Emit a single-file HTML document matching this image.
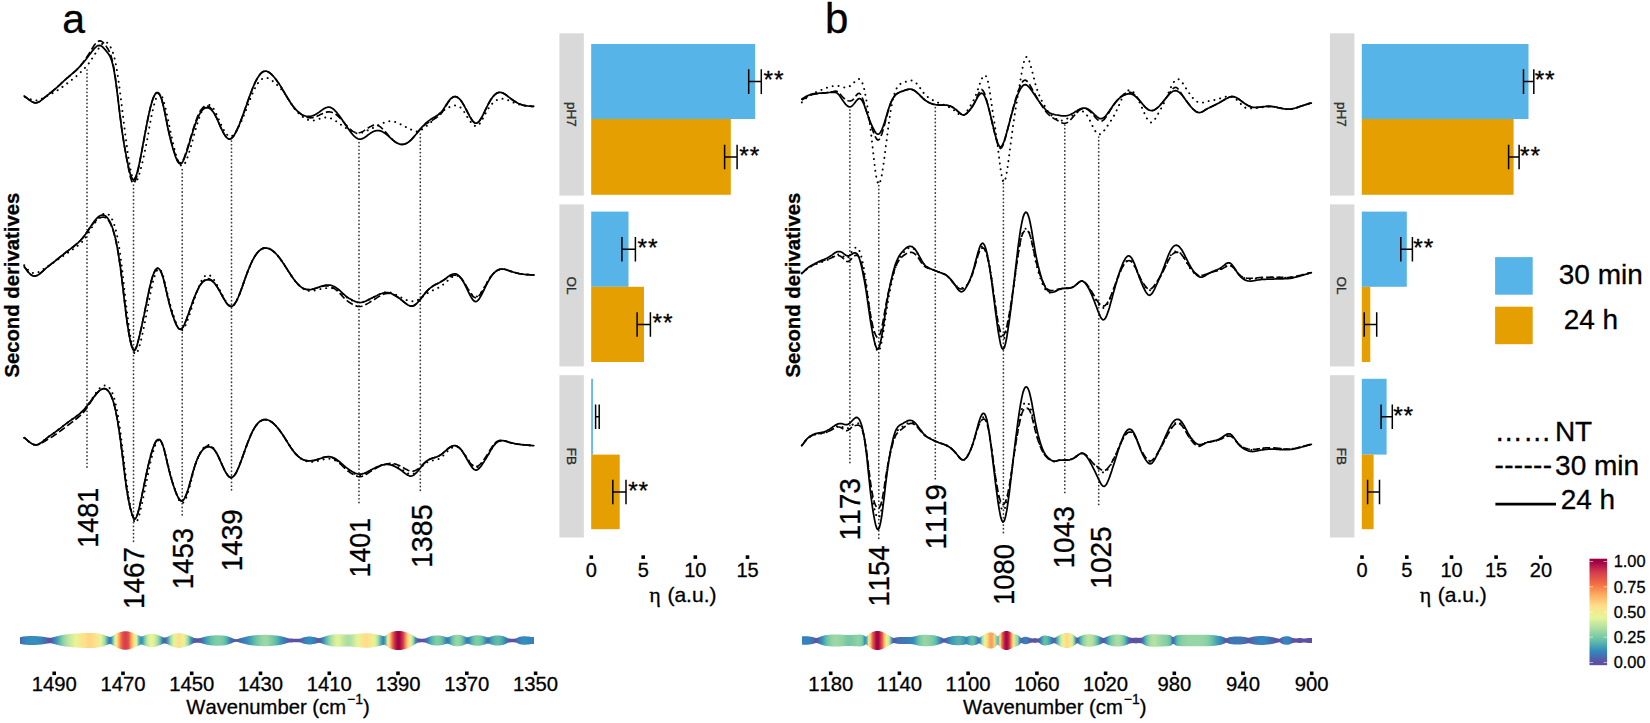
<!DOCTYPE html>
<html lang="en"><head><meta charset="utf-8"><title>Second derivative spectra</title>
<style>html,body{margin:0;padding:0;background:#fff}svg{display:block}text{stroke:#000;stroke-width:.3px;font-kerning:none}</style></head>
<body>
<svg width="1650" height="723" viewBox="0 0 1650 723" font-family='"Liberation Sans", sans-serif' fill="#000">
<rect width="1650" height="723" fill="#fff"/>
<line x1="87" y1="70" x2="87" y2="470.3" stroke="#3a3a3a" stroke-width="1.75" stroke-dasharray="0.1 3.61" stroke-linecap="round"/>
<line x1="133.5" y1="185" x2="133.5" y2="544.7" stroke="#3a3a3a" stroke-width="1.75" stroke-dasharray="0.1 3.61" stroke-linecap="round"/>
<line x1="182.2" y1="169.7" x2="182.2" y2="516.7" stroke="#3a3a3a" stroke-width="1.75" stroke-dasharray="0.1 3.61" stroke-linecap="round"/>
<line x1="231.5" y1="141" x2="231.5" y2="493.2" stroke="#3a3a3a" stroke-width="1.75" stroke-dasharray="0.1 3.61" stroke-linecap="round"/>
<line x1="359" y1="142.6" x2="359" y2="504.9" stroke="#3a3a3a" stroke-width="1.75" stroke-dasharray="0.1 3.61" stroke-linecap="round"/>
<line x1="420.3" y1="134" x2="420.3" y2="490.7" stroke="#3a3a3a" stroke-width="1.75" stroke-dasharray="0.1 3.61" stroke-linecap="round"/>
<line x1="849.9" y1="110" x2="849.9" y2="465.6" stroke="#3a3a3a" stroke-width="1.75" stroke-dasharray="0.1 3.61" stroke-linecap="round"/>
<line x1="878.8" y1="182" x2="878.8" y2="539.8" stroke="#3a3a3a" stroke-width="1.75" stroke-dasharray="0.1 3.61" stroke-linecap="round"/>
<line x1="935.3" y1="107.6" x2="935.3" y2="480.6" stroke="#3a3a3a" stroke-width="1.75" stroke-dasharray="0.1 3.61" stroke-linecap="round"/>
<line x1="1003.4" y1="180" x2="1003.4" y2="534" stroke="#3a3a3a" stroke-width="1.75" stroke-dasharray="0.1 3.61" stroke-linecap="round"/>
<line x1="1064.8" y1="125" x2="1064.8" y2="493.1" stroke="#3a3a3a" stroke-width="1.75" stroke-dasharray="0.1 3.61" stroke-linecap="round"/>
<line x1="1098.7" y1="137" x2="1098.7" y2="507.9" stroke="#3a3a3a" stroke-width="1.75" stroke-dasharray="0.1 3.61" stroke-linecap="round"/>
<path d="M25.2,97.2L26.4,97.6L27.7,98.1L28.9,98.7L30.2,99.2L31.4,99.6L32.7,100L34,100.3L35.2,100.5L36.5,100.4L37.7,100.3L39,99.9L40.2,99.5L41.5,98.9L42.7,98.2L44,97.6L45.2,96.9L46.5,96.2L47.7,95.6L49,95L50.2,94.3L51.5,93.7L52.7,93L54,92.4L55.2,91.6L56.5,90.9L57.7,90.1L59,89.3L60.2,88.4L61.5,87.5L62.7,86.7L64,85.8L65.2,84.9L66.5,83.9L67.7,83L69,82.1L70.2,81.2L71.5,80.2L72.7,79.2L74,78.2L75.2,77.2L76.5,76.1L77.7,75L79,73.9L80.2,72.7L81.5,71.5L82.7,70.3L84,69L85.2,67.7L86.5,66.2L87.7,64.7L89,63.1L90.2,61.3L91.5,59.5L92.7,57.6L94,55.7L95.2,53.7L96.5,51.8L97.7,49.9L99,48L100.2,46.3L101.5,44.7L102.7,43.4L104,42.4L105.2,42L106.5,42.2L107.7,43.1L109,44.6L110.2,46.5L111.5,48.8L112.7,51.9L114,55.9L115.2,61.1L116.5,67.6L117.7,75.3L119,84L120.2,93.5L121.5,103.4L122.7,113.5L124,123.7L125.2,133.7L126.5,143.2L127.7,152.2L128.9,160.4L130.2,167.6L131.4,173.6L132.7,178.2L133.9,181.1L135.2,182.2L136.4,181.4L137.7,179L138.9,175.4L140.2,171.2L141.4,166.4L142.7,161.3L143.9,155.8L145.2,149.9L146.4,143.5L147.7,136.7L148.9,129.8L150.2,123L151.4,116.5L152.7,110.6L153.9,105.4L155.2,101L156.4,97.4L157.7,94.9L158.9,93.6L160.2,93.7L161.4,95.2L162.7,98.1L163.9,102.1L165.2,106.8L166.4,112.2L167.7,118L168.9,124L170.2,130.1L171.4,136L172.7,141.7L173.9,147.1L175.2,152L176.4,156.3L177.7,159.9L178.9,162.8L180.2,164.8L181.4,165.8L182.7,165.8L183.9,164.7L185.2,162.8L186.4,160.1L187.7,156.7L188.9,153L190.2,148.9L191.4,144.6L192.7,140.1L193.9,135.6L195.2,131.1L196.4,126.7L197.7,122.5L198.9,118.6L200.2,115.2L201.4,112.1L202.7,109.7L203.9,107.7L205.2,106.2L206.4,105.3L207.7,104.8L208.9,104.8L210.2,105.2L211.4,106.1L212.7,107.4L213.9,109.2L215.2,111.4L216.4,114L217.7,116.8L218.9,119.7L220.2,122.6L221.4,125.3L222.7,127.8L223.9,130.2L225.2,132.2L226.4,134L227.7,135.4L228.9,136.3L230.2,136.7L231.4,136.5L232.7,135.7L233.9,134.5L235.2,132.8L236.4,130.9L237.7,128.7L238.9,126.3L240.2,123.7L241.4,121L242.7,118.2L243.9,115.2L245.2,112.1L246.4,108.9L247.7,105.6L248.9,102.4L250.2,99.1L251.4,96L252.7,93L253.9,90.2L255.2,87.7L256.4,85.5L257.7,83.5L258.9,81.8L260.2,80.5L261.4,79.4L262.7,78.6L263.9,78L265.2,77.8L266.4,77.8L267.7,78.1L268.9,78.6L270.2,79.3L271.4,80.1L272.7,81.1L273.9,82.1L275.2,83.2L276.4,84.3L277.7,85.5L278.9,86.7L280.2,88.1L281.4,89.4L282.7,90.9L283.9,92.5L285.2,94.2L286.4,96.1L287.7,98L288.9,99.9L290.2,101.9L291.4,103.9L292.7,105.8L293.9,107.7L295.2,109.4L296.4,111L297.7,112.4L298.9,113.7L300.2,114.8L301.4,115.8L302.7,116.8L303.9,117.6L305.2,118.4L306.4,119.1L307.7,119.7L308.9,120.1L310.2,120.4L311.4,120.5L312.7,120.5L313.9,120.4L315.2,120.1L316.4,119.8L317.7,119.4L318.9,119L320.2,118.6L321.4,118.2L322.7,117.9L323.9,117.6L325.2,117.5L326.4,117.4L327.7,117.5L328.9,117.8L330.2,118.1L331.4,118.6L332.7,119.2L333.9,119.9L335.2,120.6L336.4,121.4L337.7,122.3L338.9,123.2L340.2,124.1L341.4,125L342.7,125.8L343.9,126.7L345.2,127.5L346.4,128.3L347.7,129.1L348.9,129.8L350.2,130.6L351.4,131.2L352.7,131.9L353.9,132.4L355.2,132.9L356.4,133.2L357.7,133.3L358.9,133.3L360.2,133.1L361.4,132.8L362.7,132.4L363.9,131.9L365.2,131.3L366.4,130.8L367.7,130.3L368.9,129.7L370.2,129.2L371.4,128.7L372.7,128.1L373.9,127.5L375.2,126.9L376.4,126.3L377.7,125.6L378.9,125L380.2,124.4L381.4,123.8L382.7,123.2L383.9,122.7L385.2,122.2L386.4,121.8L387.7,121.5L388.9,121.3L390.2,121.2L391.4,121.3L392.7,121.4L393.9,121.6L395.2,122L396.4,122.4L397.7,122.9L398.9,123.5L400.2,124.1L401.4,124.7L402.7,125.4L403.9,126.1L405.2,126.7L406.4,127.3L407.7,127.9L408.9,128.5L410.2,129.1L411.4,129.7L412.7,130.3L413.9,130.8L415.2,131.2L416.4,131.4L417.7,131.4L418.9,131.1L420.2,130.5L421.4,129.8L422.7,128.9L423.9,128L425.2,127.1L426.4,126.1L427.7,125.1L428.9,124.1L430.2,123L431.4,121.8L432.7,120.5L433.9,119.2L435.2,117.9L436.4,116.6L437.7,115.3L438.9,114.2L440.2,113.1L441.4,112.1L442.7,111.2L443.9,110.3L445.2,109.5L446.4,108.7L447.7,108L448.9,107.4L450.2,106.8L451.4,106.4L452.7,105.9L453.9,105.7L455.2,105.5L456.4,105.6L457.7,105.8L458.9,106.4L460.2,107.2L461.4,108.3L462.7,109.7L463.9,111.5L465.2,113.4L466.4,115.5L467.7,117.6L468.9,119.5L470.2,121.2L471.4,122.8L472.7,124.2L473.9,125.3L475.2,126L476.4,126.2L477.7,125.7L478.9,124.7L480.2,123.1L481.4,121.2L482.7,118.9L483.9,116.5L485.2,114.1L486.4,111.8L487.7,109.6L488.9,107.7L490.2,106L491.4,104.5L492.7,103.2L493.9,102.1L495.2,101.1L496.4,100.3L497.7,99.6L498.9,99.2L500.2,98.8L501.4,98.7L502.7,98.7L503.9,98.8L505.2,99.1L506.4,99.5L507.7,100L508.9,100.5L510.2,101.1L511.4,101.6L512.7,102.2L514,102.7L515.2,103.2L516.5,103.7L517.7,104.1L519,104.4L520.2,104.8L521.5,105.1L522.7,105.3L524,105.5L525.2,105.7L526.5,105.8L527.7,106L529,106.1L530.2,106.2L531.5,106.3L532.7,106.3L533.7,106.4" fill="none" stroke="#000" stroke-width="1.95" stroke-dasharray="0.1 5.8" stroke-linecap="round"/>
<path d="M24.2,96.1L25.4,96.9L26.7,97.9L27.9,98.9L29.2,99.9L30.4,100.8L31.7,101.6L33,102.2L34.2,102.6L35.5,102.8L36.7,102.7L38,102.3L39.2,101.7L40.5,100.9L41.7,99.9L43,98.9L44.2,97.8L45.5,96.8L46.7,95.8L48,94.8L49.2,93.8L50.5,92.8L51.7,91.8L53,90.8L54.2,89.7L55.5,88.7L56.7,87.5L58,86.4L59.2,85.3L60.5,84.1L61.7,82.9L63,81.8L64.2,80.6L65.5,79.5L66.7,78.4L68,77.4L69.2,76.3L70.5,75.3L71.7,74.2L73,73.2L74.2,72.1L75.5,71L76.7,69.8L78,68.5L79.2,67.1L80.5,65.7L81.7,64.1L83,62.5L84.2,60.8L85.5,59L86.7,57.2L88,55.3L89.2,53.3L90.5,51.2L91.7,49.2L93,47.2L94.2,45.3L95.5,43.7L96.7,42.3L98,41.4L99.2,40.9L100.5,40.9L101.7,41.4L103,42.4L104.2,43.7L105.5,45.3L106.7,47.1L108,49L109.2,51.3L110.5,54.3L111.7,58.2L113,63.3L114.2,70L115.5,78.3L116.7,87.8L118,98.1L119.2,108.6L120.5,118.8L121.7,128.3L123,136.9L124.2,144.8L125.5,152.2L126.7,159.1L128,165.8L129.2,172L130.4,177.2L131.7,181.1L132.9,183.1L134.2,182.9L135.4,180.6L136.7,176.6L137.9,171.3L139.2,165.3L140.4,158.8L141.7,152.2L142.9,145.4L144.2,138.5L145.4,131.7L146.7,125.1L147.9,118.7L149.2,112.8L150.4,107.4L151.7,102.7L152.9,98.7L154.2,95.7L155.4,93.6L156.7,92.5L157.9,92.5L159.2,93.6L160.4,95.9L161.7,99.2L162.9,103.7L164.2,109.1L165.4,115.2L166.7,121.5L167.9,127.6L169.2,133.4L170.4,138.6L171.7,143.3L172.9,147.7L174.2,151.7L175.4,155.3L176.7,158.5L177.9,161L179.2,162.5L180.4,162.9L181.7,162.1L182.9,160.3L184.2,157.5L185.4,154.2L186.7,150.5L187.9,146.5L189.2,142.4L190.4,138.2L191.7,134L192.9,129.9L194.2,126L195.4,122.3L196.7,118.8L197.9,115.7L199.2,113L200.4,110.7L201.7,108.9L202.9,107.5L204.2,106.5L205.4,105.9L206.7,105.8L207.9,106.1L209.2,106.8L210.4,107.9L211.7,109.3L212.9,111.1L214.2,113.2L215.4,115.6L216.7,118.2L217.9,121L219.2,123.8L220.4,126.6L221.7,129.3L222.9,131.8L224.2,134.1L225.4,136L226.7,137.5L227.9,138.6L229.2,139.1L230.4,139L231.7,138.2L232.9,137L234.2,135.2L235.4,133L236.7,130.6L237.9,127.8L239.2,124.9L240.4,121.7L241.7,118.4L242.9,115L244.2,111.6L245.4,108L246.7,104.5L247.9,100.9L249.2,97.4L250.4,94L251.7,90.7L252.9,87.5L254.2,84.6L255.4,81.9L256.7,79.5L257.9,77.4L259.2,75.5L260.4,73.9L261.7,72.7L262.9,71.8L264.2,71.3L265.4,71.1L266.7,71.2L267.9,71.7L269.2,72.4L270.4,73.4L271.7,74.5L272.9,75.8L274.2,77.3L275.4,78.8L276.7,80.4L277.9,82.2L279.2,84L280.4,85.9L281.7,88L282.9,90.1L284.2,92.2L285.4,94.3L286.7,96.5L287.9,98.6L289.2,100.6L290.4,102.5L291.7,104.4L292.9,106.1L294.2,107.7L295.4,109.1L296.7,110.4L297.9,111.6L299.2,112.7L300.4,113.7L301.7,114.6L302.9,115.4L304.2,116.2L305.4,116.8L306.7,117.3L307.9,117.6L309.2,117.8L310.4,117.9L311.7,117.8L312.9,117.6L314.2,117.3L315.4,116.9L316.7,116.4L317.9,115.8L319.2,115.2L320.4,114.6L321.7,114L322.9,113.4L324.2,112.9L325.4,112.5L326.7,112.1L327.9,111.9L329.2,111.9L330.4,112L331.7,112.3L332.9,112.7L334.2,113.3L335.4,114.1L336.7,115L337.9,116.1L339.2,117.3L340.4,118.6L341.7,119.9L342.9,121.3L344.2,122.8L345.4,124.2L346.7,125.6L347.9,127L349.2,128.3L350.4,129.4L351.7,130.5L352.9,131.4L354.2,132L355.4,132.5L356.7,132.8L357.9,132.9L359.2,132.8L360.4,132.5L361.7,132L362.9,131.4L364.2,130.6L365.4,129.8L366.7,129L367.9,128.1L369.2,127.3L370.4,126.6L371.7,125.9L372.9,125.4L374.2,125.1L375.4,125L376.7,125.1L377.9,125.4L379.2,126.1L380.4,126.9L381.7,128L382.9,129.2L384.2,130.5L385.4,131.9L386.7,133.3L387.9,134.7L389.2,136.2L390.4,137.5L391.7,138.8L392.9,140L394.2,141.1L395.4,142.1L396.7,142.9L397.9,143.5L399.2,144L400.4,144.3L401.7,144.5L402.9,144.4L404.2,144.2L405.4,143.8L406.7,143.2L407.9,142.5L409.2,141.5L410.4,140.5L411.7,139.3L412.9,137.9L414.2,136.5L415.4,134.9L416.7,133.4L417.9,131.9L419.2,130.4L420.4,129.1L421.7,127.7L422.9,126.5L424.2,125.4L425.4,124.4L426.7,123.6L427.9,122.8L429.2,122.1L430.4,121.4L431.7,120.7L432.9,119.9L434.2,119.1L435.4,118.2L436.7,117.3L437.9,116.4L439.2,115.4L440.4,114.3L441.7,112.9L442.9,111.2L444.2,109.2L445.4,107.1L446.7,104.9L447.9,102.9L449.2,101L450.4,99.5L451.7,98.2L452.9,97.3L454.2,96.8L455.4,96.6L456.7,96.9L457.9,97.6L459.2,98.6L460.4,100L461.7,101.6L462.9,103.6L464.2,105.8L465.4,108.1L466.7,110.5L467.9,112.9L469.2,115.3L470.4,117.6L471.7,119.6L472.9,121.3L474.2,122.5L475.4,123.2L476.7,123.2L477.9,122.5L479.2,121.3L480.4,119.5L481.7,117.4L482.9,115.1L484.2,112.5L485.4,109.9L486.7,107.4L487.9,104.9L489.2,102.5L490.4,100.3L491.7,98.4L492.9,96.7L494.2,95.3L495.4,94.2L496.7,93.3L497.9,92.7L499.2,92.4L500.4,92.4L501.7,92.6L502.9,93.1L504.2,93.7L505.4,94.5L506.7,95.4L507.9,96.4L509.2,97.4L510.4,98.3L511.7,99.3L513,100.2L514.2,101L515.5,101.8L516.7,102.5L518,103.2L519.2,103.8L520.5,104.3L521.7,104.7L523,105.1L524.2,105.4L525.5,105.6L526.7,105.8L528,106L529.2,106.1L530.5,106.2L531.7,106.3L533,106.3L533.7,106.4" fill="none" stroke="#000" stroke-width="1.65" stroke-dasharray="7.2 3"/>
<path d="M24.2,96.1L25.4,96.9L26.7,97.9L27.9,98.9L29.2,99.9L30.4,100.8L31.7,101.6L33,102.2L34.2,102.6L35.5,102.8L36.7,102.7L38,102.3L39.2,101.7L40.5,100.9L41.7,99.9L43,98.9L44.2,97.8L45.5,96.8L46.7,95.8L48,94.8L49.2,93.8L50.5,92.8L51.7,91.8L53,90.8L54.2,89.7L55.5,88.7L56.7,87.6L58,86.4L59.2,85.3L60.5,84.1L61.7,82.9L63,81.8L64.2,80.6L65.5,79.5L66.7,78.4L68,77.3L69.2,76.2L70.5,75.2L71.7,74.1L73,73L74.2,71.9L75.5,70.8L76.7,69.6L78,68.4L79.2,67.2L80.5,65.8L81.7,64.5L83,63L84.2,61.5L85.5,60L86.7,58.4L88,56.7L89.2,55.1L90.5,53.4L91.7,51.7L93,50.1L94.2,48.6L95.5,47.3L96.7,46.3L98,45.6L99.2,45.4L100.5,45.6L101.7,46.3L103,47.3L104.2,48.6L105.5,50.1L106.7,51.6L108,53.2L109.2,55L110.5,57.4L111.7,60.8L113,65.4L114.2,71.7L115.5,79.7L116.7,88.9L118,99L119.2,109.4L120.5,119.5L121.7,128.8L123,137.3L124.2,144.9L125.5,151.9L126.7,158.4L128,164.4L129.2,169.9L130.4,174.5L131.7,177.8L132.9,179.6L134.2,179.5L135.4,177.5L136.7,174.1L137.9,169.4L139.2,163.9L140.4,157.8L141.7,151.4L142.9,144.7L144.2,138L145.4,131.3L146.7,124.7L147.9,118.5L149.2,112.6L150.4,107.4L151.7,102.7L152.9,98.9L154.2,95.9L155.4,93.8L156.7,92.8L157.9,92.8L159.2,93.9L160.4,96.2L161.7,99.6L162.9,104.1L164.2,109.6L165.4,115.7L166.7,122.1L167.9,128.3L169.2,134.1L170.4,139.3L171.7,144.1L172.9,148.5L174.2,152.5L175.4,156.3L176.7,159.5L177.9,162L179.2,163.5L180.4,164L181.7,163.2L182.9,161.4L184.2,158.8L185.4,155.5L186.7,151.8L187.9,147.9L189.2,143.8L190.4,139.6L191.7,135.5L192.9,131.4L194.2,127.5L195.4,123.8L196.7,120.4L197.9,117.4L199.2,114.8L200.4,112.6L201.7,110.8L202.9,109.5L204.2,108.5L205.4,107.9L206.7,107.7L207.9,107.8L209.2,108.2L210.4,108.9L211.7,110.1L212.9,111.6L214.2,113.4L215.4,115.7L216.7,118.2L217.9,120.9L219.2,123.8L220.4,126.6L221.7,129.3L222.9,131.8L224.2,134.1L225.4,136L226.7,137.6L227.9,138.6L229.2,139.1L230.4,139L231.7,138.2L232.9,137L234.2,135.2L235.4,133L236.7,130.6L237.9,127.8L239.2,124.9L240.4,121.7L241.7,118.4L242.9,115L244.2,111.6L245.4,108L246.7,104.5L247.9,100.9L249.2,97.4L250.4,94L251.7,90.7L252.9,87.5L254.2,84.6L255.4,81.9L256.7,79.5L257.9,77.4L259.2,75.5L260.4,73.9L261.7,72.7L262.9,71.8L264.2,71.3L265.4,71.1L266.7,71.2L267.9,71.7L269.2,72.4L270.4,73.4L271.7,74.5L272.9,75.8L274.2,77.3L275.4,78.8L276.7,80.4L277.9,82.2L279.2,84L280.4,85.9L281.7,88L282.9,90.1L284.2,92.2L285.4,94.3L286.7,96.5L287.9,98.6L289.2,100.6L290.4,102.5L291.7,104.4L292.9,106.1L294.2,107.7L295.4,109.1L296.7,110.4L297.9,111.6L299.2,112.7L300.4,113.6L301.7,114.4L302.9,115.1L304.2,115.6L305.4,116L306.7,116.3L307.9,116.4L309.2,116.4L310.4,116.3L311.7,116L312.9,115.7L314.2,115.1L315.4,114.5L316.7,113.8L317.9,113L319.2,112.1L320.4,111.2L321.7,110.3L322.9,109.4L324.2,108.6L325.4,107.9L326.7,107.5L327.9,107.2L329.2,107.2L330.4,107.4L331.7,108L332.9,108.8L334.2,109.8L335.4,111.1L336.7,112.4L337.9,114L339.2,115.6L340.4,117.3L341.7,119.1L342.9,120.9L344.2,122.8L345.4,124.7L346.7,126.5L347.9,128.3L349.2,130.1L350.4,131.8L351.7,133.4L352.9,134.8L354.2,136.1L355.4,137.2L356.7,138.1L357.9,138.8L359.2,139.1L360.4,139.2L361.7,138.9L362.9,138.4L364.2,137.7L365.4,136.9L366.7,136L367.9,135L369.2,134.1L370.4,133.3L371.7,132.5L372.9,131.8L374.2,131.2L375.4,130.8L376.7,130.5L377.9,130.5L379.2,130.6L380.4,130.9L381.7,131.3L382.9,132L384.2,132.7L385.4,133.6L386.7,134.6L387.9,135.7L389.2,136.8L390.4,137.9L391.7,139L392.9,140.1L394.2,141.1L395.4,142L396.7,142.8L397.9,143.4L399.2,143.9L400.4,144.3L401.7,144.4L402.9,144.4L404.2,144.2L405.4,143.8L406.7,143.2L407.9,142.5L409.2,141.5L410.4,140.5L411.7,139.3L412.9,137.9L414.2,136.5L415.4,135L416.7,133.5L417.9,131.9L419.2,130.4L420.4,128.9L421.7,127.4L422.9,126.1L424.2,124.8L425.4,123.5L426.7,122.4L427.9,121.4L429.2,120.5L430.4,119.6L431.7,118.8L432.9,118L434.2,117.2L435.4,116.5L436.7,115.7L437.9,114.9L439.2,114L440.4,112.9L441.7,111.6L442.9,110L444.2,108.1L445.4,106.1L446.7,104.1L447.9,102.1L449.2,100.5L450.4,99L451.7,97.9L452.9,97.1L454.2,96.7L455.4,96.6L456.7,97L457.9,97.6L459.2,98.6L460.4,100L461.7,101.6L462.9,103.6L464.2,105.7L465.4,108.1L466.7,110.5L467.9,112.9L469.2,115.3L470.4,117.6L471.7,119.6L472.9,121.3L474.2,122.5L475.4,123.2L476.7,123.2L477.9,122.5L479.2,121.3L480.4,119.5L481.7,117.4L482.9,115.1L484.2,112.5L485.4,109.9L486.7,107.4L487.9,104.9L489.2,102.5L490.4,100.3L491.7,98.4L492.9,96.7L494.2,95.3L495.4,94.2L496.7,93.3L497.9,92.7L499.2,92.4L500.4,92.4L501.7,92.6L502.9,93.1L504.2,93.7L505.4,94.5L506.7,95.4L507.9,96.4L509.2,97.4L510.4,98.3L511.7,99.3L513,100.2L514.2,101L515.5,101.8L516.7,102.5L518,103.2L519.2,103.8L520.5,104.3L521.7,104.7L523,105.1L524.2,105.4L525.5,105.6L526.7,105.8L528,106L529.2,106.1L530.5,106.2L531.7,106.3L533,106.3L533.7,106.4" fill="none" stroke="#000" stroke-width="1.75" stroke-linejoin="round" stroke-linecap="round"/>
<path d="M24.2,265.2L25.4,266.5L26.7,268.2L27.9,269.7L29.2,271L30.4,271.9L31.7,272.6L33,273L34.2,273.2L35.5,273.1L36.7,272.8L38,272.4L39.2,271.8L40.5,271L41.7,270.3L43,269.4L44.2,268.6L45.5,267.7L46.7,266.9L48,266.1L49.2,265.3L50.5,264.5L51.7,263.7L53,262.9L54.2,262.1L55.5,261.2L56.7,260.4L58,259.5L59.2,258.6L60.5,257.8L61.7,256.9L63,256L64.2,255.1L65.5,254.3L66.7,253.4L68,252.6L69.2,251.7L70.5,250.9L71.7,250L73,249.2L74.2,248.3L75.5,247.4L76.7,246.5L78,245.5L79.2,244.5L80.5,243.5L81.7,242.3L83,241L84.2,239.5L85.5,237.8L86.7,235.9L88,233.8L89.2,231.7L90.5,229.6L91.7,227.6L93,225.7L94.2,223.8L95.5,222.1L96.7,220.4L98,218.8L99.2,217.3L100.5,216L101.7,214.9L103,214.1L104.2,213.5L105.5,213.3L106.7,213.5L108,214.1L109.2,215L110.5,216.5L111.7,218.4L113,221.1L114.2,224.5L115.5,228.7L116.7,233.9L118,240.2L119.2,247.5L120.5,256.1L121.7,265.8L123,276.4L124.2,287.6L125.5,298.8L126.7,309.5L128,319.4L129.2,328.3L130.4,336.4L131.7,343.6L132.9,349.3L134.2,352.9L135.4,354.2L136.7,353.3L137.9,350.8L139.2,347.1L140.4,342.6L141.7,337.6L142.9,332L144.2,326L145.4,319.6L146.7,313.1L147.9,306.4L149.2,299.8L150.4,293.5L151.7,287.6L152.9,282.2L154.2,277.5L155.4,273.7L156.7,271L157.9,269.3L159.2,269L160.4,269.9L161.7,272L162.9,275.3L164.2,279.6L165.4,284.7L166.7,290L167.9,295.4L169.2,300.4L170.4,305.1L171.7,309.4L172.9,313.5L174.2,317.5L175.4,321.2L176.7,324.5L177.9,327.3L179.2,329.4L180.4,330.5L181.7,330.5L182.9,329.6L184.2,327.9L185.4,325.5L186.7,322.5L187.9,319.2L189.2,315.6L190.4,311.8L191.7,307.9L192.9,303.9L194.2,300L195.4,296.1L196.7,292.5L197.9,289L199.2,285.8L200.4,282.9L201.7,280.4L202.9,278.4L204.2,276.8L205.4,275.6L206.7,274.9L207.9,274.8L209.2,275.1L210.4,275.8L211.7,276.9L212.9,278.4L214.2,280.1L215.4,282.1L216.7,284.3L217.9,286.5L219.2,288.9L220.4,291.3L221.7,293.7L222.9,296.1L224.2,298.4L225.4,300.6L226.7,302.6L227.9,304.3L229.2,305.5L230.4,306.2L231.7,306.4L232.9,305.8L234.2,304.6L235.4,302.9L236.7,300.6L237.9,298L239.2,295L240.4,291.8L241.7,288.4L242.9,284.8L244.2,281.3L245.4,277.8L246.7,274.3L247.9,271L249.2,267.9L250.4,265L251.7,262.2L252.9,259.7L254.2,257.4L255.4,255.4L256.7,253.6L257.9,252.1L259.2,250.8L260.4,249.8L261.7,249L262.9,248.4L264.2,248.1L265.4,248L266.7,248L267.9,248.3L269.2,248.7L270.4,249.3L271.7,250.1L272.9,251L274.2,252L275.4,253.2L276.7,254.5L277.9,255.9L279.2,257.5L280.4,259.1L281.7,260.9L282.9,262.7L284.2,264.6L285.4,266.6L286.7,268.5L287.9,270.5L289.2,272.4L290.4,274.3L291.7,276.2L292.9,278L294.2,279.7L295.4,281.3L296.7,282.8L297.9,284.2L299.2,285.5L300.4,286.6L301.7,287.6L302.9,288.5L304.2,289.3L305.4,289.9L306.7,290.4L307.9,290.7L309.2,290.9L310.4,291L311.7,290.9L312.9,290.8L314.2,290.6L315.4,290.3L316.7,290L317.9,289.7L319.2,289.4L320.4,289.1L321.7,288.9L322.9,288.6L324.2,288.4L325.4,288.2L326.7,288.1L327.9,288L329.2,288L330.4,288.1L331.7,288.2L332.9,288.4L334.2,288.7L335.4,289.1L336.7,289.7L337.9,290.4L339.2,291.2L340.4,292.2L341.7,293.2L342.9,294.3L344.2,295.4L345.4,296.4L346.7,297.3L347.9,298.2L349.2,298.9L350.4,299.6L351.7,300.2L352.9,300.8L354.2,301.3L355.4,301.8L356.7,302.1L357.9,302.4L359.2,302.5L360.4,302.5L361.7,302.4L362.9,302.1L364.2,301.6L365.4,301.2L366.7,300.6L367.9,300L369.2,299.4L370.4,298.8L371.7,298.2L372.9,297.6L374.2,296.9L375.4,296.3L376.7,295.7L377.9,295L379.2,294.4L380.4,293.8L381.7,293.3L382.9,292.8L384.2,292.5L385.4,292.2L386.7,292.1L387.9,292.1L389.2,292.3L390.4,292.5L391.7,292.9L392.9,293.4L394.2,293.9L395.4,294.5L396.7,295.1L397.9,295.8L399.2,296.5L400.4,297.2L401.7,297.8L402.9,298.5L404.2,299.1L405.4,299.6L406.7,300.1L407.9,300.6L409.2,300.9L410.4,301.1L411.7,301.3L412.9,301.3L414.2,301.2L415.4,301L416.7,300.6L417.9,300L419.2,299.3L420.4,298.5L421.7,297.5L422.9,296.5L424.2,295.5L425.4,294.6L426.7,293.7L427.9,292.9L429.2,292.1L430.4,291.5L431.7,290.9L432.9,290.3L434.2,289.7L435.4,289.2L436.7,288.6L437.9,288L439.2,287.3L440.4,286.6L441.7,285.7L442.9,284.8L444.2,283.7L445.4,282.7L446.7,281.5L447.9,280.4L449.2,279.3L450.4,278.2L451.7,277.3L452.9,276.6L454.2,276L455.4,275.7L456.7,275.7L457.9,276L459.2,276.7L460.4,277.7L461.7,279.1L462.9,280.7L464.2,282.6L465.4,284.7L466.7,286.8L467.9,288.9L469.2,290.9L470.4,292.7L471.7,294.3L472.9,295.6L474.2,296.4L475.4,296.8L476.7,296.6L477.9,296L479.2,294.9L480.4,293.4L481.7,291.6L482.9,289.7L484.2,287.5L485.4,285.3L486.7,283.1L487.9,281L489.2,279L490.4,277.1L491.7,275.5L492.9,274L494.2,272.8L495.4,271.7L496.7,270.8L497.9,270.1L499.2,269.6L500.4,269.2L501.7,269.1L502.9,269.1L504.2,269.2L505.4,269.5L506.7,269.8L507.9,270.3L509.2,270.7L510.4,271.2L511.7,271.6L513,272L514.2,272.4L515.5,272.7L516.7,273L518,273.3L519.2,273.6L520.5,273.8L521.7,274L523,274.2L524.2,274.3L525.5,274.5L526.7,274.6L528,274.6L529.2,274.7L530.5,274.8L531.7,274.8L533,274.9L533.7,274.9" fill="none" stroke="#000" stroke-width="1.95" stroke-dasharray="0.1 5.8" stroke-linecap="round"/>
<path d="M24.2,266.8L25.4,268.2L26.7,270L27.9,271.7L29.2,273.1L30.4,274.3L31.7,275.2L33,275.8L34.2,276L35.5,276L36.7,275.6L38,275L39.2,274.2L40.5,273.2L41.7,272.1L43,271L44.2,269.8L45.5,268.7L46.7,267.6L48,266.6L49.2,265.6L50.5,264.6L51.7,263.6L53,262.6L54.2,261.7L55.5,260.7L56.7,259.7L58,258.7L59.2,257.7L60.5,256.7L61.7,255.7L63,254.7L64.2,253.7L65.5,252.7L66.7,251.7L68,250.8L69.2,249.8L70.5,248.9L71.7,247.9L73,247L74.2,246L75.5,244.9L76.7,243.9L78,242.8L79.2,241.6L80.5,240.4L81.7,239L83,237.6L84.2,236L85.5,234.3L86.7,232.5L88,230.6L89.2,228.7L90.5,226.9L91.7,225.3L93,223.8L94.2,222.4L95.5,221.1L96.7,220L98,219.1L99.2,218.2L100.5,217.6L101.7,217.2L103,217.1L104.2,217.2L105.5,217.7L106.7,218.6L108,219.9L109.2,221.6L110.5,223.9L111.7,226.7L113,230.1L114.2,234.3L115.5,239.3L116.7,245.1L118,251.8L119.2,259.5L120.5,268.2L121.7,277.9L123,288.4L124.2,299.1L125.5,309.6L126.7,319.3L128,327.9L129.2,335.3L130.4,341.4L131.7,346.2L132.9,349.4L134.2,350.6L135.4,349.4L136.7,346.4L137.9,342.1L139.2,337.1L140.4,331.7L141.7,326.1L142.9,320.4L144.2,314.4L145.4,308.2L146.7,302L147.9,295.8L149.2,289.9L150.4,284.4L151.7,279.6L152.9,275.6L154.2,272.3L155.4,270L156.7,268.6L157.9,268.2L159.2,268.9L160.4,270.6L161.7,273.4L162.9,277.1L164.2,281.8L165.4,287.1L166.7,292.6L167.9,298.1L169.2,303.1L170.4,307.8L171.7,312L172.9,315.9L174.2,319.5L175.4,322.7L176.7,325.5L177.9,327.6L179.2,329L180.4,329.3L181.7,328.7L182.9,327.2L184.2,324.9L185.4,322L186.7,318.8L187.9,315.3L189.2,311.8L190.4,308.2L191.7,304.7L192.9,301.2L194.2,297.9L195.4,294.8L196.7,292L197.9,289.3L199.2,286.9L200.4,284.8L201.7,283L202.9,281.5L204.2,280.3L205.4,279.4L206.7,278.9L207.9,278.7L209.2,278.9L210.4,279.4L211.7,280.2L212.9,281.3L214.2,282.7L215.4,284.3L216.7,286.1L217.9,288.2L219.2,290.3L220.4,292.6L221.7,294.9L222.9,297.1L224.2,299.3L225.4,301.3L226.7,303.2L227.9,304.7L229.2,305.8L230.4,306.3L231.7,306.4L232.9,305.8L234.2,304.6L235.4,302.8L236.7,300.6L237.9,298L239.2,295L240.4,291.8L241.7,288.4L242.9,284.9L244.2,281.3L245.4,277.8L246.7,274.3L247.9,271L249.2,267.9L250.4,265L251.7,262.2L252.9,259.7L254.2,257.4L255.4,255.4L256.7,253.6L257.9,252.1L259.2,250.8L260.4,249.8L261.7,249L262.9,248.4L264.2,248.1L265.4,248L266.7,248L267.9,248.3L269.2,248.7L270.4,249.3L271.7,250.1L272.9,251L274.2,252L275.4,253.2L276.7,254.5L277.9,255.9L279.2,257.5L280.4,259.1L281.7,260.9L282.9,262.7L284.2,264.6L285.4,266.6L286.7,268.5L287.9,270.5L289.2,272.4L290.4,274.3L291.7,276.2L292.9,278L294.2,279.7L295.4,281.3L296.7,282.8L297.9,284.2L299.2,285.4L300.4,286.5L301.7,287.4L302.9,288.2L304.2,288.8L305.4,289.2L306.7,289.5L307.9,289.6L309.2,289.7L310.4,289.5L311.7,289.3L312.9,289.1L314.2,288.7L315.4,288.3L316.7,287.9L317.9,287.5L319.2,287.1L320.4,286.8L321.7,286.5L322.9,286.2L324.2,286L325.4,285.9L326.7,285.9L327.9,286L329.2,286.2L330.4,286.6L331.7,287.1L332.9,287.7L334.2,288.4L335.4,289.3L336.7,290.3L337.9,291.5L339.2,292.7L340.4,294L341.7,295.4L342.9,296.7L344.2,298.1L345.4,299.3L346.7,300.4L347.9,301.4L349.2,302.3L350.4,303.1L351.7,303.8L352.9,304.5L354.2,305.1L355.4,305.6L356.7,306.1L357.9,306.4L359.2,306.5L360.4,306.5L361.7,306.3L362.9,305.9L364.2,305.4L365.4,304.8L366.7,304.1L367.9,303.4L369.2,302.6L370.4,301.8L371.7,301.1L372.9,300.3L374.2,299.5L375.4,298.7L376.7,297.9L377.9,297.1L379.2,296.4L380.4,295.7L381.7,295L382.9,294.4L384.2,294L385.4,293.6L386.7,293.4L387.9,293.3L389.2,293.4L390.4,293.6L391.7,294L392.9,294.4L394.2,295L395.4,295.7L396.7,296.5L397.9,297.3L399.2,298.2L400.4,299.1L401.7,300.1L402.9,301.1L404.2,302.2L405.4,303.2L406.7,304.1L407.9,304.9L409.2,305.6L410.4,306L411.7,306.1L412.9,305.9L414.2,305.4L415.4,304.6L416.7,303.5L417.9,302.2L419.2,300.7L420.4,299.2L421.7,297.6L422.9,295.9L424.2,294.4L425.4,292.8L426.7,291.4L427.9,290.1L429.2,288.9L430.4,287.9L431.7,286.9L432.9,286.1L434.2,285.3L435.4,284.6L436.7,284L437.9,283.3L439.2,282.7L440.4,282L441.7,281.3L442.9,280.6L444.2,279.9L445.4,279.1L446.7,278.4L447.9,277.7L449.2,277L450.4,276.4L451.7,275.9L452.9,275.5L454.2,275.3L455.4,275.2L456.7,275.4L457.9,275.8L459.2,276.5L460.4,277.5L461.7,278.8L462.9,280.5L464.2,282.4L465.4,284.5L466.7,286.7L467.9,288.9L469.2,291.1L470.4,293.1L471.7,294.8L472.9,296.3L474.2,297.2L475.4,297.7L476.7,297.5L477.9,296.8L479.2,295.6L480.4,294L481.7,292.2L482.9,290.1L484.2,287.8L485.4,285.6L486.7,283.3L487.9,281.1L489.2,279L490.4,277.2L491.7,275.5L492.9,274L494.2,272.8L495.4,271.7L496.7,270.8L497.9,270.1L499.2,269.6L500.4,269.2L501.7,269.1L502.9,269.1L504.2,269.2L505.4,269.5L506.7,269.8L507.9,270.3L509.2,270.7L510.4,271.2L511.7,271.6L513,272L514.2,272.4L515.5,272.7L516.7,273L518,273.3L519.2,273.6L520.5,273.8L521.7,274L523,274.2L524.2,274.3L525.5,274.5L526.7,274.6L528,274.6L529.2,274.7L530.5,274.8L531.7,274.8L533,274.9L533.7,274.9" fill="none" stroke="#000" stroke-width="1.65" stroke-dasharray="7.2 3"/>
<path d="M24.2,266.8L25.4,268.2L26.7,270L27.9,271.7L29.2,273.1L30.4,274.3L31.7,275.2L33,275.8L34.2,276L35.5,276L36.7,275.6L38,275L39.2,274.2L40.5,273.2L41.7,272.1L43,271L44.2,269.8L45.5,268.7L46.7,267.6L48,266.6L49.2,265.6L50.5,264.6L51.7,263.6L53,262.6L54.2,261.7L55.5,260.7L56.7,259.7L58,258.7L59.2,257.7L60.5,256.7L61.7,255.7L63,254.7L64.2,253.7L65.5,252.7L66.7,251.7L68,250.8L69.2,249.8L70.5,248.9L71.7,247.9L73,247L74.2,246L75.5,245L76.7,243.9L78,242.8L79.2,241.6L80.5,240.3L81.7,239L83,237.6L84.2,236L85.5,234.3L86.7,232.5L88,230.7L89.2,228.7L90.5,226.8L91.7,224.9L93,223.1L94.2,221.4L95.5,219.8L96.7,218.4L98,217.2L99.2,216.2L100.5,215.5L101.7,215.1L103,215.1L104.2,215.3L105.5,216L106.7,217.1L108,218.6L109.2,220.5L110.5,222.9L111.7,225.8L113,229.3L114.2,233.6L115.5,238.6L116.7,244.6L118,251.4L119.2,259.2L120.5,267.9L121.7,277.7L123,288.2L124.2,299L125.5,309.5L126.7,319.3L128,327.9L129.2,335.3L130.4,341.4L131.7,346.2L132.9,349.4L134.2,350.6L135.4,349.4L136.7,346.4L137.9,342.1L139.2,337.1L140.4,331.7L141.7,326.1L142.9,320.4L144.2,314.4L145.4,308.2L146.7,302L147.9,295.8L149.2,289.9L150.4,284.4L151.7,279.6L152.9,275.6L154.2,272.3L155.4,270L156.7,268.6L157.9,268.2L159.2,268.9L160.4,270.6L161.7,273.4L162.9,277.1L164.2,281.8L165.4,287.1L166.7,292.6L167.9,298.1L169.2,303.1L170.4,307.8L171.7,312L172.9,315.9L174.2,319.5L175.4,322.7L176.7,325.5L177.9,327.6L179.2,329L180.4,329.3L181.7,328.7L182.9,327.2L184.2,324.8L185.4,322L186.7,318.8L187.9,315.3L189.2,311.8L190.4,308.2L191.7,304.7L192.9,301.3L194.2,297.9L195.4,294.8L196.7,291.9L197.9,289.3L199.2,286.9L200.4,284.9L201.7,283.2L202.9,281.9L204.2,280.9L205.4,280.2L206.7,279.8L207.9,279.7L209.2,279.8L210.4,280.2L211.7,280.8L212.9,281.7L214.2,282.9L215.4,284.4L216.7,286.1L217.9,288L219.2,290.2L220.4,292.5L221.7,294.8L222.9,297.1L224.2,299.3L225.4,301.4L226.7,303.2L227.9,304.7L229.2,305.8L230.4,306.4L231.7,306.4L232.9,305.7L234.2,304.5L235.4,302.8L236.7,300.6L237.9,298L239.2,295L240.4,291.8L241.7,288.4L242.9,284.9L244.2,281.3L245.4,277.8L246.7,274.3L247.9,271L249.2,267.9L250.4,265L251.7,262.2L252.9,259.7L254.2,257.4L255.4,255.4L256.7,253.6L257.9,252.1L259.2,250.8L260.4,249.8L261.7,249L262.9,248.4L264.2,248.1L265.4,248L266.7,248L267.9,248.3L269.2,248.7L270.4,249.3L271.7,250.1L272.9,251L274.2,252L275.4,253.2L276.7,254.5L277.9,255.9L279.2,257.5L280.4,259.1L281.7,260.9L282.9,262.7L284.2,264.6L285.4,266.6L286.7,268.5L287.9,270.5L289.2,272.4L290.4,274.3L291.7,276.2L292.9,278L294.2,279.7L295.4,281.3L296.7,282.8L297.9,284.2L299.2,285.4L300.4,286.5L301.7,287.4L302.9,288.2L304.2,288.8L305.4,289.2L306.7,289.5L307.9,289.6L309.2,289.7L310.4,289.6L311.7,289.4L312.9,289.1L314.2,288.8L315.4,288.4L316.7,288L317.9,287.5L319.2,287.1L320.4,286.6L321.7,286.2L322.9,285.8L324.2,285.5L325.4,285.2L326.7,285L327.9,285L329.2,285L330.4,285.2L331.7,285.5L332.9,286L334.2,286.5L335.4,287.2L336.7,288.1L337.9,289L339.2,290L340.4,291.1L341.7,292.3L342.9,293.5L344.2,294.6L345.4,295.7L346.7,296.7L347.9,297.6L349.2,298.4L350.4,299.1L351.7,299.8L352.9,300.5L354.2,301L355.4,301.6L356.7,302L357.9,302.3L359.2,302.5L360.4,302.5L361.7,302.4L362.9,302.1L364.2,301.7L365.4,301.2L366.7,300.6L367.9,300L369.2,299.4L370.4,298.8L371.7,298.1L372.9,297.5L374.2,296.9L375.4,296.3L376.7,295.7L377.9,295L379.2,294.5L380.4,293.9L381.7,293.5L382.9,293.1L384.2,292.8L385.4,292.6L386.7,292.5L387.9,292.6L389.2,292.9L390.4,293.2L391.7,293.7L392.9,294.3L394.2,294.9L395.4,295.7L396.7,296.5L397.9,297.3L399.2,298.2L400.4,299.2L401.7,300.2L402.9,301.2L404.2,302.2L405.4,303.2L406.7,304.1L407.9,304.9L409.2,305.6L410.4,306L411.7,306.1L412.9,305.9L414.2,305.4L415.4,304.6L416.7,303.5L417.9,302.2L419.2,300.7L420.4,299.2L421.7,297.6L422.9,295.9L424.2,294.4L425.4,292.8L426.7,291.4L427.9,290.1L429.2,288.9L430.4,287.9L431.7,286.9L432.9,286.1L434.2,285.3L435.4,284.6L436.7,284L437.9,283.4L439.2,282.7L440.4,282L441.7,281.2L442.9,280.4L444.2,279.5L445.4,278.6L446.7,277.7L447.9,276.8L449.2,275.9L450.4,275.1L451.7,274.5L452.9,274L454.2,273.8L455.4,273.9L456.7,274.2L457.9,275L459.2,276L460.4,277.4L461.7,279.1L462.9,281.1L464.2,283.3L465.4,285.7L466.7,288.3L467.9,290.9L469.2,293.5L470.4,295.9L471.7,298.1L472.9,299.9L474.2,301.1L475.4,301.6L476.7,301.4L477.9,300.4L479.2,298.9L480.4,296.9L481.7,294.5L482.9,292L484.2,289.5L485.4,286.9L486.7,284.4L487.9,281.9L489.2,279.7L490.4,277.6L491.7,275.8L492.9,274.2L494.2,272.8L495.4,271.7L496.7,270.8L497.9,270L499.2,269.5L500.4,269.2L501.7,269.1L502.9,269.1L504.2,269.2L505.4,269.5L506.7,269.9L507.9,270.3L509.2,270.7L510.4,271.2L511.7,271.6L513,272L514.2,272.4L515.5,272.7L516.7,273L518,273.3L519.2,273.6L520.5,273.8L521.7,274L523,274.2L524.2,274.3L525.5,274.5L526.7,274.6L528,274.6L529.2,274.7L530.5,274.8L531.7,274.8L533,274.9L533.7,274.9" fill="none" stroke="#000" stroke-width="1.75" stroke-linejoin="round" stroke-linecap="round"/>
<path d="M24.2,437.8L25.4,438.6L26.7,439.7L27.9,440.8L29.2,441.9L30.4,442.8L31.7,443.6L33,444.2L34.2,444.7L35.5,444.8L36.7,444.8L38,444.4L39.2,443.9L40.5,443.1L41.7,442.2L43,441.2L44.2,440.2L45.5,439.2L46.7,438.2L48,437.2L49.2,436.3L50.5,435.4L51.7,434.6L53,433.7L54.2,432.8L55.5,431.9L56.7,431L58,430L59.2,429L60.5,428.1L61.7,427.1L63,426.1L64.2,425.1L65.5,424.2L66.7,423.2L68,422.3L69.2,421.4L70.5,420.5L71.7,419.7L73,418.8L74.2,417.9L75.5,417L76.7,416L78,415.1L79.2,414.1L80.5,413L81.7,411.9L83,410.6L84.2,409.3L85.5,408L86.7,406.5L88,404.9L89.2,403.1L90.5,401.3L91.7,399.4L93,397.4L94.2,395.5L95.5,393.6L96.7,391.8L98,390.1L99.2,388.7L100.5,387.5L101.7,386.6L103,385.9L104.2,385.5L105.5,385.5L106.7,385.7L108,386.4L109.2,387.5L110.5,389.1L111.7,391.4L113,394.4L114.2,398.3L115.5,403.1L116.7,408.9L118,415.6L119.2,423.4L120.5,432.2L121.7,442L123,452.4L124.2,463.1L125.5,473.6L126.7,483.3L128,492L129.2,499.6L130.4,506.4L131.7,512.5L132.9,517.8L134.2,521.4L135.4,522.8L136.7,522L137.9,519.3L139.2,515.4L140.4,510.6L141.7,505.2L142.9,499.3L144.2,493.2L145.4,487L146.7,480.7L147.9,474.5L149.2,468.5L150.4,462.7L151.7,457.4L152.9,452.5L154.2,448.3L155.4,444.9L156.7,442.3L157.9,440.6L159.2,440.1L160.4,440.7L161.7,442.5L162.9,445.4L164.2,449.2L165.4,453.9L166.7,459L167.9,464.2L169.2,469.3L170.4,474.2L171.7,478.7L172.9,483.1L174.2,487.2L175.4,491.1L176.7,494.7L177.9,497.9L179.2,500.5L180.4,502.3L181.7,503.1L182.9,502.9L184.2,501.8L185.4,499.7L186.7,496.7L187.9,493L189.2,488.6L190.4,483.7L191.7,478.7L192.9,473.7L194.2,469L195.4,464.8L196.7,461.1L197.9,457.8L199.2,455L200.4,452.5L201.7,450.3L202.9,448.5L204.2,447.1L205.4,446L206.7,445.3L207.9,444.9L209.2,445L210.4,445.5L211.7,446.4L212.9,447.6L214.2,449.2L215.4,451.2L216.7,453.4L217.9,455.8L219.2,458.5L220.4,461.2L221.7,464L222.9,466.7L224.2,469.3L225.4,471.7L226.7,473.8L227.9,475.6L229.2,476.8L230.4,477.5L231.7,477.5L232.9,476.9L234.2,475.7L235.4,473.9L236.7,471.7L237.9,469L239.2,466L240.4,462.8L241.7,459.4L242.9,455.9L244.2,452.4L245.4,448.8L246.7,445.4L247.9,442.1L249.2,439L250.4,436L251.7,433.2L252.9,430.7L254.2,428.4L255.4,426.4L256.7,424.7L257.9,423.2L259.2,422L260.4,421.1L261.7,420.4L262.9,419.9L264.2,419.6L265.4,419.6L266.7,419.7L267.9,420L269.2,420.5L270.4,421.2L271.7,422L272.9,423L274.2,424.1L275.4,425.3L276.7,426.7L277.9,428.2L279.2,429.8L280.4,431.5L281.7,433.3L282.9,435.1L284.2,437.1L285.4,439L286.7,441L287.9,443L289.2,445L290.4,446.9L291.7,448.7L292.9,450.5L294.2,452.1L295.4,453.6L296.7,454.9L297.9,456.1L299.2,457.2L300.4,458.2L301.7,459L302.9,459.8L304.2,460.4L305.4,460.9L306.7,461.3L307.9,461.6L309.2,461.8L310.4,461.9L311.7,461.9L312.9,461.8L314.2,461.7L315.4,461.5L316.7,461.2L317.9,460.9L319.2,460.6L320.4,460.2L321.7,459.9L322.9,459.6L324.2,459.3L325.4,459L326.7,458.8L327.9,458.7L329.2,458.7L330.4,458.8L331.7,459.1L332.9,459.4L334.2,459.9L335.4,460.5L336.7,461.2L337.9,461.9L339.2,462.8L340.4,463.8L341.7,464.8L342.9,465.8L344.2,466.9L345.4,467.9L346.7,468.9L347.9,469.8L349.2,470.7L350.4,471.5L351.7,472.2L352.9,473L354.2,473.6L355.4,474.2L356.7,474.7L357.9,475L359.2,475.2L360.4,475.2L361.7,475L362.9,474.6L364.2,474.1L365.4,473.5L366.7,472.8L367.9,472.1L369.2,471.4L370.4,470.7L371.7,470L372.9,469.3L374.2,468.6L375.4,467.9L376.7,467.3L377.9,466.7L379.2,466.1L380.4,465.6L381.7,465.1L382.9,464.7L384.2,464.4L385.4,464.1L386.7,464L387.9,463.9L389.2,464L390.4,464.2L391.7,464.4L392.9,464.8L394.2,465.2L395.4,465.7L396.7,466.3L397.9,467L399.2,467.7L400.4,468.5L401.7,469.3L402.9,470.2L404.2,471L405.4,471.9L406.7,472.7L407.9,473.4L409.2,474L410.4,474.2L411.7,474.3L412.9,474L414.2,473.4L415.4,472.7L416.7,471.7L417.9,470.6L419.2,469.4L420.4,468.1L421.7,466.9L422.9,465.6L424.2,464.5L425.4,463.5L426.7,462.6L427.9,461.9L429.2,461.4L430.4,461L431.7,460.7L432.9,460.4L434.2,460.2L435.4,460L436.7,459.7L437.9,459.3L439.2,458.8L440.4,458L441.7,457L442.9,455.9L444.2,454.7L445.4,453.4L446.7,452.1L447.9,450.9L449.2,449.8L450.4,448.8L451.7,447.9L452.9,447.2L454.2,446.8L455.4,446.6L456.7,446.8L457.9,447.2L459.2,447.9L460.4,448.9L461.7,450.2L462.9,451.8L464.2,453.6L465.4,455.5L466.7,457.4L467.9,459.4L469.2,461.2L470.4,462.9L471.7,464.4L472.9,465.7L474.2,466.6L475.4,467.1L476.7,467.3L477.9,467L479.2,466.3L480.4,465.3L481.7,464L482.9,462.6L484.2,460.9L485.4,459.1L486.7,457.2L487.9,455.2L489.2,453.1L490.4,450.9L491.7,448.8L492.9,446.9L494.2,445.1L495.4,443.6L496.7,442.5L497.9,441.7L499.2,441.1L500.4,440.8L501.7,440.7L502.9,440.7L504.2,440.9L505.4,441.2L506.7,441.5L507.9,441.9L509.2,442.3L510.4,442.6L511.7,442.9L513,443.2L514.2,443.5L515.5,443.8L516.7,444L518,444.2L519.2,444.3L520.5,444.5L521.7,444.6L523,444.8L524.2,444.9L525.5,445L526.7,445.1L528,445.2L529.2,445.3L530.5,445.4L531.7,445.5L533,445.5L533.7,445.6" fill="none" stroke="#000" stroke-width="1.95" stroke-dasharray="0.1 5.8" stroke-linecap="round"/>
<path d="M24.2,437.8L25.4,438.6L26.7,439.7L27.9,440.8L29.2,441.9L30.4,442.8L31.7,443.6L33,444.2L34.2,444.6L35.5,444.9L36.7,444.9L38,444.7L39.2,444.3L40.5,443.8L41.7,443.1L43,442.4L44.2,441.6L45.5,440.8L46.7,440L48,439.3L49.2,438.5L50.5,437.7L51.7,437L53,436.2L54.2,435.4L55.5,434.5L56.7,433.7L58,432.8L59.2,431.9L60.5,430.9L61.7,430L63,429L64.2,428.1L65.5,427.1L66.7,426.2L68,425.2L69.2,424.3L70.5,423.3L71.7,422.4L73,421.5L74.2,420.5L75.5,419.5L76.7,418.5L78,417.5L79.2,416.5L80.5,415.3L81.7,414.2L83,412.9L84.2,411.4L85.5,409.9L86.7,408.1L88,406.3L89.2,404.3L90.5,402.4L91.7,400.5L93,398.6L94.2,396.8L95.5,395.1L96.7,393.5L98,392.1L99.2,390.9L100.5,389.9L101.7,389.2L103,388.7L104.2,388.6L105.5,388.9L106.7,389.5L108,390.6L109.2,392.2L110.5,394.3L111.7,397.1L113,400.5L114.2,404.8L115.5,410.1L116.7,416.2L118,423.3L119.2,431.3L120.5,440.2L121.7,449.9L123,460.2L124.2,470.6L125.5,480.5L126.7,489.5L128,497.1L129.2,503.4L130.4,508.7L131.7,513.2L132.9,516.8L134.2,518.8L135.4,518.7L136.7,516.6L137.9,512.9L139.2,508.1L140.4,502.6L141.7,496.7L142.9,490.6L144.2,484.5L145.4,478.4L146.7,472.5L147.9,466.9L149.2,461.6L150.4,456.6L151.7,452.2L152.9,448.2L154.2,444.9L155.4,442.3L156.7,440.4L157.9,439.5L159.2,439.4L160.4,440.4L161.7,442.5L162.9,445.6L164.2,449.8L165.4,454.8L166.7,460.2L167.9,465.7L169.2,470.8L170.4,475.6L171.7,479.9L172.9,483.9L174.2,487.7L175.4,491.1L176.7,494.3L177.9,497L179.2,499.2L180.4,500.5L181.7,501L182.9,500.5L184.2,499L185.4,496.7L186.7,493.7L187.9,490L189.2,485.8L190.4,481.3L191.7,476.7L192.9,472.1L194.2,467.9L195.4,464.1L196.7,460.7L197.9,457.7L199.2,455.1L200.4,452.9L201.7,450.9L202.9,449.3L204.2,448L205.4,446.9L206.7,446.3L207.9,445.9L209.2,445.9L210.4,446.3L211.7,447L212.9,448L214.2,449.4L215.4,451.2L216.7,453.3L217.9,455.7L219.2,458.4L220.4,461.1L221.7,463.9L222.9,466.7L224.2,469.3L225.4,471.8L226.7,473.9L227.9,475.6L229.2,476.8L230.4,477.5L231.7,477.5L232.9,476.9L234.2,475.7L235.4,473.9L236.7,471.7L237.9,469L239.2,466L240.4,462.8L241.7,459.4L242.9,455.9L244.2,452.4L245.4,448.8L246.7,445.4L247.9,442.1L249.2,439L250.4,436L251.7,433.2L252.9,430.7L254.2,428.4L255.4,426.4L256.7,424.7L257.9,423.2L259.2,422L260.4,421.1L261.7,420.4L262.9,419.9L264.2,419.6L265.4,419.6L266.7,419.7L267.9,420L269.2,420.5L270.4,421.2L271.7,422L272.9,423L274.2,424.1L275.4,425.3L276.7,426.7L277.9,428.2L279.2,429.8L280.4,431.5L281.7,433.3L282.9,435.1L284.2,437.1L285.4,439L286.7,441L287.9,443L289.2,445L290.4,446.9L291.7,448.7L292.9,450.5L294.2,452.1L295.4,453.6L296.7,454.9L297.9,456.1L299.2,457.2L300.4,458.1L301.7,458.9L302.9,459.5L304.2,460L305.4,460.4L306.7,460.6L307.9,460.8L309.2,460.9L310.4,460.9L311.7,460.8L312.9,460.6L314.2,460.4L315.4,460.1L316.7,459.7L317.9,459.3L319.2,458.9L320.4,458.5L321.7,458L322.9,457.6L324.2,457.2L325.4,456.9L326.7,456.7L327.9,456.7L329.2,456.7L330.4,457L331.7,457.4L332.9,457.9L334.2,458.7L335.4,459.5L336.7,460.5L337.9,461.6L339.2,462.7L340.4,464L341.7,465.2L342.9,466.5L344.2,467.7L345.4,468.9L346.7,470L347.9,471L349.2,471.9L350.4,472.7L351.7,473.5L352.9,474.2L354.2,474.9L355.4,475.6L356.7,476.1L357.9,476.5L359.2,476.7L360.4,476.7L361.7,476.5L362.9,476L364.2,475.5L365.4,474.8L366.7,474L367.9,473.2L369.2,472.4L370.4,471.6L371.7,470.8L372.9,470.1L374.2,469.3L375.4,468.6L376.7,467.9L377.9,467.2L379.2,466.6L380.4,466L381.7,465.5L382.9,465L384.2,464.6L385.4,464.2L386.7,463.9L387.9,463.7L389.2,463.5L390.4,463.4L391.7,463.5L392.9,463.6L394.2,463.8L395.4,464.1L396.7,464.5L397.9,464.9L399.2,465.5L400.4,466.1L401.7,466.8L402.9,467.5L404.2,468.2L405.4,469L406.7,469.6L407.9,470.2L409.2,470.7L410.4,471.1L411.7,471.2L412.9,471.2L414.2,470.9L415.4,470.5L416.7,469.8L417.9,469L419.2,468L420.4,466.8L421.7,465.6L422.9,464.4L424.2,463.2L425.4,462.1L426.7,461.1L427.9,460.2L429.2,459.5L430.4,459L431.7,458.5L432.9,458L434.2,457.7L435.4,457.3L436.7,456.9L437.9,456.4L439.2,455.8L440.4,455L441.7,454.1L442.9,453.1L444.2,452L445.4,450.9L446.7,449.8L447.9,448.7L449.2,447.8L450.4,447L451.7,446.3L452.9,445.9L454.2,445.7L455.4,445.7L456.7,446.1L457.9,446.8L459.2,447.7L460.4,449L461.7,450.5L462.9,452.2L464.2,454.1L465.4,456L466.7,458L467.9,459.9L469.2,461.7L470.4,463.3L471.7,464.6L472.9,465.7L474.2,466.4L475.4,466.7L476.7,466.6L477.9,466.1L479.2,465.2L480.4,464L481.7,462.6L482.9,461L484.2,459.2L485.4,457.4L486.7,455.5L487.9,453.5L489.2,451.5L490.4,449.5L491.7,447.5L492.9,445.6L494.2,444L495.4,442.7L496.7,441.7L497.9,441L499.2,440.6L500.4,440.4L501.7,440.3L502.9,440.5L504.2,440.7L505.4,441L506.7,441.4L507.9,441.8L509.2,442.2L510.4,442.6L511.7,443L513,443.3L514.2,443.5L515.5,443.8L516.7,444L518,444.2L519.2,444.3L520.5,444.5L521.7,444.6L523,444.8L524.2,444.9L525.5,445L526.7,445.1L528,445.2L529.2,445.3L530.5,445.4L531.7,445.5L533,445.5L533.7,445.6" fill="none" stroke="#000" stroke-width="1.65" stroke-dasharray="7.2 3"/>
<path d="M24.2,437.8L25.4,438.6L26.7,439.7L27.9,440.8L29.2,441.9L30.4,442.8L31.7,443.6L33,444.2L34.2,444.7L35.5,444.8L36.7,444.8L38,444.4L39.2,443.9L40.5,443.1L41.7,442.2L43,441.2L44.2,440.2L45.5,439.2L46.7,438.2L48,437.2L49.2,436.3L50.5,435.4L51.7,434.6L53,433.7L54.2,432.8L55.5,431.9L56.7,431L58,430L59.2,429L60.5,428.1L61.7,427.1L63,426.1L64.2,425.1L65.5,424.2L66.7,423.2L68,422.3L69.2,421.4L70.5,420.5L71.7,419.6L73,418.8L74.2,417.9L75.5,417L76.7,416L78,415.1L79.2,414.1L80.5,413L81.7,411.9L83,410.7L84.2,409.4L85.5,407.9L86.7,406.4L88,404.8L89.2,403.2L90.5,401.5L91.7,399.8L93,398.1L94.2,396.5L95.5,394.9L96.7,393.4L98,392.1L99.2,390.9L100.5,389.9L101.7,389.2L103,388.7L104.2,388.6L105.5,388.9L106.7,389.5L108,390.6L109.2,392.2L110.5,394.3L111.7,397.1L113,400.5L114.2,404.8L115.5,410.1L116.7,416.2L118,423.3L119.2,431.3L120.5,440.2L121.7,449.9L123,460.2L124.2,470.6L125.5,480.5L126.7,489.5L128,497.1L129.2,503.4L130.4,508.7L131.7,513.2L132.9,516.8L134.2,518.8L135.4,518.7L136.7,516.6L137.9,512.9L139.2,508.1L140.4,502.6L141.7,496.7L142.9,490.6L144.2,484.5L145.4,478.4L146.7,472.5L147.9,466.9L149.2,461.6L150.4,456.6L151.7,452.2L152.9,448.2L154.2,444.9L155.4,442.3L156.7,440.4L157.9,439.5L159.2,439.4L160.4,440.4L161.7,442.5L162.9,445.6L164.2,449.8L165.4,454.8L166.7,460.2L167.9,465.7L169.2,470.8L170.4,475.6L171.7,479.9L172.9,483.9L174.2,487.7L175.4,491.1L176.7,494.3L177.9,497L179.2,499.2L180.4,500.5L181.7,501L182.9,500.5L184.2,499L185.4,496.7L186.7,493.7L187.9,490L189.2,485.8L190.4,481.3L191.7,476.7L192.9,472.1L194.2,467.9L195.4,464L196.7,460.6L197.9,457.7L199.2,455.1L200.4,453L201.7,451.1L202.9,449.7L204.2,448.6L205.4,447.7L206.7,447.2L207.9,446.9L209.2,446.9L210.4,447.1L211.7,447.6L212.9,448.5L214.2,449.7L215.4,451.3L216.7,453.3L217.9,455.6L219.2,458.2L220.4,461L221.7,463.9L222.9,466.7L224.2,469.3L225.4,471.8L226.7,473.9L227.9,475.6L229.2,476.8L230.4,477.5L231.7,477.5L232.9,476.9L234.2,475.7L235.4,473.9L236.7,471.7L237.9,469L239.2,466L240.4,462.8L241.7,459.4L242.9,455.9L244.2,452.4L245.4,448.8L246.7,445.4L247.9,442.1L249.2,439L250.4,436L251.7,433.2L252.9,430.7L254.2,428.4L255.4,426.4L256.7,424.7L257.9,423.2L259.2,422L260.4,421.1L261.7,420.4L262.9,419.9L264.2,419.6L265.4,419.6L266.7,419.7L267.9,420L269.2,420.5L270.4,421.2L271.7,422L272.9,423L274.2,424.1L275.4,425.3L276.7,426.7L277.9,428.2L279.2,429.8L280.4,431.5L281.7,433.3L282.9,435.1L284.2,437.1L285.4,439L286.7,441L287.9,443L289.2,445L290.4,446.9L291.7,448.7L292.9,450.5L294.2,452.1L295.4,453.6L296.7,454.9L297.9,456.1L299.2,457.2L300.4,458.1L301.7,458.9L302.9,459.5L304.2,460L305.4,460.4L306.7,460.6L307.9,460.8L309.2,460.9L310.4,460.8L311.7,460.7L312.9,460.6L314.2,460.3L315.4,460L316.7,459.7L317.9,459.3L319.2,458.9L320.4,458.5L321.7,458.1L322.9,457.7L324.2,457.3L325.4,457L326.7,456.8L327.9,456.7L329.2,456.7L330.4,456.9L331.7,457.2L332.9,457.6L334.2,458.1L335.4,458.8L336.7,459.6L337.9,460.5L339.2,461.5L340.4,462.5L341.7,463.6L342.9,464.7L344.2,465.8L345.4,466.9L346.7,467.9L347.9,468.8L349.2,469.7L350.4,470.5L351.7,471.3L352.9,472L354.2,472.6L355.4,473.2L356.7,473.7L357.9,474L359.2,474.2L360.4,474.2L361.7,474.1L362.9,473.7L364.2,473.3L365.4,472.8L366.7,472.2L367.9,471.5L369.2,470.9L370.4,470.2L371.7,469.6L372.9,468.9L374.2,468.3L375.4,467.7L376.7,467.1L377.9,466.6L379.2,466.1L380.4,465.6L381.7,465.2L382.9,464.9L384.2,464.7L385.4,464.5L386.7,464.4L387.9,464.5L389.2,464.6L390.4,464.9L391.7,465.2L392.9,465.6L394.2,466.1L395.4,466.7L396.7,467.4L397.9,468.2L399.2,469L400.4,469.8L401.7,470.7L402.9,471.7L404.2,472.7L405.4,473.6L406.7,474.5L407.9,475.3L409.2,475.8L410.4,476.1L411.7,476L412.9,475.5L414.2,474.7L415.4,473.7L416.7,472.4L417.9,471L419.2,469.5L420.4,467.9L421.7,466.3L422.9,464.8L424.2,463.4L425.4,462.1L426.7,461L427.9,460.2L429.2,459.5L430.4,458.9L431.7,458.4L432.9,458L434.2,457.7L435.4,457.3L436.7,456.9L437.9,456.4L439.2,455.8L440.4,455L441.7,454.1L442.9,453.1L444.2,452L445.4,450.9L446.7,449.8L447.9,448.7L449.2,447.8L450.4,447L451.7,446.3L452.9,445.9L454.2,445.7L455.4,445.7L456.7,446.1L457.9,446.7L459.2,447.7L460.4,448.9L461.7,450.5L462.9,452.3L464.2,454.3L465.4,456.4L466.7,458.7L467.9,460.9L469.2,463.1L470.4,465.1L471.7,466.9L472.9,468.4L474.2,469.5L475.4,470L476.7,470L477.9,469.4L479.2,468.3L480.4,466.9L481.7,465.2L482.9,463.3L484.2,461.4L485.4,459.4L486.7,457.3L487.9,455.2L489.2,453.1L490.4,450.9L491.7,448.8L492.9,446.8L494.2,445.1L495.4,443.6L496.7,442.5L497.9,441.7L499.2,441.1L500.4,440.8L501.7,440.7L502.9,440.7L504.2,440.9L505.4,441.2L506.7,441.5L507.9,441.9L509.2,442.3L510.4,442.6L511.7,442.9L513,443.2L514.2,443.5L515.5,443.8L516.7,444L518,444.2L519.2,444.3L520.5,444.5L521.7,444.6L523,444.8L524.2,444.9L525.5,445L526.7,445.1L528,445.2L529.2,445.3L530.5,445.4L531.7,445.5L533,445.5L533.7,445.6" fill="none" stroke="#000" stroke-width="1.75" stroke-linejoin="round" stroke-linecap="round"/>
<path d="M801.8,102.4L803,101.4L804.3,100.1L805.5,98.8L806.8,97.6L808,96.5L809.3,95.6L810.5,94.8L811.8,94.1L813,93.5L814.3,93L815.5,92.4L816.8,91.9L818,91.4L819.3,90.9L820.5,90.3L821.8,89.8L823,89.3L824.3,88.8L825.5,88.3L826.8,87.8L828,87.4L829.3,87L830.5,86.6L831.8,86.3L833,86.1L834.3,86L835.5,85.9L836.8,85.9L838,86L839.3,86.1L840.5,86.4L841.8,86.7L843,87.1L844.3,87.4L845.5,87.5L846.8,87.5L848,87.1L849.3,86.5L850.5,85.7L851.8,84.6L853,83.5L854.3,82.2L855.5,81L856.8,79.9L858,79.1L859.3,79L860.5,79.6L861.8,81.5L863,84.7L864.3,89.4L865.5,95.5L866.8,102.7L868,110.8L869.3,119.6L870.5,129.1L871.8,139.5L873,150.6L874.3,162.1L875.5,172.3L876.8,179.8L878,183.8L879.3,184L880.5,180.8L881.8,175.1L883,167.4L884.3,158.5L885.5,148.8L886.8,138.9L888,129.1L889.3,120L890.5,111.9L891.8,104.8L893,99L894.3,94.3L895.5,90.7L896.8,88L898,86.1L899.3,84.7L900.5,83.8L901.8,83.2L903,82.8L904.3,82.4L905.5,81.9L906.8,81.4L908,81L909.3,80.6L910.5,80.5L911.8,80.5L913,80.9L914.3,81.5L915.5,82.4L916.8,83.7L918,85.1L919.3,86.8L920.5,88.6L921.8,90.5L923,92.2L924.3,93.8L925.5,95.1L926.8,96.2L928,97.2L929.3,98L930.5,98.8L931.8,99.6L933,100.3L934.3,101L935.5,101.6L936.8,102.2L938,102.7L939.3,103.2L940.5,103.6L941.8,104.1L943,104.5L944.3,105L945.5,105.6L946.8,106.1L948,106.7L949.3,107.3L950.5,108L951.8,108.7L953,109.5L954.3,110.4L955.5,111.3L956.8,112.4L958,113.5L959.3,114.5L960.5,115.3L961.8,115.7L963,115.5L964.3,114.6L965.5,113.3L966.8,111.5L968,109.5L969.3,107.5L970.5,105.6L971.8,103.6L973,101.4L974.3,98.9L975.5,96L976.8,92.7L978,89.1L979.3,85.4L980.5,81.8L981.8,78.8L983,76.5L984.3,75.3L985.5,75.5L986.8,77.5L988,81.7L989.3,88.2L990.5,96.4L991.8,105.3L993,113.8L994.3,121.9L995.5,130L996.8,138.9L998,148.7L999.3,159L1000.5,168.7L1001.8,176.6L1003,181.5L1004.3,182.2L1005.5,178.8L1006.8,172.3L1008,163.9L1009.3,154.7L1010.5,145L1011.8,135.3L1013,126L1014.3,117.4L1015.5,109.4L1016.8,101.8L1018,94.5L1019.3,87.1L1020.5,79.7L1021.8,72.3L1023,65.7L1024.3,60.6L1025.5,57.5L1026.8,56.7L1028,58.2L1029.3,61.2L1030.5,65.1L1031.8,69.7L1033,74.6L1034.3,79.6L1035.5,84.3L1036.8,88.6L1038,92.3L1039.3,95.4L1040.5,98.2L1041.8,100.7L1043,103L1044.3,105.3L1045.5,107.5L1046.8,109.6L1048,111.5L1049.3,113.1L1050.5,114.5L1051.8,115.7L1053,116.8L1054.3,117.7L1055.5,118.5L1056.8,119.3L1058,119.8L1059.3,120.2L1060.5,120.5L1061.8,120.5L1063,120.3L1064.3,119.9L1065.5,119.4L1066.8,118.8L1068,118.2L1069.3,117.4L1070.5,116.6L1071.8,115.8L1073,115L1074.3,114.1L1075.5,113.3L1076.8,112.5L1078,111.9L1079.3,111.4L1080.5,111.2L1081.8,111.2L1083,111.5L1084.3,112.2L1085.5,113.3L1086.8,114.9L1088,116.9L1089.3,119.2L1090.5,121.8L1091.8,124.5L1093,127L1094.3,129.4L1095.5,131.4L1096.8,132.9L1098,134L1099.3,134.4L1100.5,134.1L1101.8,133.3L1103,132L1104.3,130.4L1105.5,128.6L1106.8,126.9L1108,125.1L1109.3,123.3L1110.5,121.4L1111.8,119.5L1113,117.4L1114.3,115.2L1115.5,112.7L1116.8,110.1L1118,107.3L1119.3,104.4L1120.5,101.6L1121.8,98.9L1123,96.5L1124.3,94.4L1125.5,92.7L1126.8,91.4L1128,90.5L1129.3,90.1L1130.5,90.2L1131.8,90.7L1133,91.7L1134.3,93.1L1135.5,94.9L1136.8,96.9L1138,99.2L1139.3,101.8L1140.5,104.4L1141.8,107.2L1143,110.1L1144.3,113L1145.5,115.7L1146.8,118.2L1148,120.2L1149.3,121.7L1150.5,122.4L1151.8,122.4L1153,121.6L1154.3,120.2L1155.5,118.3L1156.8,116.2L1158,113.9L1159.3,111.7L1160.5,109.5L1161.8,107.2L1163,104.8L1164.3,102.3L1165.5,99.7L1166.8,96.8L1168,93.8L1169.3,90.9L1170.5,88.1L1171.8,85.5L1173,83.3L1174.3,81.4L1175.5,80.1L1176.8,79.3L1178,79.1L1179.3,79.5L1180.5,80.5L1181.8,81.9L1183,83.6L1184.3,85.5L1185.5,87.5L1186.8,89.5L1188,91.4L1189.3,93.3L1190.5,95.1L1191.8,96.8L1193,98.2L1194.3,99.5L1195.5,100.6L1196.8,101.5L1198,102.2L1199.3,102.6L1200.5,102.8L1201.8,102.8L1203,102.6L1204.3,102.3L1205.5,101.9L1206.8,101.6L1208,101.2L1209.3,101L1210.5,100.7L1211.8,100.5L1213,100.3L1214.3,100L1215.5,99.7L1216.8,99.4L1218,99.1L1219.3,98.7L1220.5,98.3L1221.8,97.9L1223,97.5L1224.3,97.1L1225.5,96.8L1226.8,96.5L1228,96.3L1229.3,96.3L1230.5,96.5L1231.8,96.8L1233,97.3L1234.3,98L1235.5,98.9L1236.8,99.9L1238,101.1L1239.3,102.3L1240.5,103.6L1241.8,104.9L1243,106.1L1244.3,107L1245.5,107.7L1246.8,108.2L1248,108.4L1249.3,108.5L1250.5,108.4L1251.8,108.3L1253,108.2L1254.3,108.1L1255.5,108L1256.8,107.9L1258,107.8L1259.3,107.7L1260.5,107.5L1261.8,107.4L1263,107.2L1264.3,107L1265.5,106.8L1266.8,106.7L1268,106.5L1269.3,106.4L1270.5,106.4L1271.8,106.5L1273,106.6L1274.3,106.8L1275.5,107L1276.8,107.3L1278,107.5L1279.3,107.8L1280.5,108.1L1281.8,108.4L1283,108.7L1284.3,108.9L1285.5,109.1L1286.8,109.2L1288,109.2L1289.3,109.2L1290.5,109.1L1291.8,108.9L1293,108.6L1294.3,108.3L1295.5,108L1296.8,107.6L1298,107.2L1299.3,106.7L1300.5,106.3L1301.8,105.9L1303,105.5L1304.3,105.1L1305.5,104.7L1306.8,104.3L1308,103.9L1309.3,103.5L1310.5,103.2L1311.3,103.1" fill="none" stroke="#000" stroke-width="1.95" stroke-dasharray="0.1 5.8" stroke-linecap="round"/>
<path d="M801.8,100L803,99.3L804.3,98.5L805.5,97.7L806.8,96.9L808,96.3L809.3,95.7L810.5,95.2L811.8,94.8L813,94.5L814.3,94.3L815.5,94L816.8,93.9L818,93.7L819.3,93.6L820.5,93.5L821.8,93.3L823,93.2L824.3,93.1L825.5,92.9L826.8,92.7L828,92.5L829.3,92.2L830.5,92L831.8,91.7L833,91.5L834.3,91.2L835.5,91.1L836.8,91.2L838,91.8L839.3,92.9L840.5,94.4L841.8,96L843,97.3L844.3,98.6L845.5,99.6L846.8,100.3L848,100.8L849.3,101L850.5,100.9L851.8,100.5L853,99.6L854.3,98.2L855.5,96.5L856.8,94.8L858,93.6L859.3,93.3L860.5,94.2L861.8,96.5L863,99.7L864.3,103.7L865.5,108L866.8,112.4L868,116.7L869.3,120.6L870.5,124.2L871.8,127.7L873,131.1L874.3,134.4L875.5,137.2L876.8,139.3L878,140L879.3,139.4L880.5,137.3L881.8,134.1L883,130.2L884.3,125.7L885.5,121L886.8,116.2L888,111.6L889.3,107.4L890.5,103.7L891.8,100.6L893,98.1L894.3,96.3L895.5,94.9L896.8,93.9L898,93.1L899.3,92.4L900.5,91.9L901.8,91.4L903,91L904.3,90.5L905.5,90.1L906.8,89.7L908,89.4L909.3,89.2L910.5,89.2L911.8,89.4L913,89.9L914.3,90.5L915.5,91.4L916.8,92.4L918,93.5L919.3,94.7L920.5,96L921.8,97.2L923,98.4L924.3,99.5L925.5,100.5L926.8,101.3L928,102L929.3,102.7L930.5,103.2L931.8,103.7L933,104.1L934.3,104.4L935.5,104.7L936.8,104.8L938,104.9L939.3,105L940.5,105L941.8,105L943,105L944.3,105L945.5,105.1L946.8,105.2L948,105.5L949.3,105.8L950.5,106.2L951.8,106.8L953,107.5L954.3,108.3L955.5,109.3L956.8,110.3L958,111.5L959.3,112.7L960.5,113.7L961.8,114.5L963,114.9L964.3,114.8L965.5,114.3L966.8,113.3L968,112L969.3,110.6L970.5,109.2L971.8,107.5L973,105.5L974.3,103.2L975.5,100.5L976.8,97.6L978,94.7L979.3,92.2L980.5,90.3L981.8,89.6L983,90.5L984.3,92.8L985.5,96.4L986.8,100.7L988,105.4L989.3,110.5L990.5,115.8L991.8,121.2L993,126.6L994.3,131.9L995.5,136.9L996.8,141.5L998,145.1L999.3,147.5L1000.5,148.4L1001.8,147.5L1003,145.1L1004.3,141.6L1005.5,137.4L1006.8,132.8L1008,128L1009.3,123.1L1010.5,118.1L1011.8,113.2L1013,108.5L1014.3,103.9L1015.5,99.5L1016.8,95.4L1018,91.6L1019.3,88.2L1020.5,85.2L1021.8,82.9L1023,81.2L1024.3,80.3L1025.5,80.2L1026.8,80.9L1028,82.3L1029.3,84.1L1030.5,86.2L1031.8,88.5L1033,90.7L1034.3,93L1035.5,95.2L1036.8,97.4L1038,99.5L1039.3,101.6L1040.5,103.6L1041.8,105.6L1043,107.5L1044.3,109.3L1045.5,111L1046.8,112.6L1048,114L1049.3,115.2L1050.5,116.2L1051.8,117.1L1053,117.9L1054.3,118.7L1055.5,119.3L1056.8,120L1058,120.8L1059.3,121.5L1060.5,122.1L1061.8,122.7L1063,123.1L1064.3,123.3L1065.5,123.2L1066.8,122.8L1068,122.1L1069.3,121.1L1070.5,119.8L1071.8,118.4L1073,117L1074.3,115.5L1075.5,114L1076.8,112.7L1078,111.4L1079.3,110.4L1080.5,109.5L1081.8,108.9L1083,108.5L1084.3,108.4L1085.5,108.6L1086.8,109.1L1088,109.8L1089.3,110.8L1090.5,111.9L1091.8,113.2L1093,114.7L1094.3,116.1L1095.5,117.6L1096.8,118.9L1098,120L1099.3,120.8L1100.5,121.2L1101.8,121.1L1103,120.4L1104.3,119.3L1105.5,117.8L1106.8,116L1108,114L1109.3,112L1110.5,109.9L1111.8,107.9L1113,106L1114.3,104.2L1115.5,102.5L1116.8,100.9L1118,99.5L1119.3,98.1L1120.5,96.9L1121.8,95.8L1123,94.8L1124.3,94L1125.5,93.3L1126.8,92.7L1128,92.3L1129.3,92.2L1130.5,92.3L1131.8,92.7L1133,93.5L1134.3,94.5L1135.5,95.7L1136.8,97L1138,98.5L1139.3,100.1L1140.5,101.7L1141.8,103.3L1143,104.8L1144.3,106.2L1145.5,107.5L1146.8,108.6L1148,109.5L1149.3,110.2L1150.5,110.5L1151.8,110.6L1153,110.4L1154.3,109.9L1155.5,109.1L1156.8,108.2L1158,107.1L1159.3,105.9L1160.5,104.6L1161.8,103.2L1163,101.8L1164.3,100.3L1165.5,98.7L1166.8,97.1L1168,95.4L1169.3,93.6L1170.5,91.8L1171.8,90L1173,88.6L1174.3,87.7L1175.5,87.3L1176.8,87.7L1178,88.8L1179.3,90.4L1180.5,92.2L1181.8,94.2L1183,96.1L1184.3,98L1185.5,99.8L1186.8,101.5L1188,103.1L1189.3,104.7L1190.5,106.3L1191.8,107.7L1193,109L1194.3,110.2L1195.5,111.2L1196.8,111.9L1198,112.4L1199.3,112.6L1200.5,112.4L1201.8,112L1203,111.4L1204.3,110.6L1205.5,109.8L1206.8,109L1208,108.3L1209.3,107.7L1210.5,107.1L1211.8,106.5L1213,105.9L1214.3,105.3L1215.5,104.7L1216.8,104L1218,103.4L1219.3,102.7L1220.5,102L1221.8,101.3L1223,100.6L1224.3,99.8L1225.5,99.1L1226.8,98.4L1228,97.7L1229.3,97.2L1230.5,96.8L1231.8,96.6L1233,96.6L1234.3,96.8L1235.5,97.3L1236.8,97.9L1238,98.6L1239.3,99.5L1240.5,100.4L1241.8,101.3L1243,102.3L1244.3,103.2L1245.5,104L1246.8,104.8L1248,105.5L1249.3,106.1L1250.5,106.6L1251.8,107L1253,107.3L1254.3,107.4L1255.5,107.5L1256.8,107.4L1258,107.3L1259.3,107.2L1260.5,107.1L1261.8,106.9L1263,106.7L1264.3,106.6L1265.5,106.5L1266.8,106.4L1268,106.4L1269.3,106.4L1270.5,106.4L1271.8,106.5L1273,106.6L1274.3,106.8L1275.5,107L1276.8,107.3L1278,107.6L1279.3,107.8L1280.5,108.1L1281.8,108.4L1283,108.6L1284.3,108.9L1285.5,109L1286.8,109.2L1288,109.2L1289.3,109.2L1290.5,109.1L1291.8,108.9L1293,108.7L1294.3,108.3L1295.5,108L1296.8,107.6L1298,107.2L1299.3,106.7L1300.5,106.3L1301.8,105.9L1303,105.5L1304.3,105.1L1305.5,104.7L1306.8,104.3L1308,103.9L1309.3,103.5L1310.5,103.2L1311.3,103.1" fill="none" stroke="#000" stroke-width="1.65" stroke-dasharray="7.2 3"/>
<path d="M801.8,99L803,98.4L804.3,97.6L805.5,96.8L806.8,96.1L808,95.5L809.3,95L810.5,94.6L811.8,94.2L813,93.9L814.3,93.7L815.5,93.6L816.8,93.4L818,93.3L819.3,93.2L820.5,93.1L821.8,93L823,92.9L824.3,92.8L825.5,92.8L826.8,92.7L828,92.6L829.3,92.5L830.5,92.4L831.8,92.3L833,92.3L834.3,92.3L835.5,92.4L836.8,92.8L838,93.8L839.3,95.2L840.5,97.1L841.8,99L843,100.8L844.3,102.5L845.5,104.1L846.8,105.5L848,106.4L849.3,106.9L850.5,106.8L851.8,106.2L853,105L854.3,103.5L855.5,101.9L856.8,100.3L858,99.1L859.3,98.5L860.5,98.8L861.8,100.1L863,102.2L864.3,105.2L865.5,108.6L866.8,112.2L868,115.8L869.3,119.2L870.5,122.4L871.8,125.3L873,128L874.3,130.5L875.5,132.5L876.8,133.8L878,134.3L879.3,133.7L880.5,132.2L881.8,129.8L883,126.7L884.3,123L885.5,118.9L886.8,114.7L888,110.6L889.3,106.8L890.5,103.4L891.8,100.5L893,98.2L894.3,96.4L895.5,94.9L896.8,93.8L898,93L899.3,92.4L900.5,91.8L901.8,91.4L903,91L904.3,90.5L905.5,90.1L906.8,89.7L908,89.4L909.3,89.2L910.5,89.2L911.8,89.4L913,89.9L914.3,90.5L915.5,91.4L916.8,92.4L918,93.5L919.3,94.7L920.5,96L921.8,97.2L923,98.4L924.3,99.5L925.5,100.5L926.8,101.3L928,102L929.3,102.7L930.5,103.2L931.8,103.7L933,104.1L934.3,104.4L935.5,104.7L936.8,104.8L938,104.9L939.3,105L940.5,105L941.8,105L943,105L944.3,105L945.5,105.1L946.8,105.2L948,105.5L949.3,105.8L950.5,106.2L951.8,106.8L953,107.5L954.3,108.3L955.5,109.3L956.8,110.3L958,111.5L959.3,112.7L960.5,113.7L961.8,114.5L963,114.9L964.3,114.8L965.5,114.3L966.8,113.3L968,112L969.3,110.6L970.5,109.1L971.8,107.4L973,105.5L974.3,103.4L975.5,101L976.8,98.7L978,96.5L979.3,94.8L980.5,93.6L981.8,93.2L983,93.8L984.3,95.5L985.5,98.1L986.8,101.6L988,105.7L989.3,110.4L990.5,115.4L991.8,120.7L993,125.9L994.3,131.1L995.5,136L996.8,140.3L998,143.8L999.3,146.2L1000.5,147L1001.8,146.2L1003,144L1004.3,140.7L1005.5,136.7L1006.8,132.3L1008,127.8L1009.3,123.1L1010.5,118.3L1011.8,113.7L1013,109.2L1014.3,105L1015.5,101L1016.8,97.3L1018,94L1019.3,91.2L1020.5,88.8L1021.8,86.9L1023,85.6L1024.3,84.8L1025.5,84.7L1026.8,85.1L1028,86.1L1029.3,87.4L1030.5,88.9L1031.8,90.7L1033,92.5L1034.3,94.4L1035.5,96.3L1036.8,98.2L1038,100L1039.3,101.8L1040.5,103.5L1041.8,105.1L1043,106.7L1044.3,108.1L1045.5,109.5L1046.8,110.8L1048,111.8L1049.3,112.7L1050.5,113.4L1051.8,113.9L1053,114.2L1054.3,114.5L1055.5,114.8L1056.8,115L1058,115.2L1059.3,115.4L1060.5,115.6L1061.8,115.8L1063,115.9L1064.3,115.9L1065.5,115.9L1066.8,115.7L1068,115.4L1069.3,115L1070.5,114.5L1071.8,113.8L1073,113.2L1074.3,112.4L1075.5,111.6L1076.8,110.9L1078,110.1L1079.3,109.4L1080.5,108.8L1081.8,108.4L1083,108.1L1084.3,108.1L1085.5,108.2L1086.8,108.6L1088,109.1L1089.3,109.9L1090.5,110.8L1091.8,111.9L1093,113L1094.3,114.3L1095.5,115.5L1096.8,116.7L1098,117.6L1099.3,118.3L1100.5,118.7L1101.8,118.6L1103,118.1L1104.3,117.2L1105.5,116L1106.8,114.5L1108,112.8L1109.3,111L1110.5,109.2L1111.8,107.4L1113,105.6L1114.3,103.9L1115.5,102.3L1116.8,100.8L1118,99.5L1119.3,98.3L1120.5,97.3L1121.8,96.5L1123,95.8L1124.3,95.1L1125.5,94.6L1126.8,94.2L1128,93.9L1129.3,93.8L1130.5,93.9L1131.8,94.2L1133,94.8L1134.3,95.5L1135.5,96.5L1136.8,97.6L1138,98.9L1139.3,100.2L1140.5,101.7L1141.8,103.1L1143,104.6L1144.3,106L1145.5,107.3L1146.8,108.4L1148,109.4L1149.3,110.1L1150.5,110.5L1151.8,110.7L1153,110.5L1154.3,110L1155.5,109.3L1156.8,108.4L1158,107.3L1159.3,106.1L1160.5,104.7L1161.8,103.2L1163,101.7L1164.3,100.1L1165.5,98.6L1166.8,97L1168,95.6L1169.3,94.2L1170.5,93L1171.8,92.1L1173,91.3L1174.3,90.8L1175.5,90.7L1176.8,90.9L1178,91.5L1179.3,92.4L1180.5,93.5L1181.8,94.8L1183,96.3L1184.3,98L1185.5,99.7L1186.8,101.4L1188,103.1L1189.3,104.8L1190.5,106.3L1191.8,107.7L1193,109.1L1194.3,110.2L1195.5,111.2L1196.8,111.9L1198,112.4L1199.3,112.6L1200.5,112.4L1201.8,112L1203,111.4L1204.3,110.6L1205.5,109.8L1206.8,109L1208,108.3L1209.3,107.7L1210.5,107.1L1211.8,106.5L1213,105.9L1214.3,105.3L1215.5,104.7L1216.8,104L1218,103.4L1219.3,102.7L1220.5,102L1221.8,101.3L1223,100.6L1224.3,99.8L1225.5,99.1L1226.8,98.4L1228,97.7L1229.3,97.2L1230.5,96.8L1231.8,96.6L1233,96.6L1234.3,96.8L1235.5,97.3L1236.8,97.9L1238,98.6L1239.3,99.5L1240.5,100.4L1241.8,101.3L1243,102.3L1244.3,103.2L1245.5,104L1246.8,104.8L1248,105.5L1249.3,106.1L1250.5,106.6L1251.8,107L1253,107.3L1254.3,107.4L1255.5,107.5L1256.8,107.4L1258,107.3L1259.3,107.2L1260.5,107.1L1261.8,106.9L1263,106.7L1264.3,106.6L1265.5,106.5L1266.8,106.4L1268,106.4L1269.3,106.4L1270.5,106.4L1271.8,106.5L1273,106.6L1274.3,106.8L1275.5,107L1276.8,107.3L1278,107.6L1279.3,107.8L1280.5,108.1L1281.8,108.4L1283,108.6L1284.3,108.9L1285.5,109L1286.8,109.2L1288,109.2L1289.3,109.2L1290.5,109.1L1291.8,108.9L1293,108.7L1294.3,108.3L1295.5,108L1296.8,107.6L1298,107.2L1299.3,106.7L1300.5,106.3L1301.8,105.9L1303,105.5L1304.3,105.1L1305.5,104.7L1306.8,104.3L1308,103.9L1309.3,103.5L1310.5,103.2L1311.3,103.1" fill="none" stroke="#000" stroke-width="1.75" stroke-linejoin="round" stroke-linecap="round"/>
<path d="M801.8,273.4L803,272.5L804.3,271.3L805.5,270.2L806.8,269.2L808,268.3L809.3,267.5L810.5,266.8L811.8,266.1L813,265.5L814.3,264.9L815.5,264.4L816.8,263.8L818,263.3L819.3,262.9L820.5,262.4L821.8,262L823,261.6L824.3,261.2L825.5,260.8L826.8,260.2L828,259.7L829.3,259L830.5,258.4L831.8,257.6L833,256.8L834.3,256.1L835.5,255.4L836.8,254.8L838,254.5L839.3,254.4L840.5,254.7L841.8,255.3L843,256.1L844.3,257.2L845.5,258L846.8,258.3L848,257.7L849.3,256L850.5,253.9L851.8,251.7L853,249.9L854.3,248.5L855.5,247.7L856.8,247.6L858,248.4L859.3,250.4L860.5,253.8L861.8,258.3L863,263.9L864.3,270.6L865.5,278.3L866.8,287L868,296.7L869.3,306.6L870.5,316.2L871.8,325.1L873,333.1L874.3,340.1L875.5,345.8L876.8,349.8L878,351.4L879.3,350.5L880.5,347L881.8,341.4L883,334.2L884.3,326L885.5,317.4L886.8,309.1L888,301.5L889.3,294.5L890.5,288.1L891.8,282L893,276.5L894.3,271.5L895.5,267.1L896.8,263.5L898,260.6L899.3,258.2L900.5,256.3L901.8,254.6L903,253.2L904.3,251.8L905.5,250.5L906.8,249.3L908,248.4L909.3,247.8L910.5,247.5L911.8,247.7L913,248.2L914.3,249.2L915.5,250.5L916.8,252.2L918,254.2L919.3,256.4L920.5,258.7L921.8,260.9L923,262.9L924.3,264.5L925.5,265.8L926.8,266.8L928,267.6L929.3,268.2L930.5,268.7L931.8,269.3L933,269.8L934.3,270.3L935.5,270.8L936.8,271.3L938,271.8L939.3,272.2L940.5,272.7L941.8,273.1L943,273.6L944.3,274.1L945.5,274.7L946.8,275.6L948,276.7L949.3,278.1L950.5,279.6L951.8,281.2L953,282.7L954.3,284.2L955.5,285.4L956.8,286.4L958,287.2L959.3,287.7L960.5,288L961.8,288L963,287.8L964.3,287.4L965.5,286.6L966.8,285.4L968,283.7L969.3,281.6L970.5,278.9L971.8,275.7L973,271.9L974.3,267.6L975.5,263.1L976.8,258.5L978,254.3L979.3,250.7L980.5,248L981.8,246.4L983,246L984.3,246.9L985.5,249.2L986.8,252.9L988,257.8L989.3,264L990.5,271.2L991.8,279.4L993,288.3L994.3,297.7L995.5,307L996.8,315.9L998,323.9L999.3,330.5L1000.5,335.5L1001.8,338.6L1003,339.5L1004.3,338.2L1005.5,334.8L1006.8,329.8L1008,323.6L1009.3,316.6L1010.5,308.9L1011.8,300.6L1013,291.8L1014.3,282.7L1015.5,273.4L1016.8,264.2L1018,255.5L1019.3,247.5L1020.5,240.7L1021.8,235.2L1023,231.5L1024.3,229.5L1025.5,228.7L1026.8,228.8L1028,229.8L1029.3,232.3L1030.5,236.4L1031.8,241.9L1033,248.1L1034.3,254.6L1035.5,260.7L1036.8,266.1L1038,270.8L1039.3,275L1040.5,278.8L1041.8,282.2L1043,285.2L1044.3,287.7L1045.5,289.6L1046.8,291L1048,292L1049.3,292.6L1050.5,292.7L1051.8,292.6L1053,292.3L1054.3,291.8L1055.5,291.2L1056.8,290.6L1058,290L1059.3,289.5L1060.5,289.1L1061.8,288.7L1063,288.5L1064.3,288.3L1065.5,288.3L1066.8,288.2L1068,288.2L1069.3,288.1L1070.5,287.9L1071.8,287.5L1073,287L1074.3,286.2L1075.5,285.3L1076.8,284.2L1078,283.1L1079.3,282L1080.5,281.3L1081.8,281L1083,281.2L1084.3,281.9L1085.5,283.1L1086.8,284.6L1088,286.3L1089.3,288.2L1090.5,290.3L1091.8,292.5L1093,294.8L1094.3,297.1L1095.5,299.4L1096.8,301.7L1098,303.7L1099.3,305.5L1100.5,306.9L1101.8,307.8L1103,308.1L1104.3,307.8L1105.5,306.7L1106.8,305.1L1108,302.9L1109.3,300.4L1110.5,297.5L1111.8,294.4L1113,291.2L1114.3,287.8L1115.5,284.4L1116.8,281L1118,277.7L1119.3,274.4L1120.5,271.4L1121.8,268.6L1123,266L1124.3,263.8L1125.5,261.9L1126.8,260.6L1128,259.9L1129.3,259.8L1130.5,260.4L1131.8,261.7L1133,263.5L1134.3,265.8L1135.5,268.4L1136.8,271.2L1138,274.1L1139.3,276.9L1140.5,279.4L1141.8,281.7L1143,283.8L1144.3,285.7L1145.5,287.4L1146.8,288.9L1148,289.9L1149.3,290.4L1150.5,290.2L1151.8,289.4L1153,288.1L1154.3,286.5L1155.5,284.7L1156.8,282.7L1158,280.7L1159.3,278.7L1160.5,276.4L1161.8,274.1L1163,271.5L1164.3,268.7L1165.5,265.9L1166.8,263L1168,260.3L1169.3,257.9L1170.5,255.7L1171.8,254L1173,252.7L1174.3,251.8L1175.5,251.3L1176.8,251.2L1178,251.5L1179.3,252.2L1180.5,253.2L1181.8,254.6L1183,256.3L1184.3,258.3L1185.5,260.4L1186.8,262.7L1188,264.9L1189.3,266.9L1190.5,268.8L1191.8,270.5L1193,272L1194.3,273.3L1195.5,274.4L1196.8,275.2L1198,275.8L1199.3,276.1L1200.5,276.3L1201.8,276.1L1203,275.8L1204.3,275.4L1205.5,274.9L1206.8,274.3L1208,273.7L1209.3,273.2L1210.5,272.7L1211.8,272.2L1213,271.8L1214.3,271.3L1215.5,270.9L1216.8,270.6L1218,270.2L1219.3,269.7L1220.5,269.2L1221.8,268.6L1223,267.9L1224.3,267.1L1225.5,266.4L1226.8,265.7L1228,265.3L1229.3,265.2L1230.5,265.4L1231.8,266.1L1233,267.1L1234.3,268.4L1235.5,270L1236.8,271.7L1238,273.3L1239.3,274.7L1240.5,275.9L1241.8,276.8L1243,277.5L1244.3,278.1L1245.5,278.5L1246.8,278.7L1248,278.8L1249.3,278.9L1250.5,278.9L1251.8,278.9L1253,278.8L1254.3,278.6L1255.5,278.5L1256.8,278.4L1258,278.2L1259.3,278.1L1260.5,278L1261.8,277.9L1263,277.9L1264.3,277.8L1265.5,277.8L1266.8,277.7L1268,277.7L1269.3,277.7L1270.5,277.6L1271.8,277.6L1273,277.6L1274.3,277.6L1275.5,277.6L1276.8,277.5L1278,277.5L1279.3,277.5L1280.5,277.6L1281.8,277.6L1283,277.6L1284.3,277.6L1285.5,277.6L1286.8,277.6L1288,277.5L1289.3,277.4L1290.5,277.3L1291.8,277.1L1293,276.9L1294.3,276.7L1295.5,276.5L1296.8,276.2L1298,275.9L1299.3,275.6L1300.5,275.3L1301.8,275L1303,274.7L1304.3,274.4L1305.5,274.1L1306.8,273.8L1308,273.4L1309.3,273.1L1310.5,272.8L1311.3,272.7" fill="none" stroke="#000" stroke-width="1.95" stroke-dasharray="0.1 5.8" stroke-linecap="round"/>
<path d="M801.8,273.3L803,272.4L804.3,271.2L805.5,270L806.8,269L808,268L809.3,267.1L810.5,266.4L811.8,265.7L813,265.1L814.3,264.4L815.5,263.8L816.8,263.2L818,262.7L819.3,262.1L820.5,261.6L821.8,261.2L823,260.7L824.3,260.3L825.5,259.9L826.8,259.5L828,259.1L829.3,258.7L830.5,258.2L831.8,257.7L833,257.1L834.3,256.5L835.5,256L836.8,255.6L838,255.5L839.3,255.7L840.5,256.3L841.8,257.1L843,258.2L844.3,259.5L845.5,260.7L846.8,261.5L848,261.6L849.3,260.9L850.5,259.8L851.8,258.5L853,257.2L854.3,256.1L855.5,255.4L856.8,255.1L858,255.8L859.3,257.6L860.5,260.7L861.8,265L863,270.2L864.3,276.1L865.5,282.9L866.8,290.5L868,298.8L869.3,307.1L870.5,314.8L871.8,321.4L873,327L874.3,331.6L875.5,335L876.8,337L878,337.4L879.3,336L880.5,332.8L881.8,327.8L883,321.4L884.3,314.2L885.5,306.9L886.8,300.1L888,294L889.3,288.7L890.5,283.7L891.8,279.1L893,274.7L894.3,270.6L895.5,267.1L896.8,264.1L898,261.7L899.3,259.8L900.5,258.3L901.8,257.1L903,256L904.3,255L905.5,254.2L906.8,253.4L908,252.8L909.3,252.4L910.5,252.3L911.8,252.4L913,252.8L914.3,253.5L915.5,254.5L916.8,255.9L918,257.5L919.3,259.4L920.5,261.4L921.8,263.3L923,264.9L924.3,266.2L925.5,267.1L926.8,267.7L928,268.1L929.3,268.4L930.5,268.7L931.8,269.2L933,269.7L934.3,270.3L935.5,270.8L936.8,271.3L938,271.8L939.3,272.3L940.5,272.7L941.8,273.1L943,273.6L944.3,274.1L945.5,274.8L946.8,275.6L948,276.7L949.3,278L950.5,279.5L951.8,281L953,282.6L954.3,284.1L955.5,285.5L956.8,286.8L958,287.8L959.3,288.5L960.5,288.9L961.8,289L963,288.7L964.3,288L965.5,287L966.8,285.6L968,283.8L969.3,281.7L970.5,279.1L971.8,276L973,272.4L974.3,268.3L975.5,263.8L976.8,259.4L978,255.3L979.3,252L980.5,249.5L981.8,248.1L983,247.9L984.3,248.9L985.5,251.3L986.8,254.8L988,259.7L989.3,265.6L990.5,272.6L991.8,280.4L993,288.9L994.3,297.7L995.5,306.4L996.8,314.6L998,321.8L999.3,327.8L1000.5,332.3L1001.8,334.9L1003,335.6L1004.3,334.3L1005.5,331L1006.8,326.3L1008,320.4L1009.3,313.7L1010.5,306.4L1011.8,298.4L1013,290L1014.3,281.2L1015.5,272.3L1016.8,263.5L1018,255.2L1019.3,247.6L1020.5,241.1L1021.8,236.1L1023,232.8L1024.3,231.2L1025.5,230.6L1026.8,230.6L1028,231.4L1029.3,233.4L1030.5,237L1031.8,241.9L1033,247.7L1034.3,253.6L1035.5,259.3L1036.8,264.4L1038,268.8L1039.3,272.7L1040.5,276.3L1041.8,279.5L1043,282.4L1044.3,284.8L1045.5,286.8L1046.8,288.3L1048,289.4L1049.3,290.1L1050.5,290.5L1051.8,290.6L1053,290.5L1054.3,290.3L1055.5,289.9L1056.8,289.6L1058,289.2L1059.3,288.9L1060.5,288.7L1061.8,288.5L1063,288.4L1064.3,288.3L1065.5,288.3L1066.8,288.3L1068,288.3L1069.3,288.2L1070.5,287.9L1071.8,287.5L1073,286.9L1074.3,286.2L1075.5,285.3L1076.8,284.2L1078,283.1L1079.3,282.1L1080.5,281.3L1081.8,281L1083,281.2L1084.3,281.8L1085.5,282.9L1086.8,284.3L1088,285.9L1089.3,287.7L1090.5,289.6L1091.8,291.6L1093,293.8L1094.3,295.9L1095.5,298.1L1096.8,300.1L1098,302L1099.3,303.6L1100.5,304.9L1101.8,305.8L1103,306.1L1104.3,305.9L1105.5,305.1L1106.8,303.7L1108,301.8L1109.3,299.4L1110.5,296.7L1111.8,293.6L1113,290.3L1114.3,286.9L1115.5,283.5L1116.8,280.1L1118,276.9L1119.3,273.8L1120.5,270.9L1121.8,268.3L1123,266L1124.3,264.1L1125.5,262.6L1126.8,261.5L1128,260.8L1129.3,260.7L1130.5,261L1131.8,261.9L1133,263.4L1134.3,265.3L1135.5,267.7L1136.8,270.4L1138,273.2L1139.3,275.9L1140.5,278.4L1141.8,280.7L1143,282.8L1144.3,284.7L1145.5,286.4L1146.8,287.9L1148,288.9L1149.3,289.4L1150.5,289.2L1151.8,288.3L1153,287.1L1154.3,285.4L1155.5,283.7L1156.8,281.8L1158,280L1159.3,278L1160.5,276L1161.8,273.9L1163,271.5L1164.3,269L1165.5,266.3L1166.8,263.7L1168,261.1L1169.3,258.8L1170.5,256.8L1171.8,255.1L1173,253.8L1174.3,252.9L1175.5,252.4L1176.8,252.2L1178,252.4L1179.3,252.9L1180.5,253.7L1181.8,254.9L1183,256.4L1184.3,258.2L1185.5,260.2L1186.8,262.3L1188,264.4L1189.3,266.3L1190.5,268.1L1191.8,269.7L1193,271.1L1194.3,272.3L1195.5,273.3L1196.8,274.1L1198,274.8L1199.3,275.1L1200.5,275.3L1201.8,275.3L1203,275.1L1204.3,274.8L1205.5,274.4L1206.8,274L1208,273.5L1209.3,273.1L1210.5,272.7L1211.8,272.2L1213,271.9L1214.3,271.5L1215.5,271.2L1216.8,270.9L1218,270.5L1219.3,270.1L1220.5,269.6L1221.8,269.1L1223,268.4L1224.3,267.6L1225.5,266.9L1226.8,266.3L1228,265.9L1229.3,265.7L1230.5,265.8L1231.8,266.4L1233,267.3L1234.3,268.5L1235.5,270.1L1236.8,271.7L1238,273.2L1239.3,274.6L1240.5,275.7L1241.8,276.6L1243,277.2L1244.3,277.7L1245.5,278L1246.8,278.2L1248,278.3L1249.3,278.4L1250.5,278.4L1251.8,278.3L1253,278.2L1254.3,278.1L1255.5,278L1256.8,277.9L1258,277.7L1259.3,277.6L1260.5,277.5L1261.8,277.4L1263,277.4L1264.3,277.3L1265.5,277.3L1266.8,277.2L1268,277.2L1269.3,277.2L1270.5,277.1L1271.8,277.1L1273,277.1L1274.3,277.2L1275.5,277.2L1276.8,277.2L1278,277.2L1279.3,277.3L1280.5,277.3L1281.8,277.4L1283,277.4L1284.3,277.5L1285.5,277.5L1286.8,277.5L1288,277.5L1289.3,277.4L1290.5,277.3L1291.8,277.1L1293,277L1294.3,276.7L1295.5,276.5L1296.8,276.2L1298,275.9L1299.3,275.6L1300.5,275.3L1301.8,275L1303,274.7L1304.3,274.4L1305.5,274.1L1306.8,273.7L1308,273.4L1309.3,273.1L1310.5,272.8L1311.3,272.7" fill="none" stroke="#000" stroke-width="1.65" stroke-dasharray="7.2 3"/>
<path d="M801.8,273.3L803,272.3L804.3,271.1L805.5,269.8L806.8,268.7L808,267.7L809.3,266.8L810.5,266L811.8,265.3L813,264.6L814.3,263.9L815.5,263.2L816.8,262.6L818,262L819.3,261.4L820.5,260.9L821.8,260.3L823,259.8L824.3,259.3L825.5,258.8L826.8,258.2L828,257.5L829.3,256.8L830.5,256L831.8,255.1L833,254.2L834.3,253.3L835.5,252.5L836.8,251.9L838,251.5L839.3,251.5L840.5,251.7L841.8,252.3L843,253.1L844.3,254.1L845.5,255L846.8,255.7L848,256L849.3,255.7L850.5,255.1L851.8,254.3L853,253.5L854.3,252.9L855.5,252.9L856.8,253.6L858,255.3L859.3,258.2L860.5,262.4L861.8,267.6L863,273.5L864.3,280L865.5,287.2L866.8,295.3L868,304L869.3,312.8L870.5,321.2L871.8,328.6L873,335.3L874.3,341L875.5,345.7L876.8,348.6L878,349.1L879.3,346.9L880.5,342.3L881.8,335.9L883,328.2L884.3,319.8L885.5,311.3L886.8,303.2L888,295.9L889.3,289.2L890.5,283.2L891.8,277.7L893,272.6L894.3,268.1L895.5,264.1L896.8,260.8L898,258.1L899.3,255.8L900.5,254L901.8,252.4L903,251L904.3,249.7L905.5,248.5L906.8,247.5L908,246.8L909.3,246.4L910.5,246.3L911.8,246.6L913,247.3L914.3,248.4L915.5,249.9L916.8,251.8L918,253.9L919.3,256.2L920.5,258.5L921.8,260.8L923,262.8L924.3,264.5L925.5,265.9L926.8,266.8L928,267.6L929.3,268.2L930.5,268.7L931.8,269.3L933,269.8L934.3,270.3L935.5,270.8L936.8,271.3L938,271.8L939.3,272.2L940.5,272.7L941.8,273.1L943,273.6L944.3,274.2L945.5,274.8L946.8,275.6L948,276.6L949.3,277.8L950.5,279.1L951.8,280.6L953,282.2L954.3,284L955.5,285.8L956.8,287.7L958,289.4L959.3,290.8L960.5,291.6L961.8,291.8L963,291.3L964.3,290.1L965.5,288.4L966.8,286.2L968,283.8L969.3,281.2L970.5,278.2L971.8,274.8L973,270.9L974.3,266.5L975.5,261.7L976.8,256.9L978,252.4L979.3,248.4L980.5,245.3L981.8,243.5L983,243.2L984.3,244.7L985.5,247.9L986.8,252.5L988,258.4L989.3,265.5L990.5,273.5L991.8,282.3L993,291.8L994.3,301.6L995.5,311.5L996.8,321.1L998,330L999.3,337.7L1000.5,343.9L1001.8,347.9L1003,349.2L1004.3,347.7L1005.5,343.5L1006.8,337.2L1008,329.4L1009.3,320.7L1010.5,311.4L1011.8,301.5L1013,291L1014.3,280.1L1015.5,269.1L1016.8,258.1L1018,247.7L1019.3,238.2L1020.5,229.7L1021.8,222.8L1023,217.4L1024.3,213.9L1025.5,212.2L1026.8,212.5L1028,214.7L1029.3,218.7L1030.5,224.3L1031.8,231.1L1033,238.6L1034.3,246.1L1035.5,253.2L1036.8,259.6L1038,265.2L1039.3,270.1L1040.5,274.6L1041.8,278.7L1043,282.2L1044.3,285.2L1045.5,287.7L1046.8,289.5L1048,290.9L1049.3,291.8L1050.5,292.3L1051.8,292.4L1053,292.2L1054.3,291.8L1055.5,291.2L1056.8,290.6L1058,290L1059.3,289.5L1060.5,289.1L1061.8,288.7L1063,288.5L1064.3,288.3L1065.5,288.3L1066.8,288.2L1068,288.2L1069.3,288.1L1070.5,287.9L1071.8,287.5L1073,287L1074.3,286.2L1075.5,285.3L1076.8,284.2L1078,283.1L1079.3,282L1080.5,281.3L1081.8,281L1083,281.3L1084.3,282.2L1085.5,283.5L1086.8,285.3L1088,287.3L1089.3,289.6L1090.5,292.2L1091.8,295L1093,298L1094.3,301.2L1095.5,304.5L1096.8,307.8L1098,311.1L1099.3,314.2L1100.5,316.9L1101.8,318.9L1103,319.8L1104.3,319.5L1105.5,318L1106.8,315.3L1108,311.9L1109.3,307.9L1110.5,303.6L1111.8,299L1113,294.4L1114.3,289.8L1115.5,285.3L1116.8,280.9L1118,276.8L1119.3,272.9L1120.5,269.3L1121.8,266L1123,263L1124.3,260.4L1125.5,258.3L1126.8,256.8L1128,255.9L1129.3,255.9L1130.5,256.7L1131.8,258.3L1133,260.5L1134.3,263.4L1135.5,266.6L1136.8,270.1L1138,273.7L1139.3,277.2L1140.5,280.5L1141.8,283.6L1143,286.4L1144.3,289L1145.5,291.4L1146.8,293.3L1148,294.7L1149.3,295.3L1150.5,294.9L1151.8,293.7L1153,291.9L1154.3,289.6L1155.5,287L1156.8,284.2L1158,281.5L1159.3,278.7L1160.5,275.8L1161.8,272.7L1163,269.5L1164.3,266.1L1165.5,262.7L1166.8,259.3L1168,256.1L1169.3,253.1L1170.5,250.6L1171.8,248.5L1173,246.9L1174.3,245.8L1175.5,245.3L1176.8,245.2L1178,245.7L1179.3,246.7L1180.5,248.2L1181.8,249.9L1183,252L1184.3,254.4L1185.5,256.9L1186.8,259.4L1188,261.9L1189.3,264.3L1190.5,266.5L1191.8,268.6L1193,270.5L1194.3,272.2L1195.5,273.7L1196.8,275.1L1198,276.1L1199.3,276.8L1200.5,277.2L1201.8,277.2L1203,276.8L1204.3,276.2L1205.5,275.4L1206.8,274.6L1208,273.9L1209.3,273.1L1210.5,272.5L1211.8,271.9L1213,271.3L1214.3,270.8L1215.5,270.3L1216.8,269.8L1218,269.3L1219.3,268.7L1220.5,268L1221.8,267.1L1223,266.1L1224.3,265.1L1225.5,264.1L1226.8,263.3L1228,262.9L1229.3,262.9L1230.5,263.4L1231.8,264.5L1233,266L1234.3,267.8L1235.5,269.8L1236.8,271.8L1238,273.7L1239.3,275.3L1240.5,276.7L1241.8,277.9L1243,278.8L1244.3,279.6L1245.5,280.2L1246.8,280.6L1248,280.9L1249.3,281L1250.5,281L1251.8,281L1253,280.8L1254.3,280.7L1255.5,280.4L1256.8,280.2L1258,280L1259.3,279.8L1260.5,279.7L1261.8,279.5L1263,279.4L1264.3,279.4L1265.5,279.3L1266.8,279.2L1268,279.2L1269.3,279.2L1270.5,279.1L1271.8,279.1L1273,279L1274.3,279L1275.5,278.9L1276.8,278.9L1278,278.8L1279.3,278.8L1280.5,278.8L1281.8,278.8L1283,278.8L1284.3,278.7L1285.5,278.7L1286.8,278.6L1288,278.6L1289.3,278.4L1290.5,278.3L1291.8,278.1L1293,277.8L1294.3,277.5L1295.5,277.2L1296.8,276.9L1298,276.6L1299.3,276.2L1300.5,275.8L1301.8,275.5L1303,275.1L1304.3,274.7L1305.5,274.4L1306.8,274L1308,273.6L1309.3,273.2L1310.5,272.9L1311.3,272.7" fill="none" stroke="#000" stroke-width="1.75" stroke-linejoin="round" stroke-linecap="round"/>
<path d="M801.8,445.5L803,444.2L804.3,442.5L805.5,440.9L806.8,439.5L808,438.3L809.3,437.3L810.5,436.5L811.8,435.8L813,435.2L814.3,434.8L815.5,434.4L816.8,434.1L818,433.9L819.3,433.8L820.5,433.6L821.8,433.5L823,433.3L824.3,433.1L825.5,432.7L826.8,432.2L828,431.6L829.3,430.9L830.5,430.1L831.8,429.3L833,428.5L834.3,427.6L835.5,426.9L836.8,426.3L838,426L839.3,425.9L840.5,426.1L841.8,426.6L843,427.3L844.3,428L845.5,428.6L846.8,428.7L848,428.2L849.3,427.3L850.5,426.3L851.8,425.2L853,424.4L854.3,423.8L855.5,423.5L856.8,423.3L858,423.3L859.3,423.8L860.5,425.2L861.8,427.8L863,431.9L864.3,437.5L865.5,444.8L866.8,453.9L868,464.6L869.3,475.7L870.5,486L871.8,494.9L873,502.3L874.3,508.4L875.5,513.3L876.8,516.6L878,517.9L879.3,517.1L880.5,513.8L881.8,508.2L883,500.5L884.3,491.3L885.5,481.8L886.8,472.8L888,464.8L889.3,457.9L890.5,451.7L891.8,446.1L893,441.2L894.3,437.2L895.5,434L896.8,431.6L898,429.9L899.3,428.8L900.5,427.9L901.8,427.1L903,426.3L904.3,425.4L905.5,424.6L906.8,423.8L908,423.1L909.3,422.6L910.5,422.3L911.8,422.4L913,422.7L914.3,423.4L915.5,424.3L916.8,425.5L918,426.9L919.3,428.5L920.5,430.1L921.8,431.7L923,433.2L924.3,434.5L925.5,435.6L926.8,436.6L928,437.4L929.3,438.1L930.5,438.8L931.8,439.5L933,440.1L934.3,440.7L935.5,441.3L936.8,441.8L938,442.3L939.3,442.8L940.5,443.2L941.8,443.6L943,444L944.3,444.5L945.5,445L946.8,445.6L948,446.2L949.3,447L950.5,447.9L951.8,448.9L953,450.1L954.3,451.4L955.5,452.8L956.8,454.3L958,455.8L959.3,457.4L960.5,458.7L961.8,459.6L963,460L964.3,459.7L965.5,458.8L966.8,457.2L968,455.2L969.3,452.8L970.5,450L971.8,446.8L973,443.2L974.3,439.3L975.5,435.2L976.8,431L978,427L979.3,423.4L980.5,420.5L981.8,418.3L983,417.2L984.3,417.2L985.5,418.7L986.8,421.8L988,426.7L989.3,433.3L990.5,441.4L991.8,450.3L993,459.8L994.3,469.3L995.5,478.6L996.8,487.2L998,494.9L999.3,501.2L1000.5,506.1L1001.8,509.2L1003,510.4L1004.3,509.5L1005.5,506.8L1006.8,502.2L1008,496L1009.3,488.6L1010.5,480.2L1011.8,471.2L1013,462L1014.3,453L1015.5,444.4L1016.8,436.1L1018,428.3L1019.3,421L1020.5,414.5L1021.8,409.2L1023,405.4L1024.3,403.3L1025.5,402.5L1026.8,402.4L1028,402.9L1029.3,404.7L1030.5,407.9L1031.8,412.6L1033,418.2L1034.3,424.1L1035.5,429.8L1036.8,434.8L1038,439.2L1039.3,443.1L1040.5,446.5L1041.8,449.5L1043,452.1L1044.3,454.2L1045.5,455.9L1046.8,457.3L1048,458.4L1049.3,459.3L1050.5,460.1L1051.8,460.7L1053,461.2L1054.3,461.4L1055.5,461.3L1056.8,460.9L1058,460.5L1059.3,460.2L1060.5,460L1061.8,460L1063,460.1L1064.3,460.2L1065.5,460.2L1066.8,460.1L1068,460L1069.3,459.8L1070.5,459.5L1071.8,459.1L1073,458.6L1074.3,457.8L1075.5,457L1076.8,456L1078,455.1L1079.3,454.3L1080.5,453.6L1081.8,453.3L1083,453.3L1084.3,453.8L1085.5,454.7L1086.8,455.9L1088,457.2L1089.3,458.8L1090.5,460.3L1091.8,461.8L1093,463.2L1094.3,464.5L1095.5,465.7L1096.8,466.9L1098,468.1L1099.3,469.4L1100.5,470.7L1101.8,471.8L1103,472.4L1104.3,472.6L1105.5,472L1106.8,470.9L1108,469.2L1109.3,467.3L1110.5,465.1L1111.8,462.8L1113,460.4L1114.3,457.8L1115.5,455.1L1116.8,452.3L1118,449.4L1119.3,446.4L1120.5,443.6L1121.8,440.8L1123,438.3L1124.3,436.1L1125.5,434.4L1126.8,433L1128,432.1L1129.3,431.6L1130.5,431.6L1131.8,432.1L1133,433.1L1134.3,434.7L1135.5,437L1136.8,439.7L1138,442.7L1139.3,445.9L1140.5,448.9L1141.8,451.5L1143,453.9L1144.3,456L1145.5,457.9L1146.8,459.5L1148,460.9L1149.3,461.7L1150.5,462L1151.8,461.6L1153,460.6L1154.3,459.1L1155.5,457.3L1156.8,455.3L1158,453.2L1159.3,451L1160.5,448.6L1161.8,446.2L1163,443.7L1164.3,441.1L1165.5,438.5L1166.8,435.9L1168,433.4L1169.3,431L1170.5,428.8L1171.8,426.9L1173,425.2L1174.3,423.9L1175.5,422.9L1176.8,422.4L1178,422.2L1179.3,422.6L1180.5,423.4L1181.8,424.6L1183,426.2L1184.3,428.1L1185.5,430.2L1186.8,432.4L1188,434.6L1189.3,436.6L1190.5,438.4L1191.8,440L1193,441.4L1194.3,442.6L1195.5,443.6L1196.8,444.4L1198,444.8L1199.3,445L1200.5,444.9L1201.8,444.5L1203,444L1204.3,443.5L1205.5,443L1206.8,442.6L1208,442.2L1209.3,442L1210.5,441.8L1211.8,441.6L1213,441.5L1214.3,441.2L1215.5,441L1216.8,440.7L1218,440.2L1219.3,439.8L1220.5,439.2L1221.8,438.6L1223,437.9L1224.3,437.2L1225.5,436.6L1226.8,436L1228,435.7L1229.3,435.6L1230.5,435.9L1231.8,436.4L1233,437.4L1234.3,438.7L1235.5,440.3L1236.8,441.9L1238,443.4L1239.3,444.7L1240.5,445.8L1241.8,446.7L1243,447.4L1244.3,448L1245.5,448.6L1246.8,449L1248,449.4L1249.3,449.7L1250.5,449.9L1251.8,450L1253,450L1254.3,449.9L1255.5,449.8L1256.8,449.6L1258,449.4L1259.3,449.2L1260.5,449L1261.8,448.8L1263,448.6L1264.3,448.5L1265.5,448.4L1266.8,448.3L1268,448.2L1269.3,448.1L1270.5,448.1L1271.8,448.1L1273,448.2L1274.3,448.3L1275.5,448.3L1276.8,448.4L1278,448.6L1279.3,448.7L1280.5,448.8L1281.8,448.9L1283,449L1284.3,449.1L1285.5,449.1L1286.8,449.1L1288,449.1L1289.3,449.1L1290.5,449L1291.8,448.9L1293,448.7L1294.3,448.5L1295.5,448.2L1296.8,448L1298,447.7L1299.3,447.4L1300.5,447.1L1301.8,446.8L1303,446.4L1304.3,446.1L1305.5,445.8L1306.8,445.4L1308,445.1L1309.3,444.8L1310.5,444.5L1311.3,444.3" fill="none" stroke="#000" stroke-width="1.95" stroke-dasharray="0.1 5.8" stroke-linecap="round"/>
<path d="M801.8,445.5L803,444.2L804.3,442.5L805.5,440.8L806.8,439.4L808,438.2L809.3,437.2L810.5,436.3L811.8,435.7L813,435.1L814.3,434.6L815.5,434.2L816.8,433.9L818,433.7L819.3,433.5L820.5,433.4L821.8,433.2L823,433L824.3,432.8L825.5,432.4L826.8,432L828,431.6L829.3,431L830.5,430.4L831.8,429.7L833,429L834.3,428.3L835.5,427.7L836.8,427.2L838,427L839.3,427L840.5,427.4L841.8,428L843,428.9L844.3,429.8L845.5,430.5L846.8,430.7L848,430.2L849.3,429.4L850.5,428.3L851.8,427.2L853,426.4L854.3,425.9L855.5,425.5L856.8,425.3L858,425.1L859.3,425.4L860.5,426.4L861.8,428.7L863,432.3L864.3,437.4L865.5,444.1L866.8,452.5L868,462.5L869.3,472.9L870.5,482.5L871.8,490.7L873,497.1L874.3,502L875.5,505.4L876.8,507.5L878,508.3L879.3,507.7L880.5,505.4L881.8,501.1L883,494.7L884.3,486.8L885.5,478.4L886.8,470.5L888,463.6L889.3,457.6L890.5,452.2L891.8,447.2L893,442.7L894.3,438.9L895.5,435.9L896.8,433.7L898,432.1L899.3,430.9L900.5,430L901.8,429.1L903,428.2L904.3,427.2L905.5,426.1L906.8,425.2L908,424.3L909.3,423.7L910.5,423.4L911.8,423.4L913,423.7L914.3,424.4L915.5,425.3L916.8,426.5L918,427.9L919.3,429.4L920.5,431L921.8,432.5L923,433.9L924.3,435.1L925.5,436.1L926.8,436.9L928,437.5L929.3,438.2L930.5,438.8L931.8,439.4L933,440.1L934.3,440.7L935.5,441.3L936.8,441.8L938,442.3L939.3,442.8L940.5,443.2L941.8,443.6L943,444L944.3,444.5L945.5,445L946.8,445.6L948,446.2L949.3,447L950.5,447.9L951.8,448.9L953,450.1L954.3,451.4L955.5,452.8L956.8,454.3L958,455.8L959.3,457.4L960.5,458.7L961.8,459.6L963,460L964.3,459.7L965.5,458.8L966.8,457.2L968,455.2L969.3,452.8L970.5,450L971.8,446.8L973,443.2L974.3,439.4L975.5,435.3L976.8,431.3L978,427.5L979.3,424.3L980.5,421.7L981.8,420L983,419.1L984.3,419.1L985.5,420.2L986.8,422.9L988,427.3L989.3,433.5L990.5,441.1L991.8,449.6L993,458.7L994.3,467.9L995.5,476.8L996.8,484.8L998,491.8L999.3,497.3L1000.5,501.3L1001.8,503.7L1003,504.5L1004.3,503.8L1005.5,501.6L1006.8,497.8L1008,492.5L1009.3,485.9L1010.5,478.2L1011.8,469.9L1013,461.4L1014.3,453.1L1015.5,445.2L1016.8,437.7L1018,430.7L1019.3,424.2L1020.5,418.5L1021.8,413.8L1023,410.6L1024.3,409L1025.5,408.4L1026.8,408.2L1028,408.6L1029.3,409.8L1030.5,412.5L1031.8,416.5L1033,421.3L1034.3,426.5L1035.5,431.6L1036.8,436.2L1038,440.2L1039.3,443.8L1040.5,447L1041.8,449.9L1043,452.3L1044.3,454.4L1045.5,456L1046.8,457.3L1048,458.4L1049.3,459.3L1050.5,460.1L1051.8,460.7L1053,461.2L1054.3,461.4L1055.5,461.3L1056.8,460.9L1058,460.5L1059.3,460.2L1060.5,460L1061.8,460L1063,460.1L1064.3,460.2L1065.5,460.2L1066.8,460.1L1068,460L1069.3,459.8L1070.5,459.5L1071.8,459.1L1073,458.6L1074.3,457.8L1075.5,457L1076.8,456L1078,455.1L1079.3,454.3L1080.5,453.6L1081.8,453.3L1083,453.3L1084.3,453.8L1085.5,454.7L1086.8,455.9L1088,457.3L1089.3,458.8L1090.5,460.3L1091.8,461.8L1093,463.2L1094.3,464.3L1095.5,465.4L1096.8,466.4L1098,467.3L1099.3,468.3L1100.5,469.3L1101.8,470.1L1103,470.6L1104.3,470.6L1105.5,470.2L1106.8,469.2L1108,467.9L1109.3,466.3L1110.5,464.4L1111.8,462.3L1113,460L1114.3,457.6L1115.5,455L1116.8,452.3L1118,449.5L1119.3,446.7L1120.5,443.9L1121.8,441.2L1123,438.8L1124.3,436.6L1125.5,434.9L1126.8,433.5L1128,432.6L1129.3,432.1L1130.5,432.1L1131.8,432.5L1133,433.4L1134.3,434.9L1135.5,437.1L1136.8,439.7L1138,442.7L1139.3,445.7L1140.5,448.6L1141.8,451.2L1143,453.5L1144.3,455.5L1145.5,457.3L1146.8,458.8L1148,460L1149.3,460.8L1150.5,461L1151.8,460.5L1153,459.5L1154.3,458L1155.5,456.3L1156.8,454.4L1158,452.3L1159.3,450.3L1160.5,448.1L1161.8,445.9L1163,443.6L1164.3,441.2L1165.5,438.8L1166.8,436.4L1168,434.1L1169.3,431.8L1170.5,429.8L1171.8,427.9L1173,426.3L1174.3,424.9L1175.5,424L1176.8,423.4L1178,423.2L1179.3,423.6L1180.5,424.4L1181.8,425.6L1183,427.2L1184.3,429.1L1185.5,431.2L1186.8,433.4L1188,435.6L1189.3,437.6L1190.5,439.4L1191.8,441L1193,442.5L1194.3,443.8L1195.5,444.9L1196.8,445.7L1198,446.2L1199.3,446.3L1200.5,446L1201.8,445.4L1203,444.6L1204.3,443.8L1205.5,443.1L1206.8,442.5L1208,442.1L1209.3,441.8L1210.5,441.7L1211.8,441.5L1213,441.4L1214.3,441.2L1215.5,441L1216.8,440.6L1218,440.2L1219.3,439.7L1220.5,439.2L1221.8,438.6L1223,438L1224.3,437.4L1225.5,436.8L1226.8,436.4L1228,436.1L1229.3,436.1L1230.5,436.3L1231.8,436.8L1233,437.6L1234.3,438.8L1235.5,440.3L1236.8,441.9L1238,443.4L1239.3,444.6L1240.5,445.6L1241.8,446.4L1243,447.1L1244.3,447.7L1245.5,448.2L1246.8,448.6L1248,449L1249.3,449.2L1250.5,449.4L1251.8,449.4L1253,449.4L1254.3,449.4L1255.5,449.2L1256.8,449.1L1258,448.9L1259.3,448.7L1260.5,448.5L1261.8,448.3L1263,448.1L1264.3,448L1265.5,447.9L1266.8,447.8L1268,447.7L1269.3,447.7L1270.5,447.7L1271.8,447.7L1273,447.8L1274.3,447.9L1275.5,448L1276.8,448.1L1278,448.3L1279.3,448.4L1280.5,448.6L1281.8,448.7L1283,448.8L1284.3,449L1285.5,449L1286.8,449.1L1288,449.1L1289.3,449.1L1290.5,449L1291.8,448.9L1293,448.7L1294.3,448.5L1295.5,448.3L1296.8,448L1298,447.7L1299.3,447.4L1300.5,447.1L1301.8,446.8L1303,446.4L1304.3,446.1L1305.5,445.8L1306.8,445.4L1308,445.1L1309.3,444.8L1310.5,444.5L1311.3,444.3" fill="none" stroke="#000" stroke-width="1.65" stroke-dasharray="7.2 3"/>
<path d="M801.8,445.5L803,444.1L804.3,442.3L805.5,440.6L806.8,439.2L808,437.9L809.3,436.8L810.5,435.9L811.8,435.2L813,434.6L814.3,434.1L815.5,433.6L816.8,433.3L818,433L819.3,432.8L820.5,432.6L821.8,432.4L823,432.1L824.3,431.8L825.5,431.4L826.8,430.8L828,430.1L829.3,429.4L830.5,428.5L831.8,427.6L833,426.7L834.3,425.9L835.5,425.1L836.8,424.4L838,423.9L839.3,423.6L840.5,423.5L841.8,423.7L843,424L844.3,424.4L845.5,424.7L846.8,424.7L848,424.3L849.3,423.5L850.5,422.5L851.8,421.2L853,419.8L854.3,418.6L855.5,417.7L856.8,417.4L858,418L859.3,419.4L860.5,422L861.8,425.8L863,431L864.3,437.8L865.5,446.4L866.8,456.7L868,468.6L869.3,481L870.5,492.5L871.8,502.5L873,511L874.3,518.3L875.5,524.2L876.8,528.3L878,529.6L879.3,527.9L880.5,523.1L881.8,515.8L883,506.4L884.3,495.9L885.5,485.2L886.8,475L888,466L889.3,458L890.5,451L891.8,444.6L893,439.1L894.3,434.5L895.5,431L896.8,428.4L898,426.7L899.3,425.6L900.5,424.8L901.8,424.1L903,423.4L904.3,422.6L905.5,421.9L906.8,421.2L908,420.6L909.3,420.3L910.5,420.3L911.8,420.5L913,421.2L914.3,422.1L915.5,423.4L916.8,424.8L918,426.4L919.3,428.2L920.5,429.9L921.8,431.6L923,433.2L924.3,434.5L925.5,435.7L926.8,436.6L928,437.4L929.3,438.1L930.5,438.8L931.8,439.5L933,440.1L934.3,440.7L935.5,441.3L936.8,441.8L938,442.3L939.3,442.8L940.5,443.2L941.8,443.6L943,444L944.3,444.5L945.5,445L946.8,445.6L948,446.2L949.3,447L950.5,447.9L951.8,448.9L953,450.1L954.3,451.4L955.5,452.8L956.8,454.3L958,455.8L959.3,457.4L960.5,458.7L961.8,459.6L963,460L964.3,459.7L965.5,458.7L966.8,457.2L968,455.2L969.3,452.8L970.5,450.1L971.8,446.9L973,443.2L974.3,439L975.5,434.4L976.8,429.7L978,425.1L979.3,420.8L980.5,417.3L981.8,414.6L983,413.3L984.3,413.5L985.5,415.6L986.8,419.5L988,425.4L989.3,433.1L990.5,442.1L991.8,452L993,462.3L994.3,472.8L995.5,483.1L996.8,492.9L998,502L999.3,509.9L1000.5,516.2L1001.8,520.5L1003,522.1L1004.3,520.8L1005.5,516.7L1006.8,510.4L1008,502.3L1009.3,492.9L1010.5,482.7L1011.8,472L1013,461.2L1014.3,450.6L1015.5,440.2L1016.8,430.3L1018,420.9L1019.3,412.2L1020.5,404.4L1021.8,397.6L1023,392.4L1024.3,388.8L1025.5,387L1026.8,386.9L1028,388.5L1029.3,391.8L1030.5,396.7L1031.8,402.8L1033,409.6L1034.3,416.6L1035.5,423.3L1036.8,429.3L1038,434.5L1039.3,439.2L1040.5,443.3L1041.8,447L1043,450.2L1044.3,452.8L1045.5,454.8L1046.8,456.4L1048,457.6L1049.3,458.7L1050.5,459.7L1051.8,460.5L1053,461L1054.3,461.3L1055.5,461.2L1056.8,460.9L1058,460.5L1059.3,460.2L1060.5,460L1061.8,460L1063,460.1L1064.3,460.2L1065.5,460.2L1066.8,460.1L1068,460L1069.3,459.8L1070.5,459.5L1071.8,459.1L1073,458.6L1074.3,457.9L1075.5,457L1076.8,456L1078,455.1L1079.3,454.2L1080.5,453.5L1081.8,453.2L1083,453.4L1084.3,454.1L1085.5,455.3L1086.8,456.8L1088,458.6L1089.3,460.6L1090.5,462.8L1091.8,465.2L1093,467.6L1094.3,470.1L1095.5,472.7L1096.8,475.4L1098,478L1099.3,480.6L1100.5,483L1101.8,485L1103,486.2L1104.3,486.4L1105.5,485.5L1106.8,483.7L1108,481L1109.3,477.9L1110.5,474.4L1111.8,470.6L1113,466.8L1114.3,462.9L1115.5,458.9L1116.8,454.9L1118,451L1119.3,447.2L1120.5,443.6L1121.8,440.2L1123,437.2L1124.3,434.5L1125.5,432.4L1126.8,430.7L1128,429.6L1129.3,429.1L1130.5,429.3L1131.8,430.1L1133,431.6L1134.3,433.7L1135.5,436.4L1136.8,439.6L1138,442.9L1139.3,446.4L1140.5,449.6L1141.8,452.5L1143,455.1L1144.3,457.4L1145.5,459.5L1146.8,461.3L1148,462.8L1149.3,463.7L1150.5,463.9L1151.8,463.3L1153,462L1154.3,460.1L1155.5,457.8L1156.8,455.4L1158,452.8L1159.3,450.2L1160.5,447.6L1161.8,444.8L1163,442L1164.3,439.2L1165.5,436.3L1166.8,433.5L1168,430.8L1169.3,428.2L1170.5,425.9L1171.8,423.8L1173,422.1L1174.3,420.7L1175.5,419.8L1176.8,419.3L1178,419.3L1179.3,419.7L1180.5,420.7L1181.8,422.1L1183,423.9L1184.3,426L1185.5,428.3L1186.8,430.7L1188,433.1L1189.3,435.2L1190.5,437.2L1191.8,438.9L1193,440.4L1194.3,441.8L1195.5,442.9L1196.8,443.7L1198,444.3L1199.3,444.5L1200.5,444.5L1201.8,444.3L1203,443.9L1204.3,443.5L1205.5,443L1206.8,442.5L1208,442.2L1209.3,441.9L1210.5,441.6L1211.8,441.3L1213,441L1214.3,440.7L1215.5,440.4L1216.8,440L1218,439.6L1219.3,439L1220.5,438.4L1221.8,437.6L1223,436.7L1224.3,435.7L1225.5,434.9L1226.8,434.2L1228,433.8L1229.3,433.8L1230.5,434.2L1231.8,435.2L1233,436.5L1234.3,438.2L1235.5,440.1L1236.8,441.9L1238,443.7L1239.3,445.1L1240.5,446.3L1241.8,447.3L1243,448.2L1244.3,449L1245.5,449.6L1246.8,450.3L1248,450.8L1249.3,451.1L1250.5,451.4L1251.8,451.5L1253,451.5L1254.3,451.4L1255.5,451.2L1256.8,451L1258,450.7L1259.3,450.5L1260.5,450.2L1261.8,450L1263,449.8L1264.3,449.6L1265.5,449.4L1266.8,449.3L1268,449.2L1269.3,449.1L1270.5,449.1L1271.8,449.1L1273,449.1L1274.3,449.2L1275.5,449.2L1276.8,449.3L1278,449.4L1279.3,449.5L1280.5,449.5L1281.8,449.6L1283,449.7L1284.3,449.7L1285.5,449.7L1286.8,449.7L1288,449.7L1289.3,449.6L1290.5,449.5L1291.8,449.3L1293,449.1L1294.3,448.9L1295.5,448.6L1296.8,448.3L1298,448L1299.3,447.7L1300.5,447.3L1301.8,447L1303,446.6L1304.3,446.3L1305.5,445.9L1306.8,445.6L1308,445.2L1309.3,444.8L1310.5,444.5L1311.3,444.3" fill="none" stroke="#000" stroke-width="1.75" stroke-linejoin="round" stroke-linecap="round"/>
<text transform="translate(97.7 547.7) rotate(-90) scale(0.898 1)" font-size="30" stroke="none" style="font-kerning:none">1481</text>
<text transform="translate(143.7 609) rotate(-90) scale(0.930 1)" font-size="30" stroke="none" style="font-kerning:none">1467</text>
<text transform="translate(192.5 589.3) rotate(-90) scale(0.920 1)" font-size="30" stroke="none" style="font-kerning:none">1453</text>
<text transform="translate(241.9 571.3) rotate(-90) scale(0.930 1)" font-size="30" stroke="none" style="font-kerning:none">1439</text>
<text transform="translate(369.9 577.4) rotate(-90) scale(0.892 1)" font-size="30" stroke="none" style="font-kerning:none">1401</text>
<text transform="translate(431.7 568.1) rotate(-90) scale(0.958 1)" font-size="30" stroke="none" style="font-kerning:none">1385</text>
<text transform="translate(859.8 540.6) rotate(-90) scale(0.937 1)" font-size="30" stroke="none" style="font-kerning:none">1173</text>
<text transform="translate(889.2 606.5) rotate(-90) scale(0.913 1)" font-size="30" stroke="none" style="font-kerning:none">1154</text>
<text transform="translate(945.9 549.4) rotate(-90) scale(0.979 1)" font-size="30" stroke="none" style="font-kerning:none">1119</text>
<text transform="translate(1014.3 604.9) rotate(-90) scale(0.912 1)" font-size="30" stroke="none" style="font-kerning:none">1080</text>
<text transform="translate(1073.7 568.6) rotate(-90) scale(0.937 1)" font-size="30" stroke="none" style="font-kerning:none">1043</text>
<text transform="translate(1111 588.7) rotate(-90) scale(0.935 1)" font-size="30" stroke="none" style="font-kerning:none">1025</text>
<defs><linearGradient id="ga" gradientUnits="userSpaceOnUse" x1="20" y1="0" x2="534" y2="0">
<stop offset="0.0000" stop-color="#555aa7"/>
<stop offset="0.0038" stop-color="#4471b2"/>
<stop offset="0.0077" stop-color="#397fb9"/>
<stop offset="0.0115" stop-color="#3288bd"/>
<stop offset="0.0154" stop-color="#348bbc"/>
<stop offset="0.0192" stop-color="#368dbb"/>
<stop offset="0.0231" stop-color="#378ebb"/>
<stop offset="0.0269" stop-color="#378ebb"/>
<stop offset="0.0308" stop-color="#368dbb"/>
<stop offset="0.0346" stop-color="#358bbc"/>
<stop offset="0.0385" stop-color="#3288bd"/>
<stop offset="0.0423" stop-color="#3782ba"/>
<stop offset="0.0462" stop-color="#4175b4"/>
<stop offset="0.0500" stop-color="#4b68ae"/>
<stop offset="0.0538" stop-color="#565aa7"/>
<stop offset="0.0577" stop-color="#5e4fa2"/>
<stop offset="0.0615" stop-color="#545ba8"/>
<stop offset="0.0654" stop-color="#3e78b5"/>
<stop offset="0.0692" stop-color="#368dbb"/>
<stop offset="0.0731" stop-color="#48a0b3"/>
<stop offset="0.0769" stop-color="#5cb7aa"/>
<stop offset="0.0808" stop-color="#76c8a5"/>
<stop offset="0.0846" stop-color="#90d3a4"/>
<stop offset="0.0885" stop-color="#a6dba4"/>
<stop offset="0.0923" stop-color="#b6e2a2"/>
<stop offset="0.0962" stop-color="#c5e79f"/>
<stop offset="0.1000" stop-color="#d1ec9c"/>
<stop offset="0.1038" stop-color="#dbf09a"/>
<stop offset="0.1077" stop-color="#e7f498"/>
<stop offset="0.1115" stop-color="#ecf095"/>
<stop offset="0.1154" stop-color="#f3ea91"/>
<stop offset="0.1192" stop-color="#f8e68e"/>
<stop offset="0.1231" stop-color="#fce28c"/>
<stop offset="0.1269" stop-color="#fee08b"/>
<stop offset="0.1308" stop-color="#feda86"/>
<stop offset="0.1346" stop-color="#fed683"/>
<stop offset="0.1385" stop-color="#fed783"/>
<stop offset="0.1423" stop-color="#fedc88"/>
<stop offset="0.1462" stop-color="#fde18c"/>
<stop offset="0.1500" stop-color="#f6e78f"/>
<stop offset="0.1538" stop-color="#eeee94"/>
<stop offset="0.1577" stop-color="#e5f598"/>
<stop offset="0.1615" stop-color="#c4e79f"/>
<stop offset="0.1654" stop-color="#9dd8a4"/>
<stop offset="0.1692" stop-color="#58b2ac"/>
<stop offset="0.1731" stop-color="#3c7ab7"/>
<stop offset="0.1769" stop-color="#3c7bb7"/>
<stop offset="0.1808" stop-color="#6dc5a5"/>
<stop offset="0.1846" stop-color="#e0f399"/>
<stop offset="0.1885" stop-color="#fde18c"/>
<stop offset="0.1923" stop-color="#fdaf62"/>
<stop offset="0.1962" stop-color="#f57346"/>
<stop offset="0.2000" stop-color="#df4e4b"/>
<stop offset="0.2038" stop-color="#d63f4f"/>
<stop offset="0.2077" stop-color="#d8424e"/>
<stop offset="0.2115" stop-color="#e35449"/>
<stop offset="0.2154" stop-color="#fa9656"/>
<stop offset="0.2192" stop-color="#feca78"/>
<stop offset="0.2231" stop-color="#f7e68f"/>
<stop offset="0.2269" stop-color="#dff299"/>
<stop offset="0.2308" stop-color="#69c3a5"/>
<stop offset="0.2346" stop-color="#3990ba"/>
<stop offset="0.2385" stop-color="#4198b6"/>
<stop offset="0.2423" stop-color="#77c9a5"/>
<stop offset="0.2462" stop-color="#b4e0a2"/>
<stop offset="0.2500" stop-color="#d5ee9b"/>
<stop offset="0.2538" stop-color="#e7f497"/>
<stop offset="0.2577" stop-color="#e6f598"/>
<stop offset="0.2615" stop-color="#d4ee9c"/>
<stop offset="0.2654" stop-color="#bde4a0"/>
<stop offset="0.2692" stop-color="#97d5a4"/>
<stop offset="0.2731" stop-color="#5fbaa8"/>
<stop offset="0.2769" stop-color="#3a7eb8"/>
<stop offset="0.2808" stop-color="#5956a5"/>
<stop offset="0.2846" stop-color="#3e78b5"/>
<stop offset="0.2885" stop-color="#51aaaf"/>
<stop offset="0.2923" stop-color="#90d3a4"/>
<stop offset="0.2962" stop-color="#c7e89e"/>
<stop offset="0.3000" stop-color="#e9f296"/>
<stop offset="0.3038" stop-color="#f3ea91"/>
<stop offset="0.3077" stop-color="#fce18c"/>
<stop offset="0.3115" stop-color="#fbe28c"/>
<stop offset="0.3154" stop-color="#f2eb92"/>
<stop offset="0.3192" stop-color="#e8f397"/>
<stop offset="0.3231" stop-color="#c7e99e"/>
<stop offset="0.3269" stop-color="#9cd7a4"/>
<stop offset="0.3308" stop-color="#56b0ac"/>
<stop offset="0.3346" stop-color="#3b7cb7"/>
<stop offset="0.3385" stop-color="#555ba7"/>
<stop offset="0.3423" stop-color="#5d51a3"/>
<stop offset="0.3462" stop-color="#5d50a3"/>
<stop offset="0.3500" stop-color="#565aa7"/>
<stop offset="0.3538" stop-color="#466eb1"/>
<stop offset="0.3577" stop-color="#3387bc"/>
<stop offset="0.3615" stop-color="#4199b6"/>
<stop offset="0.3654" stop-color="#4fa8b0"/>
<stop offset="0.3692" stop-color="#5bb6aa"/>
<stop offset="0.3731" stop-color="#67c2a5"/>
<stop offset="0.3769" stop-color="#73c7a5"/>
<stop offset="0.3808" stop-color="#7ccba5"/>
<stop offset="0.3846" stop-color="#81cda5"/>
<stop offset="0.3885" stop-color="#80cca5"/>
<stop offset="0.3923" stop-color="#79caa5"/>
<stop offset="0.3962" stop-color="#70c6a5"/>
<stop offset="0.4000" stop-color="#5fbaa8"/>
<stop offset="0.4038" stop-color="#4ba4b1"/>
<stop offset="0.4077" stop-color="#3288bd"/>
<stop offset="0.4115" stop-color="#496aaf"/>
<stop offset="0.4154" stop-color="#565aa7"/>
<stop offset="0.4192" stop-color="#5e50a2"/>
<stop offset="0.4231" stop-color="#5956a5"/>
<stop offset="0.4269" stop-color="#4b68ae"/>
<stop offset="0.4308" stop-color="#4273b3"/>
<stop offset="0.4346" stop-color="#3b7cb7"/>
<stop offset="0.4385" stop-color="#3485bc"/>
<stop offset="0.4423" stop-color="#398fba"/>
<stop offset="0.4462" stop-color="#439ab5"/>
<stop offset="0.4500" stop-color="#4da6b1"/>
<stop offset="0.4538" stop-color="#58b2ab"/>
<stop offset="0.4577" stop-color="#64c0a6"/>
<stop offset="0.4615" stop-color="#75c8a5"/>
<stop offset="0.4654" stop-color="#84cea5"/>
<stop offset="0.4692" stop-color="#8fd2a4"/>
<stop offset="0.4731" stop-color="#99d6a4"/>
<stop offset="0.4769" stop-color="#9dd8a4"/>
<stop offset="0.4808" stop-color="#98d6a4"/>
<stop offset="0.4846" stop-color="#8dd1a4"/>
<stop offset="0.4885" stop-color="#81cda5"/>
<stop offset="0.4923" stop-color="#74c7a5"/>
<stop offset="0.4962" stop-color="#65c0a6"/>
<stop offset="0.5000" stop-color="#58b2ac"/>
<stop offset="0.5038" stop-color="#4ba4b2"/>
<stop offset="0.5077" stop-color="#3d94b8"/>
<stop offset="0.5115" stop-color="#3584bb"/>
<stop offset="0.5154" stop-color="#4076b4"/>
<stop offset="0.5192" stop-color="#4d66ad"/>
<stop offset="0.5231" stop-color="#5759a7"/>
<stop offset="0.5269" stop-color="#5b53a4"/>
<stop offset="0.5308" stop-color="#5d50a3"/>
<stop offset="0.5346" stop-color="#5e4fa2"/>
<stop offset="0.5385" stop-color="#5d50a2"/>
<stop offset="0.5423" stop-color="#5b52a4"/>
<stop offset="0.5462" stop-color="#5759a7"/>
<stop offset="0.5500" stop-color="#4470b2"/>
<stop offset="0.5538" stop-color="#3880b9"/>
<stop offset="0.5577" stop-color="#3288bd"/>
<stop offset="0.5615" stop-color="#378dbb"/>
<stop offset="0.5654" stop-color="#368cbb"/>
<stop offset="0.5692" stop-color="#3585bb"/>
<stop offset="0.5731" stop-color="#3d79b6"/>
<stop offset="0.5769" stop-color="#4a68ae"/>
<stop offset="0.5808" stop-color="#5956a5"/>
<stop offset="0.5846" stop-color="#5160aa"/>
<stop offset="0.5885" stop-color="#3880b9"/>
<stop offset="0.5923" stop-color="#449db5"/>
<stop offset="0.5962" stop-color="#5ebaa8"/>
<stop offset="0.6000" stop-color="#80cca5"/>
<stop offset="0.6038" stop-color="#a3daa4"/>
<stop offset="0.6077" stop-color="#b9e3a1"/>
<stop offset="0.6115" stop-color="#cdeb9d"/>
<stop offset="0.6154" stop-color="#dbf19a"/>
<stop offset="0.6192" stop-color="#e0f399"/>
<stop offset="0.6231" stop-color="#d6ef9b"/>
<stop offset="0.6269" stop-color="#c7e99e"/>
<stop offset="0.6308" stop-color="#bbe4a1"/>
<stop offset="0.6346" stop-color="#b0dfa3"/>
<stop offset="0.6385" stop-color="#abdda4"/>
<stop offset="0.6423" stop-color="#b1dfa3"/>
<stop offset="0.6462" stop-color="#bde4a0"/>
<stop offset="0.6500" stop-color="#caea9e"/>
<stop offset="0.6538" stop-color="#dcf19a"/>
<stop offset="0.6577" stop-color="#e9f397"/>
<stop offset="0.6615" stop-color="#f0ec92"/>
<stop offset="0.6654" stop-color="#f8e58e"/>
<stop offset="0.6692" stop-color="#fde18c"/>
<stop offset="0.6731" stop-color="#fedb87"/>
<stop offset="0.6769" stop-color="#fde18c"/>
<stop offset="0.6808" stop-color="#f8e58e"/>
<stop offset="0.6846" stop-color="#f2ea91"/>
<stop offset="0.6885" stop-color="#eaf196"/>
<stop offset="0.6923" stop-color="#d6ef9b"/>
<stop offset="0.6962" stop-color="#afdfa3"/>
<stop offset="0.7000" stop-color="#6fc5a5"/>
<stop offset="0.7038" stop-color="#3f97b7"/>
<stop offset="0.7077" stop-color="#397fb9"/>
<stop offset="0.7115" stop-color="#63bea7"/>
<stop offset="0.7154" stop-color="#edef94"/>
<stop offset="0.7192" stop-color="#fecd7b"/>
<stop offset="0.7231" stop-color="#f7844e"/>
<stop offset="0.7269" stop-color="#d9454d"/>
<stop offset="0.7308" stop-color="#b91f48"/>
<stop offset="0.7346" stop-color="#a10443"/>
<stop offset="0.7385" stop-color="#a20643"/>
<stop offset="0.7423" stop-color="#bb2149"/>
<stop offset="0.7462" stop-color="#dc484c"/>
<stop offset="0.7500" stop-color="#f88d52"/>
<stop offset="0.7538" stop-color="#fecc7a"/>
<stop offset="0.7577" stop-color="#f3e991"/>
<stop offset="0.7615" stop-color="#d8ef9b"/>
<stop offset="0.7654" stop-color="#99d6a4"/>
<stop offset="0.7692" stop-color="#4097b7"/>
<stop offset="0.7731" stop-color="#4f62ab"/>
<stop offset="0.7769" stop-color="#5a54a4"/>
<stop offset="0.7808" stop-color="#5e4fa2"/>
<stop offset="0.7846" stop-color="#5c52a3"/>
<stop offset="0.7885" stop-color="#545da8"/>
<stop offset="0.7923" stop-color="#3b7cb7"/>
<stop offset="0.7962" stop-color="#4098b6"/>
<stop offset="0.8000" stop-color="#55afad"/>
<stop offset="0.8038" stop-color="#65c1a6"/>
<stop offset="0.8077" stop-color="#77c9a5"/>
<stop offset="0.8115" stop-color="#81cda5"/>
<stop offset="0.8154" stop-color="#7dcba5"/>
<stop offset="0.8192" stop-color="#6dc5a5"/>
<stop offset="0.8231" stop-color="#5bb6aa"/>
<stop offset="0.8269" stop-color="#3c93b8"/>
<stop offset="0.8308" stop-color="#4273b3"/>
<stop offset="0.8346" stop-color="#3585bb"/>
<stop offset="0.8385" stop-color="#53adae"/>
<stop offset="0.8423" stop-color="#73c7a5"/>
<stop offset="0.8462" stop-color="#8cd1a4"/>
<stop offset="0.8500" stop-color="#9cd7a4"/>
<stop offset="0.8538" stop-color="#97d5a4"/>
<stop offset="0.8577" stop-color="#83cda5"/>
<stop offset="0.8615" stop-color="#65c1a5"/>
<stop offset="0.8654" stop-color="#479fb3"/>
<stop offset="0.8692" stop-color="#4077b5"/>
<stop offset="0.8731" stop-color="#397fb9"/>
<stop offset="0.8769" stop-color="#4aa2b2"/>
<stop offset="0.8808" stop-color="#60bca8"/>
<stop offset="0.8846" stop-color="#73c7a5"/>
<stop offset="0.8885" stop-color="#80cca5"/>
<stop offset="0.8923" stop-color="#7ecca5"/>
<stop offset="0.8962" stop-color="#70c6a5"/>
<stop offset="0.9000" stop-color="#5eb9a9"/>
<stop offset="0.9038" stop-color="#479fb3"/>
<stop offset="0.9077" stop-color="#3b7cb7"/>
<stop offset="0.9115" stop-color="#466eb1"/>
<stop offset="0.9154" stop-color="#3b93b9"/>
<stop offset="0.9192" stop-color="#4ea7b0"/>
<stop offset="0.9231" stop-color="#58b3ab"/>
<stop offset="0.9269" stop-color="#5fbba8"/>
<stop offset="0.9308" stop-color="#60bba8"/>
<stop offset="0.9346" stop-color="#59b4ab"/>
<stop offset="0.9385" stop-color="#4da6b1"/>
<stop offset="0.9423" stop-color="#398fba"/>
<stop offset="0.9462" stop-color="#3f77b5"/>
<stop offset="0.9500" stop-color="#515faa"/>
<stop offset="0.9538" stop-color="#5a54a5"/>
<stop offset="0.9577" stop-color="#5e4fa2"/>
<stop offset="0.9615" stop-color="#5b52a4"/>
<stop offset="0.9654" stop-color="#545ca8"/>
<stop offset="0.9692" stop-color="#3d7ab6"/>
<stop offset="0.9731" stop-color="#3485bc"/>
<stop offset="0.9769" stop-color="#358bbc"/>
<stop offset="0.9808" stop-color="#378ebb"/>
<stop offset="0.9846" stop-color="#358cbc"/>
<stop offset="0.9885" stop-color="#3288bd"/>
<stop offset="0.9923" stop-color="#3584bb"/>
<stop offset="0.9962" stop-color="#3880b9"/>
<stop offset="1.0000" stop-color="#3b7db8"/>
</linearGradient></defs>
<polygon points="20,637.2 21,637 22,636.8 23,636.6 24,636.4 25,636.3 26,636.2 27,636.2 28,636.1 29,636.1 30,636.1 31,636 32,636 33,636 34,636 35,636 36,636.1 37,636.2 38,636.2 39,636.3 40,636.4 41,636.5 42,636.6 43,636.8 44,636.9 45,637.1 46,637.2 47,637.4 48,637.6 49,637.7 50,637.8 51,637.7 52,637.5 53,637.2 54,637 55,636.8 56,636.5 57,636.2 58,636 59,635.8 60,635.5 61,635.3 62,635.1 63,634.9 64,634.8 65,634.6 66,634.5 67,634.3 68,634.2 69,634.1 70,634 71,633.9 72,633.8 73,633.7 74,633.7 75,633.6 76,633.5 77,633.5 78,633.4 79,633.4 80,633.3 81,633.2 82,633.2 83,633.1 84,633.1 85,633.1 86,633.1 87,633 88,633 89,633 90,633 91,633 92,633 93,633.1 94,633.1 95,633.2 96,633.3 97,633.4 98,633.5 99,633.6 100,633.8 101,634 102,634.2 103,634.6 104,634.9 105,635.2 106,635.7 107,636.1 108,636.5 109,636.8 110,637 111,636.8 112,636.3 113,635.7 114,635.1 115,634.5 116,633.8 117,633.2 118,632.9 119,632.6 120,632.2 121,631.9 122,631.6 123,631.4 124,631.3 125,631.3 126,631.3 127,631.3 128,631.4 129,631.6 130,631.9 131,632.2 132,632.6 133,633.1 134,633.5 135,633.9 136,634.3 137,634.7 138,635.1 139,635.5 140,636 141,636.4 142,636.4 143,636.1 144,635.8 145,635.3 146,634.9 147,634.5 148,634.2 149,634 150,633.8 151,633.8 152,633.8 153,633.9 154,634.1 155,634.2 156,634.5 157,634.8 158,635.1 159,635.5 160,635.9 161,636.3 162,636.8 163,637.3 164,637.6 165,637.5 166,637.3 167,637 168,636.6 169,636 170,635.5 171,635 172,634.6 173,634.2 174,633.8 175,633.6 176,633.4 177,633.2 178,633.1 179,633 180,633.1 181,633.2 182,633.4 183,633.6 184,633.8 185,634.2 186,634.5 187,634.9 188,635.2 189,635.6 190,636.1 191,636.5 192,637.1 193,637.6 194,638 195,638.1 196,638.2 197,638.2 198,638.2 199,638.2 200,638.1 201,637.9 202,637.6 203,637.3 204,637 205,636.7 206,636.5 207,636.2 208,636 209,635.9 210,635.7 211,635.6 212,635.5 213,635.4 214,635.4 215,635.3 216,635.3 217,635.3 218,635.2 219,635.3 220,635.3 221,635.4 222,635.4 223,635.5 224,635.6 225,635.8 226,636 227,636.2 228,636.5 229,636.8 230,637.2 231,637.6 232,638 233,638.4 234,638.8 235,639.1 236,639.2 237,639.1 238,638.9 239,638.5 240,638.2 241,638 242,637.7 243,637.5 244,637.2 245,637 246,636.8 247,636.5 248,636.3 249,636.1 250,636 251,635.8 252,635.6 253,635.5 254,635.4 255,635.3 256,635.2 257,635.1 258,635 259,635 260,634.9 261,634.9 262,634.8 263,634.8 264,634.8 265,634.8 266,634.8 267,634.8 268,634.8 269,634.9 270,634.9 271,635 272,635.1 273,635.2 274,635.2 275,635.4 276,635.5 277,635.6 278,635.8 279,635.9 280,636.1 281,636.3 282,636.5 283,636.8 284,637 285,637.3 286,637.6 287,637.9 288,638.1 289,638.4 290,638.5 291,638.6 292,638.6 293,638.7 294,638.7 295,638.8 296,638.7 297,638.7 298,638.7 299,638.7 300,638.6 301,638.4 302,638 303,637.6 304,637.2 305,637.1 306,636.9 307,636.7 308,636.6 309,636.5 310,636.5 311,636.6 312,636.7 313,636.9 314,637.1 315,637.2 316,637.5 317,637.8 318,638.1 319,638.2 320,638.1 321,637.8 322,637.4 323,637 324,636.7 325,636.4 326,636 327,635.8 328,635.5 329,635.2 330,634.9 331,634.8 332,634.6 333,634.5 334,634.4 335,634.4 336,634.3 337,634.3 338,634.2 339,634.3 340,634.3 341,634.3 342,634.3 343,634.4 344,634.4 345,634.4 346,634.5 347,634.5 348,634.5 349,634.5 350,634.4 351,634.4 352,634.3 353,634.2 354,634.2 355,634.1 356,634 357,633.9 358,633.8 359,633.7 360,633.6 361,633.5 362,633.4 363,633.3 364,633.3 365,633.3 366,633.2 367,633.3 368,633.3 369,633.3 370,633.4 371,633.5 372,633.6 373,633.7 374,633.8 375,634 376,634.2 377,634.5 378,634.8 379,635 380,635.3 381,635.5 382,635.8 383,636 384,636.2 385,636.1 386,635.4 387,634.6 388,633.8 389,633.2 390,632.7 391,632.2 392,631.9 393,631.6 394,631.4 395,631.3 396,631.1 397,631.1 398,631 399,631 400,631.1 401,631.1 402,631.3 403,631.4 404,631.6 405,631.9 406,632.2 407,632.6 408,633 409,633.4 410,633.8 411,634.2 412,634.8 413,635.5 414,636.1 415,636.7 416,637.3 417,637.9 418,638.2 419,638.4 420,638.6 421,638.7 422,638.8 423,638.7 424,638.6 425,638.5 426,638.2 427,637.7 428,637.2 429,636.9 430,636.5 431,636.2 432,636 433,635.8 434,635.7 435,635.5 436,635.4 437,635.4 438,635.4 439,635.4 440,635.6 441,635.7 442,635.9 443,636.1 444,636.4 445,636.7 446,637 447,637.2 448,637.2 449,636.9 450,636.4 451,636.1 452,635.7 453,635.3 454,635.1 455,635 456,634.8 457,634.8 458,634.8 459,634.8 460,635 461,635.1 462,635.3 463,635.7 464,636.1 465,636.4 466,636.9 467,637.2 468,637.2 469,636.9 470,636.5 471,636.2 472,635.9 473,635.7 474,635.5 475,635.4 476,635.3 477,635.3 478,635.3 479,635.3 480,635.4 481,635.5 482,635.7 483,635.9 484,636.2 485,636.5 486,636.9 487,637.3 488,637.5 489,637.3 490,636.9 491,636.5 492,636.2 493,635.9 494,635.8 495,635.6 496,635.6 497,635.5 498,635.5 499,635.6 500,635.6 501,635.8 502,635.9 503,636.1 504,636.4 505,636.8 506,637.2 507,637.7 508,638.2 509,638.5 510,638.6 511,638.7 512,638.7 513,638.7 514,638.7 515,638.6 516,638.5 517,638.1 518,637.5 519,637.1 520,636.7 521,636.5 522,636.4 523,636.3 524,636.2 525,636.3 526,636.3 527,636.4 528,636.5 529,636.6 530,636.7 531,636.9 532,636.9 533,637 534,637 534,644 533,644 532,644.1 531,644.1 530,644.3 529,644.4 528,644.5 527,644.6 526,644.7 525,644.7 524,644.8 523,644.7 522,644.6 521,644.5 520,644.3 519,643.9 518,643.5 517,642.9 516,642.5 515,642.4 514,642.3 513,642.3 512,642.3 511,642.3 510,642.4 509,642.5 508,642.8 507,643.3 506,643.8 505,644.2 504,644.6 503,644.9 502,645.1 501,645.2 500,645.4 499,645.4 498,645.5 497,645.5 496,645.4 495,645.4 494,645.2 493,645.1 492,644.8 491,644.5 490,644.1 489,643.7 488,643.5 487,643.7 486,644.1 485,644.5 484,644.8 483,645.1 482,645.3 481,645.5 480,645.6 479,645.7 478,645.7 477,645.7 476,645.7 475,645.6 474,645.5 473,645.3 472,645.1 471,644.8 470,644.5 469,644.1 468,643.8 467,643.8 466,644.1 465,644.6 464,644.9 463,645.3 462,645.7 461,645.9 460,646 459,646.2 458,646.2 457,646.2 456,646.2 455,646 454,645.9 453,645.7 452,645.3 451,644.9 450,644.6 449,644.1 448,643.8 447,643.8 446,644 445,644.3 444,644.6 443,644.9 442,645.1 441,645.3 440,645.4 439,645.6 438,645.6 437,645.6 436,645.6 435,645.5 434,645.3 433,645.2 432,645 431,644.8 430,644.5 429,644.1 428,643.8 427,643.3 426,642.8 425,642.5 424,642.4 423,642.3 422,642.2 421,642.3 420,642.4 419,642.6 418,642.8 417,643.1 416,643.7 415,644.3 414,644.9 413,645.5 412,646.2 411,646.8 410,647.2 409,647.6 408,648 407,648.4 406,648.8 405,649.1 404,649.4 403,649.6 402,649.7 401,649.9 400,649.9 399,650 398,650 397,649.9 396,649.9 395,649.7 394,649.6 393,649.4 392,649.1 391,648.8 390,648.3 389,647.8 388,647.2 387,646.4 386,645.6 385,644.9 384,644.8 383,645 382,645.2 381,645.5 380,645.7 379,646 378,646.2 377,646.5 376,646.8 375,647 374,647.2 373,647.3 372,647.4 371,647.5 370,647.6 369,647.7 368,647.7 367,647.7 366,647.8 365,647.7 364,647.7 363,647.7 362,647.6 361,647.5 360,647.4 359,647.3 358,647.2 357,647.1 356,647 355,646.9 354,646.8 353,646.8 352,646.7 351,646.6 350,646.6 349,646.5 348,646.5 347,646.5 346,646.5 345,646.6 344,646.6 343,646.6 342,646.7 341,646.7 340,646.7 339,646.7 338,646.8 337,646.7 336,646.7 335,646.6 334,646.6 333,646.5 332,646.4 331,646.2 330,646.1 329,645.8 328,645.5 327,645.2 326,645 325,644.6 324,644.3 323,644 322,643.6 321,643.2 320,642.9 319,642.8 318,642.9 317,643.2 316,643.5 315,643.8 314,643.9 313,644.1 312,644.3 311,644.4 310,644.5 309,644.5 308,644.4 307,644.3 306,644.1 305,643.9 304,643.8 303,643.4 302,643 301,642.6 300,642.4 299,642.3 298,642.3 297,642.3 296,642.3 295,642.2 294,642.3 293,642.3 292,642.4 291,642.4 290,642.5 289,642.6 288,642.9 287,643.1 286,643.4 285,643.7 284,644 283,644.2 282,644.5 281,644.7 280,644.9 279,645.1 278,645.2 277,645.4 276,645.5 275,645.6 274,645.8 273,645.8 272,645.9 271,646 270,646.1 269,646.1 268,646.2 267,646.2 266,646.2 265,646.2 264,646.2 263,646.2 262,646.2 261,646.1 260,646.1 259,646 258,646 257,645.9 256,645.8 255,645.7 254,645.6 253,645.5 252,645.4 251,645.2 250,645 249,644.9 248,644.7 247,644.5 246,644.2 245,644 244,643.8 243,643.5 242,643.3 241,643 240,642.8 239,642.5 238,642.1 237,641.9 236,641.8 235,641.9 234,642.2 233,642.6 232,643 231,643.4 230,643.8 229,644.2 228,644.5 227,644.8 226,645 225,645.2 224,645.4 223,645.5 222,645.6 221,645.6 220,645.7 219,645.7 218,645.8 217,645.7 216,645.7 215,645.7 214,645.6 213,645.6 212,645.5 211,645.4 210,645.3 209,645.1 208,645 207,644.8 206,644.5 205,644.3 204,644 203,643.7 202,643.4 201,643.1 200,642.9 199,642.8 198,642.8 197,642.8 196,642.8 195,642.9 194,643 193,643.4 192,643.9 191,644.5 190,644.9 189,645.4 188,645.8 187,646.1 186,646.5 185,646.8 184,647.2 183,647.4 182,647.6 181,647.8 180,647.9 179,648 178,647.9 177,647.8 176,647.6 175,647.4 174,647.2 173,646.8 172,646.4 171,646 170,645.5 169,645 168,644.4 167,644 166,643.7 165,643.5 164,643.4 163,643.7 162,644.2 161,644.7 160,645.1 159,645.5 158,645.9 157,646.2 156,646.5 155,646.8 154,646.9 153,647.1 152,647.2 151,647.2 150,647.2 149,647 148,646.8 147,646.5 146,646.1 145,645.7 144,645.2 143,644.9 142,644.6 141,644.6 140,645 139,645.5 138,645.9 137,646.3 136,646.7 135,647.1 134,647.5 133,647.9 132,648.4 131,648.8 130,649.1 129,649.4 128,649.6 127,649.7 126,649.7 125,649.7 124,649.7 123,649.6 122,649.4 121,649.1 120,648.8 119,648.4 118,648.1 117,647.8 116,647.2 115,646.5 114,645.9 113,645.3 112,644.7 111,644.2 110,644 109,644.2 108,644.5 107,644.9 106,645.3 105,645.8 104,646.1 103,646.4 102,646.8 101,647 100,647.2 99,647.4 98,647.5 97,647.6 96,647.7 95,647.8 94,647.9 93,647.9 92,648 91,648 90,648 89,648 88,648 87,648 86,647.9 85,647.9 84,647.9 83,647.9 82,647.8 81,647.8 80,647.7 79,647.6 78,647.6 77,647.5 76,647.5 75,647.4 74,647.3 73,647.3 72,647.2 71,647.1 70,647 69,646.9 68,646.8 67,646.7 66,646.5 65,646.4 64,646.2 63,646.1 62,645.9 61,645.7 60,645.5 59,645.2 58,645 57,644.8 56,644.5 55,644.2 54,644 53,643.8 52,643.5 51,643.3 50,643.2 49,643.3 48,643.4 47,643.6 46,643.8 45,643.9 44,644.1 43,644.2 42,644.4 41,644.5 40,644.6 39,644.7 38,644.8 37,644.8 36,644.9 35,645 34,645 33,645 32,645 31,645 30,644.9 29,644.9 28,644.9 27,644.8 26,644.8 25,644.7 24,644.6 23,644.4 22,644.2 21,644 20,643.8" fill="url(#ga)"/>
<defs><linearGradient id="gb" gradientUnits="userSpaceOnUse" x1="802" y1="0" x2="1312" y2="0">
<stop offset="0.0000" stop-color="#3682ba"/>
<stop offset="0.0038" stop-color="#3682ba"/>
<stop offset="0.0077" stop-color="#3682ba"/>
<stop offset="0.0115" stop-color="#3881ba"/>
<stop offset="0.0154" stop-color="#3b7db8"/>
<stop offset="0.0192" stop-color="#4273b3"/>
<stop offset="0.0231" stop-color="#4e64ac"/>
<stop offset="0.0269" stop-color="#5c52a3"/>
<stop offset="0.0308" stop-color="#565aa7"/>
<stop offset="0.0346" stop-color="#3e79b6"/>
<stop offset="0.0385" stop-color="#368cbb"/>
<stop offset="0.0423" stop-color="#47a0b3"/>
<stop offset="0.0462" stop-color="#5bb6aa"/>
<stop offset="0.0500" stop-color="#6fc6a5"/>
<stop offset="0.0538" stop-color="#80cca5"/>
<stop offset="0.0577" stop-color="#8fd2a4"/>
<stop offset="0.0615" stop-color="#9ad6a4"/>
<stop offset="0.0654" stop-color="#9dd8a4"/>
<stop offset="0.0692" stop-color="#9bd7a4"/>
<stop offset="0.0731" stop-color="#97d5a4"/>
<stop offset="0.0769" stop-color="#91d3a4"/>
<stop offset="0.0808" stop-color="#8bd1a4"/>
<stop offset="0.0846" stop-color="#81cda5"/>
<stop offset="0.0885" stop-color="#78c9a5"/>
<stop offset="0.0923" stop-color="#74c7a5"/>
<stop offset="0.0962" stop-color="#77c9a5"/>
<stop offset="0.1000" stop-color="#7ecca5"/>
<stop offset="0.1038" stop-color="#85cea5"/>
<stop offset="0.1077" stop-color="#8cd1a4"/>
<stop offset="0.1115" stop-color="#8fd2a4"/>
<stop offset="0.1154" stop-color="#87cfa5"/>
<stop offset="0.1192" stop-color="#6dc5a5"/>
<stop offset="0.1231" stop-color="#378ebb"/>
<stop offset="0.1269" stop-color="#51abaf"/>
<stop offset="0.1308" stop-color="#eeee94"/>
<stop offset="0.1346" stop-color="#fdbd6e"/>
<stop offset="0.1385" stop-color="#eb5f47"/>
<stop offset="0.1423" stop-color="#c62e4c"/>
<stop offset="0.1462" stop-color="#a30743"/>
<stop offset="0.1500" stop-color="#a40743"/>
<stop offset="0.1538" stop-color="#c72f4c"/>
<stop offset="0.1577" stop-color="#ec6246"/>
<stop offset="0.1615" stop-color="#fdbc6d"/>
<stop offset="0.1654" stop-color="#f5e890"/>
<stop offset="0.1692" stop-color="#dbf09a"/>
<stop offset="0.1731" stop-color="#8ed2a4"/>
<stop offset="0.1769" stop-color="#397fb9"/>
<stop offset="0.1808" stop-color="#5e4fa2"/>
<stop offset="0.1846" stop-color="#4e64ac"/>
<stop offset="0.1885" stop-color="#456fb1"/>
<stop offset="0.1923" stop-color="#4274b3"/>
<stop offset="0.1962" stop-color="#3f77b5"/>
<stop offset="0.2000" stop-color="#3e79b6"/>
<stop offset="0.2038" stop-color="#3c7ab7"/>
<stop offset="0.2077" stop-color="#3b7cb8"/>
<stop offset="0.2115" stop-color="#3980b9"/>
<stop offset="0.2154" stop-color="#3584bb"/>
<stop offset="0.2192" stop-color="#368dbb"/>
<stop offset="0.2231" stop-color="#4aa2b2"/>
<stop offset="0.2269" stop-color="#5db8a9"/>
<stop offset="0.2308" stop-color="#75c8a5"/>
<stop offset="0.2346" stop-color="#86cfa5"/>
<stop offset="0.2385" stop-color="#93d4a4"/>
<stop offset="0.2423" stop-color="#96d5a4"/>
<stop offset="0.2462" stop-color="#92d3a4"/>
<stop offset="0.2500" stop-color="#8ad0a4"/>
<stop offset="0.2538" stop-color="#81cda5"/>
<stop offset="0.2577" stop-color="#74c7a5"/>
<stop offset="0.2615" stop-color="#63bfa6"/>
<stop offset="0.2654" stop-color="#50aaaf"/>
<stop offset="0.2692" stop-color="#388fba"/>
<stop offset="0.2731" stop-color="#496baf"/>
<stop offset="0.2769" stop-color="#5b53a4"/>
<stop offset="0.2808" stop-color="#5758a6"/>
<stop offset="0.2846" stop-color="#4273b3"/>
<stop offset="0.2885" stop-color="#3485bc"/>
<stop offset="0.2923" stop-color="#3d94b8"/>
<stop offset="0.2962" stop-color="#459eb4"/>
<stop offset="0.3000" stop-color="#4ca5b1"/>
<stop offset="0.3038" stop-color="#53acae"/>
<stop offset="0.3077" stop-color="#56b1ac"/>
<stop offset="0.3115" stop-color="#51abae"/>
<stop offset="0.3154" stop-color="#48a0b3"/>
<stop offset="0.3192" stop-color="#3a91b9"/>
<stop offset="0.3231" stop-color="#3389bd"/>
<stop offset="0.3269" stop-color="#49a2b2"/>
<stop offset="0.3308" stop-color="#5fbaa8"/>
<stop offset="0.3346" stop-color="#65c1a5"/>
<stop offset="0.3385" stop-color="#59b4ab"/>
<stop offset="0.3423" stop-color="#4199b6"/>
<stop offset="0.3462" stop-color="#4372b3"/>
<stop offset="0.3500" stop-color="#4198b6"/>
<stop offset="0.3538" stop-color="#addea4"/>
<stop offset="0.3577" stop-color="#e2f499"/>
<stop offset="0.3615" stop-color="#f4e990"/>
<stop offset="0.3654" stop-color="#fdc574"/>
<stop offset="0.3692" stop-color="#fba15b"/>
<stop offset="0.3731" stop-color="#fba15b"/>
<stop offset="0.3769" stop-color="#fed380"/>
<stop offset="0.3808" stop-color="#93d4a4"/>
<stop offset="0.3846" stop-color="#5cb7a9"/>
<stop offset="0.3885" stop-color="#fae38d"/>
<stop offset="0.3923" stop-color="#f26a44"/>
<stop offset="0.3962" stop-color="#c42b4b"/>
<stop offset="0.4000" stop-color="#a00443"/>
<stop offset="0.4038" stop-color="#ae1346"/>
<stop offset="0.4077" stop-color="#db474d"/>
<stop offset="0.4115" stop-color="#fdae61"/>
<stop offset="0.4154" stop-color="#eaf196"/>
<stop offset="0.4192" stop-color="#aedea3"/>
<stop offset="0.4231" stop-color="#9ad6a4"/>
<stop offset="0.4269" stop-color="#3288bd"/>
<stop offset="0.4308" stop-color="#515faa"/>
<stop offset="0.4346" stop-color="#3f77b5"/>
<stop offset="0.4385" stop-color="#3682ba"/>
<stop offset="0.4423" stop-color="#4175b4"/>
<stop offset="0.4462" stop-color="#5061ab"/>
<stop offset="0.4500" stop-color="#5b53a4"/>
<stop offset="0.4538" stop-color="#5d51a3"/>
<stop offset="0.4577" stop-color="#5659a7"/>
<stop offset="0.4615" stop-color="#5e50a2"/>
<stop offset="0.4654" stop-color="#525faa"/>
<stop offset="0.4692" stop-color="#388fba"/>
<stop offset="0.4731" stop-color="#59b4ab"/>
<stop offset="0.4769" stop-color="#66c2a5"/>
<stop offset="0.4808" stop-color="#5cb7a9"/>
<stop offset="0.4846" stop-color="#4aa3b2"/>
<stop offset="0.4885" stop-color="#3386bc"/>
<stop offset="0.4923" stop-color="#4c66ad"/>
<stop offset="0.4962" stop-color="#5061aa"/>
<stop offset="0.5000" stop-color="#4ca5b1"/>
<stop offset="0.5038" stop-color="#8ad0a4"/>
<stop offset="0.5077" stop-color="#c8e99e"/>
<stop offset="0.5115" stop-color="#ebf095"/>
<stop offset="0.5154" stop-color="#f6e78f"/>
<stop offset="0.5192" stop-color="#fed783"/>
<stop offset="0.5231" stop-color="#fbe28c"/>
<stop offset="0.5269" stop-color="#f0ec93"/>
<stop offset="0.5308" stop-color="#cdeb9d"/>
<stop offset="0.5346" stop-color="#6bc4a5"/>
<stop offset="0.5385" stop-color="#5856a6"/>
<stop offset="0.5423" stop-color="#4076b4"/>
<stop offset="0.5462" stop-color="#52abae"/>
<stop offset="0.5500" stop-color="#78c9a5"/>
<stop offset="0.5538" stop-color="#9ad6a4"/>
<stop offset="0.5577" stop-color="#b0dfa3"/>
<stop offset="0.5615" stop-color="#bbe3a1"/>
<stop offset="0.5654" stop-color="#bbe4a1"/>
<stop offset="0.5692" stop-color="#b0dfa3"/>
<stop offset="0.5731" stop-color="#9bd7a4"/>
<stop offset="0.5769" stop-color="#76c8a5"/>
<stop offset="0.5808" stop-color="#52abae"/>
<stop offset="0.5846" stop-color="#3683bb"/>
<stop offset="0.5885" stop-color="#535da9"/>
<stop offset="0.5923" stop-color="#5b53a4"/>
<stop offset="0.5962" stop-color="#397fb9"/>
<stop offset="0.6000" stop-color="#4aa3b2"/>
<stop offset="0.6038" stop-color="#66c2a5"/>
<stop offset="0.6077" stop-color="#81cda5"/>
<stop offset="0.6115" stop-color="#95d5a4"/>
<stop offset="0.6154" stop-color="#a3daa4"/>
<stop offset="0.6192" stop-color="#abdda4"/>
<stop offset="0.6231" stop-color="#a4daa4"/>
<stop offset="0.6269" stop-color="#92d3a4"/>
<stop offset="0.6308" stop-color="#76c8a5"/>
<stop offset="0.6346" stop-color="#54aead"/>
<stop offset="0.6385" stop-color="#3585bb"/>
<stop offset="0.6423" stop-color="#5659a7"/>
<stop offset="0.6462" stop-color="#5d50a3"/>
<stop offset="0.6500" stop-color="#5e4fa2"/>
<stop offset="0.6538" stop-color="#5a54a4"/>
<stop offset="0.6577" stop-color="#5c52a3"/>
<stop offset="0.6615" stop-color="#5e4fa2"/>
<stop offset="0.6654" stop-color="#5659a7"/>
<stop offset="0.6692" stop-color="#3682ba"/>
<stop offset="0.6731" stop-color="#54aead"/>
<stop offset="0.6769" stop-color="#78c9a5"/>
<stop offset="0.6808" stop-color="#96d5a4"/>
<stop offset="0.6846" stop-color="#aadca4"/>
<stop offset="0.6885" stop-color="#b5e1a2"/>
<stop offset="0.6923" stop-color="#b4e1a2"/>
<stop offset="0.6962" stop-color="#aadca4"/>
<stop offset="0.7000" stop-color="#a0d9a4"/>
<stop offset="0.7038" stop-color="#97d5a4"/>
<stop offset="0.7077" stop-color="#90d2a4"/>
<stop offset="0.7115" stop-color="#8ad0a4"/>
<stop offset="0.7154" stop-color="#82cda5"/>
<stop offset="0.7192" stop-color="#75c8a5"/>
<stop offset="0.7231" stop-color="#58b2ac"/>
<stop offset="0.7269" stop-color="#545ca8"/>
<stop offset="0.7308" stop-color="#358bbc"/>
<stop offset="0.7346" stop-color="#57b1ac"/>
<stop offset="0.7385" stop-color="#6dc5a5"/>
<stop offset="0.7423" stop-color="#81cca5"/>
<stop offset="0.7462" stop-color="#8ad0a4"/>
<stop offset="0.7500" stop-color="#8fd2a4"/>
<stop offset="0.7538" stop-color="#93d4a4"/>
<stop offset="0.7577" stop-color="#96d5a4"/>
<stop offset="0.7615" stop-color="#96d5a4"/>
<stop offset="0.7654" stop-color="#96d5a4"/>
<stop offset="0.7692" stop-color="#96d5a4"/>
<stop offset="0.7731" stop-color="#96d5a4"/>
<stop offset="0.7769" stop-color="#96d5a4"/>
<stop offset="0.7808" stop-color="#96d5a4"/>
<stop offset="0.7846" stop-color="#95d4a4"/>
<stop offset="0.7885" stop-color="#91d3a4"/>
<stop offset="0.7923" stop-color="#8bd1a4"/>
<stop offset="0.7962" stop-color="#84cea5"/>
<stop offset="0.8000" stop-color="#76c8a5"/>
<stop offset="0.8038" stop-color="#66c2a5"/>
<stop offset="0.8077" stop-color="#5ab5aa"/>
<stop offset="0.8115" stop-color="#4da7b0"/>
<stop offset="0.8154" stop-color="#429ab5"/>
<stop offset="0.8192" stop-color="#3990ba"/>
<stop offset="0.8231" stop-color="#3881b9"/>
<stop offset="0.8269" stop-color="#4a69ae"/>
<stop offset="0.8308" stop-color="#5b53a4"/>
<stop offset="0.8346" stop-color="#555aa7"/>
<stop offset="0.8385" stop-color="#466eb1"/>
<stop offset="0.8423" stop-color="#4175b4"/>
<stop offset="0.8462" stop-color="#3f77b5"/>
<stop offset="0.8500" stop-color="#3f77b5"/>
<stop offset="0.8538" stop-color="#3f77b5"/>
<stop offset="0.8577" stop-color="#3f77b5"/>
<stop offset="0.8615" stop-color="#4075b4"/>
<stop offset="0.8654" stop-color="#4372b3"/>
<stop offset="0.8692" stop-color="#496aaf"/>
<stop offset="0.8731" stop-color="#5659a7"/>
<stop offset="0.8769" stop-color="#5857a6"/>
<stop offset="0.8808" stop-color="#4c66ad"/>
<stop offset="0.8846" stop-color="#4470b2"/>
<stop offset="0.8885" stop-color="#3f77b5"/>
<stop offset="0.8923" stop-color="#3b7db8"/>
<stop offset="0.8962" stop-color="#3683ba"/>
<stop offset="0.9000" stop-color="#3387bd"/>
<stop offset="0.9038" stop-color="#3387bd"/>
<stop offset="0.9077" stop-color="#3683bb"/>
<stop offset="0.9115" stop-color="#3b7db8"/>
<stop offset="0.9154" stop-color="#4075b4"/>
<stop offset="0.9192" stop-color="#486baf"/>
<stop offset="0.9231" stop-color="#4f62ab"/>
<stop offset="0.9269" stop-color="#5659a7"/>
<stop offset="0.9308" stop-color="#5b53a4"/>
<stop offset="0.9346" stop-color="#5e4fa2"/>
<stop offset="0.9385" stop-color="#5160aa"/>
<stop offset="0.9423" stop-color="#3f77b5"/>
<stop offset="0.9462" stop-color="#3584bb"/>
<stop offset="0.9500" stop-color="#3288bd"/>
<stop offset="0.9538" stop-color="#3683bb"/>
<stop offset="0.9577" stop-color="#4372b3"/>
<stop offset="0.9615" stop-color="#5955a5"/>
<stop offset="0.9654" stop-color="#5d50a3"/>
<stop offset="0.9692" stop-color="#5e4fa2"/>
<stop offset="0.9731" stop-color="#5e4fa2"/>
<stop offset="0.9769" stop-color="#5e4fa2"/>
<stop offset="0.9808" stop-color="#5e4fa2"/>
<stop offset="0.9846" stop-color="#5e4fa2"/>
<stop offset="0.9885" stop-color="#5e4fa2"/>
<stop offset="0.9923" stop-color="#5e4fa2"/>
<stop offset="0.9962" stop-color="#5e4fa2"/>
<stop offset="1.0000" stop-color="#5e4fa2"/>
</linearGradient></defs>
<polygon points="802,636.2 803,636.2 804,636.2 805,636.2 806,636.2 807,636.3 808,636.3 809,636.4 810,636.5 811,636.7 812,636.9 813,637.1 814,637.4 815,637.7 816,638 817,637.9 818,637.6 819,637.2 820,636.8 821,636.4 822,636.1 823,635.8 824,635.5 825,635.3 826,635.1 827,635 828,634.9 829,634.8 830,634.7 831,634.6 832,634.6 833,634.5 834,634.5 835,634.5 836,634.5 837,634.5 838,634.6 839,634.6 840,634.6 841,634.7 842,634.7 843,634.7 844,634.8 845,634.9 846,634.9 847,635 848,635 849,635 850,635 851,634.9 852,634.9 853,634.8 854,634.8 855,634.8 856,634.7 857,634.7 858,634.6 859,634.6 860,634.6 861,634.7 862,634.8 863,635 864,635.5 865,636.1 866,636.8 867,636 868,635.1 869,634.2 870,633.4 871,632.8 872,632.2 873,631.7 874,631.5 875,631.3 876,631.1 877,631 878,631 879,631.1 880,631.3 881,631.5 882,631.8 883,632.2 884,632.8 885,633.2 886,633.8 887,634.2 888,634.8 889,635.4 890,636 891,636.7 892,637.2 893,637.7 894,638 895,637.8 896,637.5 897,637.2 898,637.2 899,637.1 900,637 901,637 902,637 903,637 904,637 905,637 906,637 907,637 908,637 909,637 910,637 911,636.9 912,636.8 913,636.8 914,636.6 915,636.3 916,636 917,635.8 918,635.5 919,635.3 920,635.1 921,635 922,634.9 923,634.8 924,634.8 925,634.8 926,634.8 927,634.8 928,634.8 929,634.9 930,634.9 931,635 932,635.1 933,635.2 934,635.3 935,635.5 936,635.7 937,635.9 938,636.2 939,636.5 940,636.9 941,637.3 942,637.8 943,638.2 944,638.5 945,638.3 946,637.9 947,637.5 948,637.2 949,636.9 950,636.7 951,636.5 952,636.3 953,636.1 954,636 955,635.9 956,635.8 957,635.8 958,635.8 959,635.8 960,635.8 961,635.9 962,636 963,636.1 964,636.3 965,636.5 966,636.7 967,636.7 968,636.3 969,636 970,635.8 971,635.6 972,635.5 973,635.6 974,635.7 975,635.9 976,636.1 977,636.6 978,637 979,637.4 980,637.4 981,636.6 982,635.9 983,635.3 984,634.7 985,634 986,633.5 987,633 988,632.7 989,632.6 990,632.5 991,632.5 992,632.6 993,632.7 994,633 995,633.7 996,635 997,636.2 998,636.2 999,635 1000,634 1001,633 1002,632.2 1003,631.7 1004,631.4 1005,631.1 1006,631 1007,631 1008,631.1 1009,631.4 1010,631.7 1011,632.2 1012,632.9 1013,633.6 1014,634.1 1015,634.3 1016,634.5 1017,634.7 1018,635 1019,635.9 1020,637.1 1021,638 1022,637.7 1023,637.2 1024,637 1025,636.8 1026,636.8 1027,637 1028,637.2 1029,637.6 1030,638 1031,638.2 1032,638.3 1033,638.4 1034,638.2 1035,638.1 1036,638.2 1037,638.4 1038,638.4 1039,638.2 1040,637.6 1041,636.8 1042,636.1 1043,635.8 1044,635.6 1045,635.5 1046,635.6 1047,635.7 1048,635.9 1049,636.1 1050,636.4 1051,636.8 1052,637.1 1053,637.5 1054,637.7 1055,637.7 1056,637.1 1057,636.5 1058,635.9 1059,635.3 1060,634.7 1061,634.2 1062,633.9 1063,633.5 1064,633.3 1065,633.1 1066,633 1067,633 1068,633 1069,633.1 1070,633.3 1071,633.6 1072,634 1073,634.6 1074,635.2 1075,636.1 1076,637 1077,637.8 1078,637.4 1079,636.8 1080,636.3 1081,635.8 1082,635.4 1083,635.1 1084,634.8 1085,634.6 1086,634.5 1087,634.4 1088,634.3 1089,634.3 1090,634.3 1091,634.3 1092,634.4 1093,634.5 1094,634.7 1095,634.9 1096,635.2 1097,635.5 1098,635.8 1099,636.2 1100,636.6 1101,637 1102,637.5 1103,637.9 1104,637.9 1105,637.5 1106,637 1107,636.6 1108,636.2 1109,635.8 1110,635.5 1111,635.2 1112,635 1113,634.8 1114,634.7 1115,634.6 1116,634.6 1117,634.5 1118,634.5 1119,634.5 1120,634.6 1121,634.7 1122,634.9 1123,635 1124,635.3 1125,635.6 1126,635.9 1127,636.3 1128,636.8 1129,637.2 1130,637.6 1131,637.7 1132,637.8 1133,637.9 1134,637.8 1135,637.7 1136,637.6 1137,637.7 1138,637.8 1139,637.9 1140,637.8 1141,637.7 1142,637.4 1143,636.9 1144,636.2 1145,635.8 1146,635.3 1147,635 1148,634.8 1149,634.6 1150,634.4 1151,634.4 1152,634.3 1153,634.3 1154,634.2 1155,634.3 1156,634.3 1157,634.3 1158,634.4 1159,634.4 1160,634.4 1161,634.5 1162,634.6 1163,634.6 1164,634.6 1165,634.7 1166,634.7 1167,634.8 1168,634.8 1169,634.9 1170,635.1 1171,635.5 1172,636.2 1173,637.2 1174,636.7 1175,636 1176,635.6 1177,635.3 1178,635.1 1179,635 1180,634.9 1181,634.8 1182,634.8 1183,634.7 1184,634.7 1185,634.7 1186,634.7 1187,634.7 1188,634.7 1189,634.7 1190,634.7 1191,634.7 1192,634.7 1193,634.7 1194,634.7 1195,634.7 1196,634.7 1197,634.7 1198,634.7 1199,634.7 1200,634.7 1201,634.7 1202,634.7 1203,634.7 1204,634.7 1205,634.7 1206,634.7 1207,634.8 1208,634.8 1209,634.8 1210,634.9 1211,634.9 1212,635 1213,635.1 1214,635.2 1215,635.3 1216,635.5 1217,635.6 1218,635.7 1219,635.9 1220,636 1221,636.2 1222,636.5 1223,636.9 1224,637.2 1225,637.7 1226,638.2 1227,638.2 1228,637.7 1229,637.2 1230,637.1 1231,636.9 1232,636.8 1233,636.7 1234,636.6 1235,636.6 1236,636.6 1237,636.5 1238,636.5 1239,636.5 1240,636.5 1241,636.6 1242,636.7 1243,636.7 1244,636.9 1245,637 1246,637.3 1247,637.6 1248,637.7 1249,637.7 1250,637.5 1251,637.2 1252,637 1253,636.8 1254,636.6 1255,636.5 1256,636.3 1257,636.2 1258,636.2 1259,636.1 1260,636.1 1261,636 1262,636 1263,636 1264,636.1 1265,636.2 1266,636.3 1267,636.4 1268,636.5 1269,636.6 1270,636.8 1271,636.9 1272,637.1 1273,637.3 1274,637.5 1275,637.8 1276,638 1277,638.3 1278,638.6 1279,638.8 1280,638.4 1281,637.8 1282,637.3 1283,636.8 1284,636.5 1285,636.4 1286,636.3 1287,636.2 1288,636.3 1289,636.5 1290,636.8 1291,637.2 1292,637.8 1293,638.1 1294,638.2 1295,638.3 1296,638.4 1297,638.3 1298,638.2 1299,638.1 1300,638.1 1301,638.1 1302,638.2 1303,638.4 1304,638.4 1305,638.4 1306,638.3 1307,638.2 1308,638.1 1309,638.1 1310,638 1311,638 1312,638 1312,643 1311,643 1310,643 1309,642.9 1308,642.9 1307,642.8 1306,642.7 1305,642.6 1304,642.6 1303,642.6 1302,642.8 1301,642.9 1300,642.9 1299,642.9 1298,642.8 1297,642.7 1296,642.6 1295,642.7 1294,642.8 1293,642.9 1292,643.2 1291,643.8 1290,644.2 1289,644.5 1288,644.7 1287,644.8 1286,644.7 1285,644.6 1284,644.5 1283,644.2 1282,643.7 1281,643.2 1280,642.6 1279,642.2 1278,642.4 1277,642.7 1276,643 1275,643.2 1274,643.5 1273,643.7 1272,643.9 1271,644.1 1270,644.2 1269,644.4 1268,644.5 1267,644.6 1266,644.7 1265,644.8 1264,644.9 1263,645 1262,645 1261,645 1260,644.9 1259,644.9 1258,644.8 1257,644.8 1256,644.7 1255,644.5 1254,644.4 1253,644.2 1252,644 1251,643.8 1250,643.5 1249,643.3 1248,643.3 1247,643.4 1246,643.7 1245,644 1244,644.1 1243,644.3 1242,644.3 1241,644.4 1240,644.5 1239,644.5 1238,644.5 1237,644.5 1236,644.4 1235,644.4 1234,644.4 1233,644.3 1232,644.2 1231,644.1 1230,643.9 1229,643.8 1228,643.3 1227,642.8 1226,642.8 1225,643.3 1224,643.8 1223,644.1 1222,644.5 1221,644.8 1220,645 1219,645.1 1218,645.3 1217,645.4 1216,645.5 1215,645.7 1214,645.8 1213,645.9 1212,646 1211,646.1 1210,646.1 1209,646.2 1208,646.2 1207,646.2 1206,646.3 1205,646.3 1204,646.3 1203,646.3 1202,646.3 1201,646.3 1200,646.3 1199,646.3 1198,646.3 1197,646.3 1196,646.3 1195,646.3 1194,646.3 1193,646.3 1192,646.3 1191,646.3 1190,646.3 1189,646.3 1188,646.3 1187,646.3 1186,646.3 1185,646.3 1184,646.3 1183,646.3 1182,646.2 1181,646.2 1180,646.1 1179,646 1178,645.9 1177,645.7 1176,645.4 1175,645 1174,644.3 1173,643.8 1172,644.8 1171,645.5 1170,645.9 1169,646.1 1168,646.2 1167,646.2 1166,646.3 1165,646.3 1164,646.4 1163,646.4 1162,646.4 1161,646.5 1160,646.6 1159,646.6 1158,646.6 1157,646.7 1156,646.7 1155,646.7 1154,646.8 1153,646.7 1152,646.7 1151,646.6 1150,646.6 1149,646.4 1148,646.2 1147,646 1146,645.7 1145,645.2 1144,644.8 1143,644.1 1142,643.6 1141,643.3 1140,643.2 1139,643.1 1138,643.2 1137,643.3 1136,643.4 1135,643.3 1134,643.2 1133,643.1 1132,643.2 1131,643.3 1130,643.4 1129,643.8 1128,644.2 1127,644.7 1126,645.1 1125,645.4 1124,645.7 1123,646 1122,646.1 1121,646.3 1120,646.4 1119,646.5 1118,646.5 1117,646.5 1116,646.4 1115,646.4 1114,646.3 1113,646.2 1112,646 1111,645.8 1110,645.5 1109,645.2 1108,644.8 1107,644.4 1106,644 1105,643.5 1104,643.1 1103,643.1 1102,643.5 1101,644 1100,644.4 1099,644.8 1098,645.2 1097,645.5 1096,645.8 1095,646.1 1094,646.3 1093,646.5 1092,646.6 1091,646.7 1090,646.7 1089,646.7 1088,646.7 1087,646.6 1086,646.5 1085,646.4 1084,646.2 1083,645.9 1082,645.6 1081,645.2 1080,644.7 1079,644.2 1078,643.6 1077,643.2 1076,644 1075,644.9 1074,645.8 1073,646.4 1072,647 1071,647.4 1070,647.7 1069,647.9 1068,648 1067,648 1066,648 1065,647.9 1064,647.7 1063,647.5 1062,647.1 1061,646.8 1060,646.3 1059,645.7 1058,645.1 1057,644.5 1056,643.9 1055,643.3 1054,643.3 1053,643.5 1052,643.9 1051,644.2 1050,644.6 1049,644.9 1048,645.1 1047,645.3 1046,645.4 1045,645.5 1044,645.4 1043,645.2 1042,644.9 1041,644.2 1040,643.4 1039,642.8 1038,642.6 1037,642.6 1036,642.8 1035,642.9 1034,642.8 1033,642.6 1032,642.7 1031,642.8 1030,643 1029,643.4 1028,643.8 1027,644 1026,644.2 1025,644.2 1024,644 1023,643.8 1022,643.3 1021,643 1020,643.9 1019,645.1 1018,646 1017,646.3 1016,646.5 1015,646.7 1014,646.9 1013,647.4 1012,648.1 1011,648.8 1010,649.3 1009,649.6 1008,649.9 1007,650 1006,650 1005,649.9 1004,649.6 1003,649.3 1002,648.8 1001,648 1000,647 999,646 998,644.8 997,644.8 996,646 995,647.3 994,648 993,648.3 992,648.4 991,648.5 990,648.5 989,648.4 988,648.3 987,648 986,647.5 985,647 984,646.3 983,645.7 982,645.1 981,644.4 980,643.6 979,643.6 978,644 977,644.4 976,644.9 975,645.1 974,645.3 973,645.4 972,645.5 971,645.4 970,645.2 969,645 968,644.7 967,644.3 966,644.3 965,644.5 964,644.7 963,644.9 962,645 961,645.1 960,645.2 959,645.2 958,645.2 957,645.2 956,645.2 955,645.1 954,645 953,644.9 952,644.7 951,644.5 950,644.3 949,644.1 948,643.8 947,643.5 946,643.1 945,642.7 944,642.5 943,642.8 942,643.2 941,643.7 940,644.1 939,644.5 938,644.8 937,645.1 936,645.3 935,645.5 934,645.7 933,645.8 932,645.9 931,646 930,646.1 929,646.1 928,646.2 927,646.2 926,646.2 925,646.2 924,646.2 923,646.2 922,646.1 921,646 920,645.9 919,645.7 918,645.5 917,645.2 916,645 915,644.7 914,644.4 913,644.2 912,644.2 911,644.1 910,644 909,644 908,644 907,644 906,644 905,644 904,644 903,644 902,644 901,644 900,644 899,643.9 898,643.8 897,643.8 896,643.5 895,643.2 894,643 893,643.3 892,643.8 891,644.3 890,645 889,645.6 888,646.2 887,646.8 886,647.2 885,647.8 884,648.2 883,648.8 882,649.2 881,649.5 880,649.7 879,649.9 878,650 877,650 876,649.9 875,649.7 874,649.5 873,649.3 872,648.8 871,648.2 870,647.6 869,646.8 868,645.9 867,645 866,644.2 865,644.9 864,645.5 863,646 862,646.2 861,646.3 860,646.4 859,646.4 858,646.4 857,646.3 856,646.3 855,646.2 854,646.2 853,646.2 852,646.1 851,646.1 850,646 849,646 848,646 847,646 846,646.1 845,646.1 844,646.2 843,646.3 842,646.3 841,646.3 840,646.4 839,646.4 838,646.4 837,646.5 836,646.5 835,646.5 834,646.5 833,646.5 832,646.4 831,646.4 830,646.3 829,646.2 828,646.1 827,646 826,645.9 825,645.7 824,645.5 823,645.2 822,644.9 821,644.6 820,644.2 819,643.8 818,643.4 817,643.1 816,643 815,643.3 814,643.6 813,643.9 812,644.1 811,644.3 810,644.5 809,644.6 808,644.7 807,644.7 806,644.8 805,644.8 804,644.8 803,644.8 802,644.8" fill="url(#gb)"/>
<rect x="52.4" y="671.5" width="3.6" height="3.6"/>
<text x="54.2" y="691.2" font-size="20.3" text-anchor="middle">1490</text>
<rect x="121.2" y="671.5" width="3.6" height="3.6"/>
<text x="123" y="691.2" font-size="20.3" text-anchor="middle">1470</text>
<rect x="189.9" y="671.5" width="3.6" height="3.6"/>
<text x="191.7" y="691.2" font-size="20.3" text-anchor="middle">1450</text>
<rect x="258.7" y="671.5" width="3.6" height="3.6"/>
<text x="260.5" y="691.2" font-size="20.3" text-anchor="middle">1430</text>
<rect x="327.5" y="671.5" width="3.6" height="3.6"/>
<text x="329.3" y="691.2" font-size="20.3" text-anchor="middle">1410</text>
<rect x="396.2" y="671.5" width="3.6" height="3.6"/>
<text x="398" y="691.2" font-size="20.3" text-anchor="middle">1390</text>
<rect x="465" y="671.5" width="3.6" height="3.6"/>
<text x="466.8" y="691.2" font-size="20.3" text-anchor="middle">1370</text>
<rect x="533.8" y="671.5" width="3.6" height="3.6"/>
<text x="535.6" y="691.2" font-size="20.3" text-anchor="middle">1350</text>
<rect x="828.9" y="671.5" width="3.6" height="3.6"/>
<text x="830.7" y="691.2" font-size="20.3" text-anchor="middle">1180</text>
<rect x="897.6" y="671.5" width="3.6" height="3.6"/>
<text x="899.4" y="691.2" font-size="20.3" text-anchor="middle">1140</text>
<rect x="966.3" y="671.5" width="3.6" height="3.6"/>
<text x="968.1" y="691.2" font-size="20.3" text-anchor="middle">1100</text>
<rect x="1035.1" y="671.5" width="3.6" height="3.6"/>
<text x="1036.9" y="691.2" font-size="20.3" text-anchor="middle">1060</text>
<rect x="1103.8" y="671.5" width="3.6" height="3.6"/>
<text x="1105.6" y="691.2" font-size="20.3" text-anchor="middle">1020</text>
<rect x="1172.5" y="671.5" width="3.6" height="3.6"/>
<text x="1174.3" y="691.2" font-size="20.3" text-anchor="middle">980</text>
<rect x="1241.2" y="671.5" width="3.6" height="3.6"/>
<text x="1243" y="691.2" font-size="20.3" text-anchor="middle">940</text>
<rect x="1309.9" y="671.5" width="3.6" height="3.6"/>
<text x="1311.7" y="691.2" font-size="20.3" text-anchor="middle">900</text>
<text x="186.3" y="713.9" font-size="20.25">Wavenumber (cm<tspan font-size="14" dx="1" dy="-9.7">−1</tspan><tspan dy="9.7">)</tspan></text>
<text x="963" y="713.9" font-size="20.25">Wavenumber (cm<tspan font-size="14" dx="1" dy="-9.7">−1</tspan><tspan dy="9.7">)</tspan></text>
<text transform="translate(18.6 377.6) rotate(-90)" font-size="20.3" font-weight="bold">Second derivatives</text>
<text transform="translate(799.7 377.6) rotate(-90)" font-size="20.3" font-weight="bold">Second derivatives</text>
<text x="62.3" y="33.1" font-size="41" stroke="none">a</text>
<text x="825" y="33.1" font-size="42" stroke="none">b</text>
<rect x="559.4" y="33.3" width="24.4" height="162.3" fill="#D9D9D9"/>
<text transform="translate(566.5 114.4) rotate(90)" font-size="13.5" fill="#3a3a3a" stroke="none" text-anchor="middle">pH7</text>
<rect x="591.2" y="44" width="164" height="75" fill="#56B4E9"/>
<rect x="591.2" y="119" width="139.6" height="75.8" fill="#E69F00"/>
<path d="M748.7,69.3V93.9M761.3,69.3V93.9M748.7,81.6H761.3" stroke="#000" stroke-width="1.5" fill="none"/>
<text x="763.5" y="88.3" font-size="24.5" letter-spacing="0.9" stroke="none">**</text>
<path d="M724.6,144.7V169.3M737.1,144.7V169.3M724.6,157H737.1" stroke="#000" stroke-width="1.5" fill="none"/>
<text x="739.3" y="163.7" font-size="24.5" letter-spacing="0.9" stroke="none">**</text>
<rect x="559.4" y="204.4" width="24.4" height="162" fill="#D9D9D9"/>
<text transform="translate(566.5 285.4) rotate(90)" font-size="13.5" fill="#3a3a3a" stroke="none" text-anchor="middle">OL</text>
<rect x="591.2" y="211.6" width="37.3" height="75.2" fill="#56B4E9"/>
<rect x="591.2" y="286.8" width="52.8" height="75.2" fill="#E69F00"/>
<path d="M621.9,237V261.6M635.4,237V261.6M621.9,249.3H635.4" stroke="#000" stroke-width="1.5" fill="none"/>
<text x="637.6" y="256" font-size="24.5" letter-spacing="0.9" stroke="none">**</text>
<path d="M637.1,312.2V336.8M650.4,312.2V336.8M637.1,324.5H650.4" stroke="#000" stroke-width="1.5" fill="none"/>
<text x="652.6" y="331.2" font-size="24.5" letter-spacing="0.9" stroke="none">**</text>
<rect x="559.4" y="375.2" width="24.4" height="162.3" fill="#D9D9D9"/>
<text transform="translate(566.5 456.4) rotate(90)" font-size="13.5" fill="#3a3a3a" stroke="none" text-anchor="middle">FB</text>
<rect x="591.2" y="378.8" width="1.7" height="75.8" fill="#56B4E9"/>
<rect x="591.2" y="454.6" width="28.5" height="74.6" fill="#E69F00"/>
<path d="M595.6,404.5V429.1M599.2,404.5V429.1M595.6,416.8H599.2" stroke="#000" stroke-width="1.5" fill="none"/>
<path d="M612.8,479.7V504.3M626,479.7V504.3M612.8,492H626" stroke="#000" stroke-width="1.5" fill="none"/>
<text x="628.2" y="498.7" font-size="24.5" letter-spacing="0.9" stroke="none">**</text>
<rect x="589.5" y="555.3" width="3.6" height="3.6"/>
<text x="591.3" y="576.8" font-size="20" text-anchor="middle">0</text>
<rect x="641.4" y="555.3" width="3.6" height="3.6"/>
<text x="643.2" y="576.8" font-size="20" text-anchor="middle">5</text>
<rect x="693.5" y="555.3" width="3.6" height="3.6"/>
<text x="695.3" y="576.8" font-size="20" text-anchor="middle">10</text>
<rect x="745.7" y="555.3" width="3.6" height="3.6"/>
<text x="747.5" y="576.8" font-size="20" text-anchor="middle">15</text>
<text x="649.3" y="602" font-size="21"><tspan font-family='"Liberation Serif", serif' font-size="22">η</tspan><tspan dx="0.8"> (a.u.)</tspan></text>
<rect x="1330" y="33.3" width="24.4" height="162.3" fill="#D9D9D9"/>
<text transform="translate(1337.1 114.4) rotate(90)" font-size="13.5" fill="#3a3a3a" stroke="none" text-anchor="middle">pH7</text>
<rect x="1361.8" y="44" width="166.7" height="75" fill="#56B4E9"/>
<rect x="1361.8" y="119" width="151.8" height="75.8" fill="#E69F00"/>
<path d="M1523.5,69.3V93.9M1533.8,69.3V93.9M1523.5,81.6H1533.8" stroke="#000" stroke-width="1.5" fill="none"/>
<text x="1534.7" y="88.3" font-size="24.5" letter-spacing="0.9" stroke="none">**</text>
<path d="M1508.6,144.7V169.3M1519.1,144.7V169.3M1508.6,157H1519.1" stroke="#000" stroke-width="1.5" fill="none"/>
<text x="1520" y="163.7" font-size="24.5" letter-spacing="0.9" stroke="none">**</text>
<rect x="1330" y="204.4" width="24.4" height="162" fill="#D9D9D9"/>
<text transform="translate(1337.1 285.4) rotate(90)" font-size="13.5" fill="#3a3a3a" stroke="none" text-anchor="middle">OL</text>
<rect x="1361.8" y="211.6" width="45" height="75.2" fill="#56B4E9"/>
<rect x="1361.8" y="286.8" width="8.5" height="75.2" fill="#E69F00"/>
<path d="M1400.8,237V261.6M1412.4,237V261.6M1400.8,249.3H1412.4" stroke="#000" stroke-width="1.5" fill="none"/>
<text x="1413.3" y="256" font-size="24.5" letter-spacing="0.9" stroke="none">**</text>
<path d="M1364.2,312.2V336.8M1376.7,312.2V336.8M1364.2,324.5H1376.7" stroke="#000" stroke-width="1.5" fill="none"/>
<rect x="1330" y="375.2" width="24.4" height="162.3" fill="#D9D9D9"/>
<text transform="translate(1337.1 456.4) rotate(90)" font-size="13.5" fill="#3a3a3a" stroke="none" text-anchor="middle">FB</text>
<rect x="1361.8" y="378.8" width="24.8" height="75.8" fill="#56B4E9"/>
<rect x="1361.8" y="454.6" width="11.8" height="74.6" fill="#E69F00"/>
<path d="M1381.1,404.5V429.1M1392.3,404.5V429.1M1381.1,416.8H1392.3" stroke="#000" stroke-width="1.5" fill="none"/>
<text x="1393.2" y="423.5" font-size="24.5" letter-spacing="0.9" stroke="none">**</text>
<path d="M1367.6,479.7V504.3M1379.5,479.7V504.3M1367.6,492H1379.5" stroke="#000" stroke-width="1.5" fill="none"/>
<rect x="1360.2" y="555.3" width="3.6" height="3.6"/>
<text x="1362" y="576.8" font-size="20" text-anchor="middle">0</text>
<rect x="1405" y="555.3" width="3.6" height="3.6"/>
<text x="1406.8" y="576.8" font-size="20" text-anchor="middle">5</text>
<rect x="1449.7" y="555.3" width="3.6" height="3.6"/>
<text x="1451.5" y="576.8" font-size="20" text-anchor="middle">10</text>
<rect x="1494.3" y="555.3" width="3.6" height="3.6"/>
<text x="1496.1" y="576.8" font-size="20" text-anchor="middle">15</text>
<rect x="1539.1" y="555.3" width="3.6" height="3.6"/>
<text x="1540.9" y="576.8" font-size="20" text-anchor="middle">20</text>
<text x="1419.7" y="602" font-size="21"><tspan font-family='"Liberation Serif", serif' font-size="22">η</tspan><tspan dx="0.8"> (a.u.)</tspan></text>
<rect x="1495.1" y="257.1" width="37.6" height="37.6" fill="#56B4E9"/>
<rect x="1495.1" y="306.7" width="37.6" height="37.5" fill="#E69F00"/>
<text x="1558.8" y="283.7" font-size="28">30 min</text>
<text x="1563.7" y="329" font-size="28">24 h</text>
<text x="1494.5" y="441" font-size="28.4">……</text>
<text x="1554.9" y="441" font-size="28">NT</text>
<text x="1494.6" y="474.1" font-size="28" letter-spacing="0.3">------</text>
<text x="1555.1" y="474.7" font-size="28">30 min</text>
<line x1="1495.4" y1="504.1" x2="1556" y2="504.1" stroke="#000" stroke-width="2.7"/>
<text x="1560.7" y="508.8" font-size="28">24 h</text>
<defs><linearGradient id="gl" x1="0" y1="1" x2="0" y2="0">
<stop offset="0.026" stop-color="#5e4fa2"/>
<stop offset="0.131" stop-color="#3288bd"/>
<stop offset="0.237" stop-color="#66c2a5"/>
<stop offset="0.342" stop-color="#abdda4"/>
<stop offset="0.447" stop-color="#e6f598"/>
<stop offset="0.553" stop-color="#fee08b"/>
<stop offset="0.658" stop-color="#fdae61"/>
<stop offset="0.763" stop-color="#f46d43"/>
<stop offset="0.869" stop-color="#d53e4f"/>
<stop offset="0.974" stop-color="#9e0142"/>
</linearGradient></defs>
<rect x="1589.5" y="558.7" width="17.6" height="106.5" fill="url(#gl)"/>
<path d="M1589.5,561.5h3.6M1607.1,561.5h-3.6" stroke="#fff" stroke-width="0.7" opacity=".8"/>
<text x="1613.7" y="567.3" font-size="16.4">1.00</text>
<path d="M1589.5,586.8h3.6M1607.1,586.8h-3.6" stroke="#fff" stroke-width="0.7" opacity=".8"/>
<text x="1613.7" y="592.5" font-size="16.4">0.75</text>
<path d="M1589.5,612h3.6M1607.1,612h-3.6" stroke="#fff" stroke-width="0.7" opacity=".8"/>
<text x="1613.7" y="617.8" font-size="16.4">0.50</text>
<path d="M1589.5,637.2h3.6M1607.1,637.2h-3.6" stroke="#fff" stroke-width="0.7" opacity=".8"/>
<text x="1613.7" y="643" font-size="16.4">0.25</text>
<path d="M1589.5,662.5h3.6M1607.1,662.5h-3.6" stroke="#fff" stroke-width="0.7" opacity=".8"/>
<text x="1613.7" y="668.3" font-size="16.4">0.00</text>
</svg>
</body></html>
